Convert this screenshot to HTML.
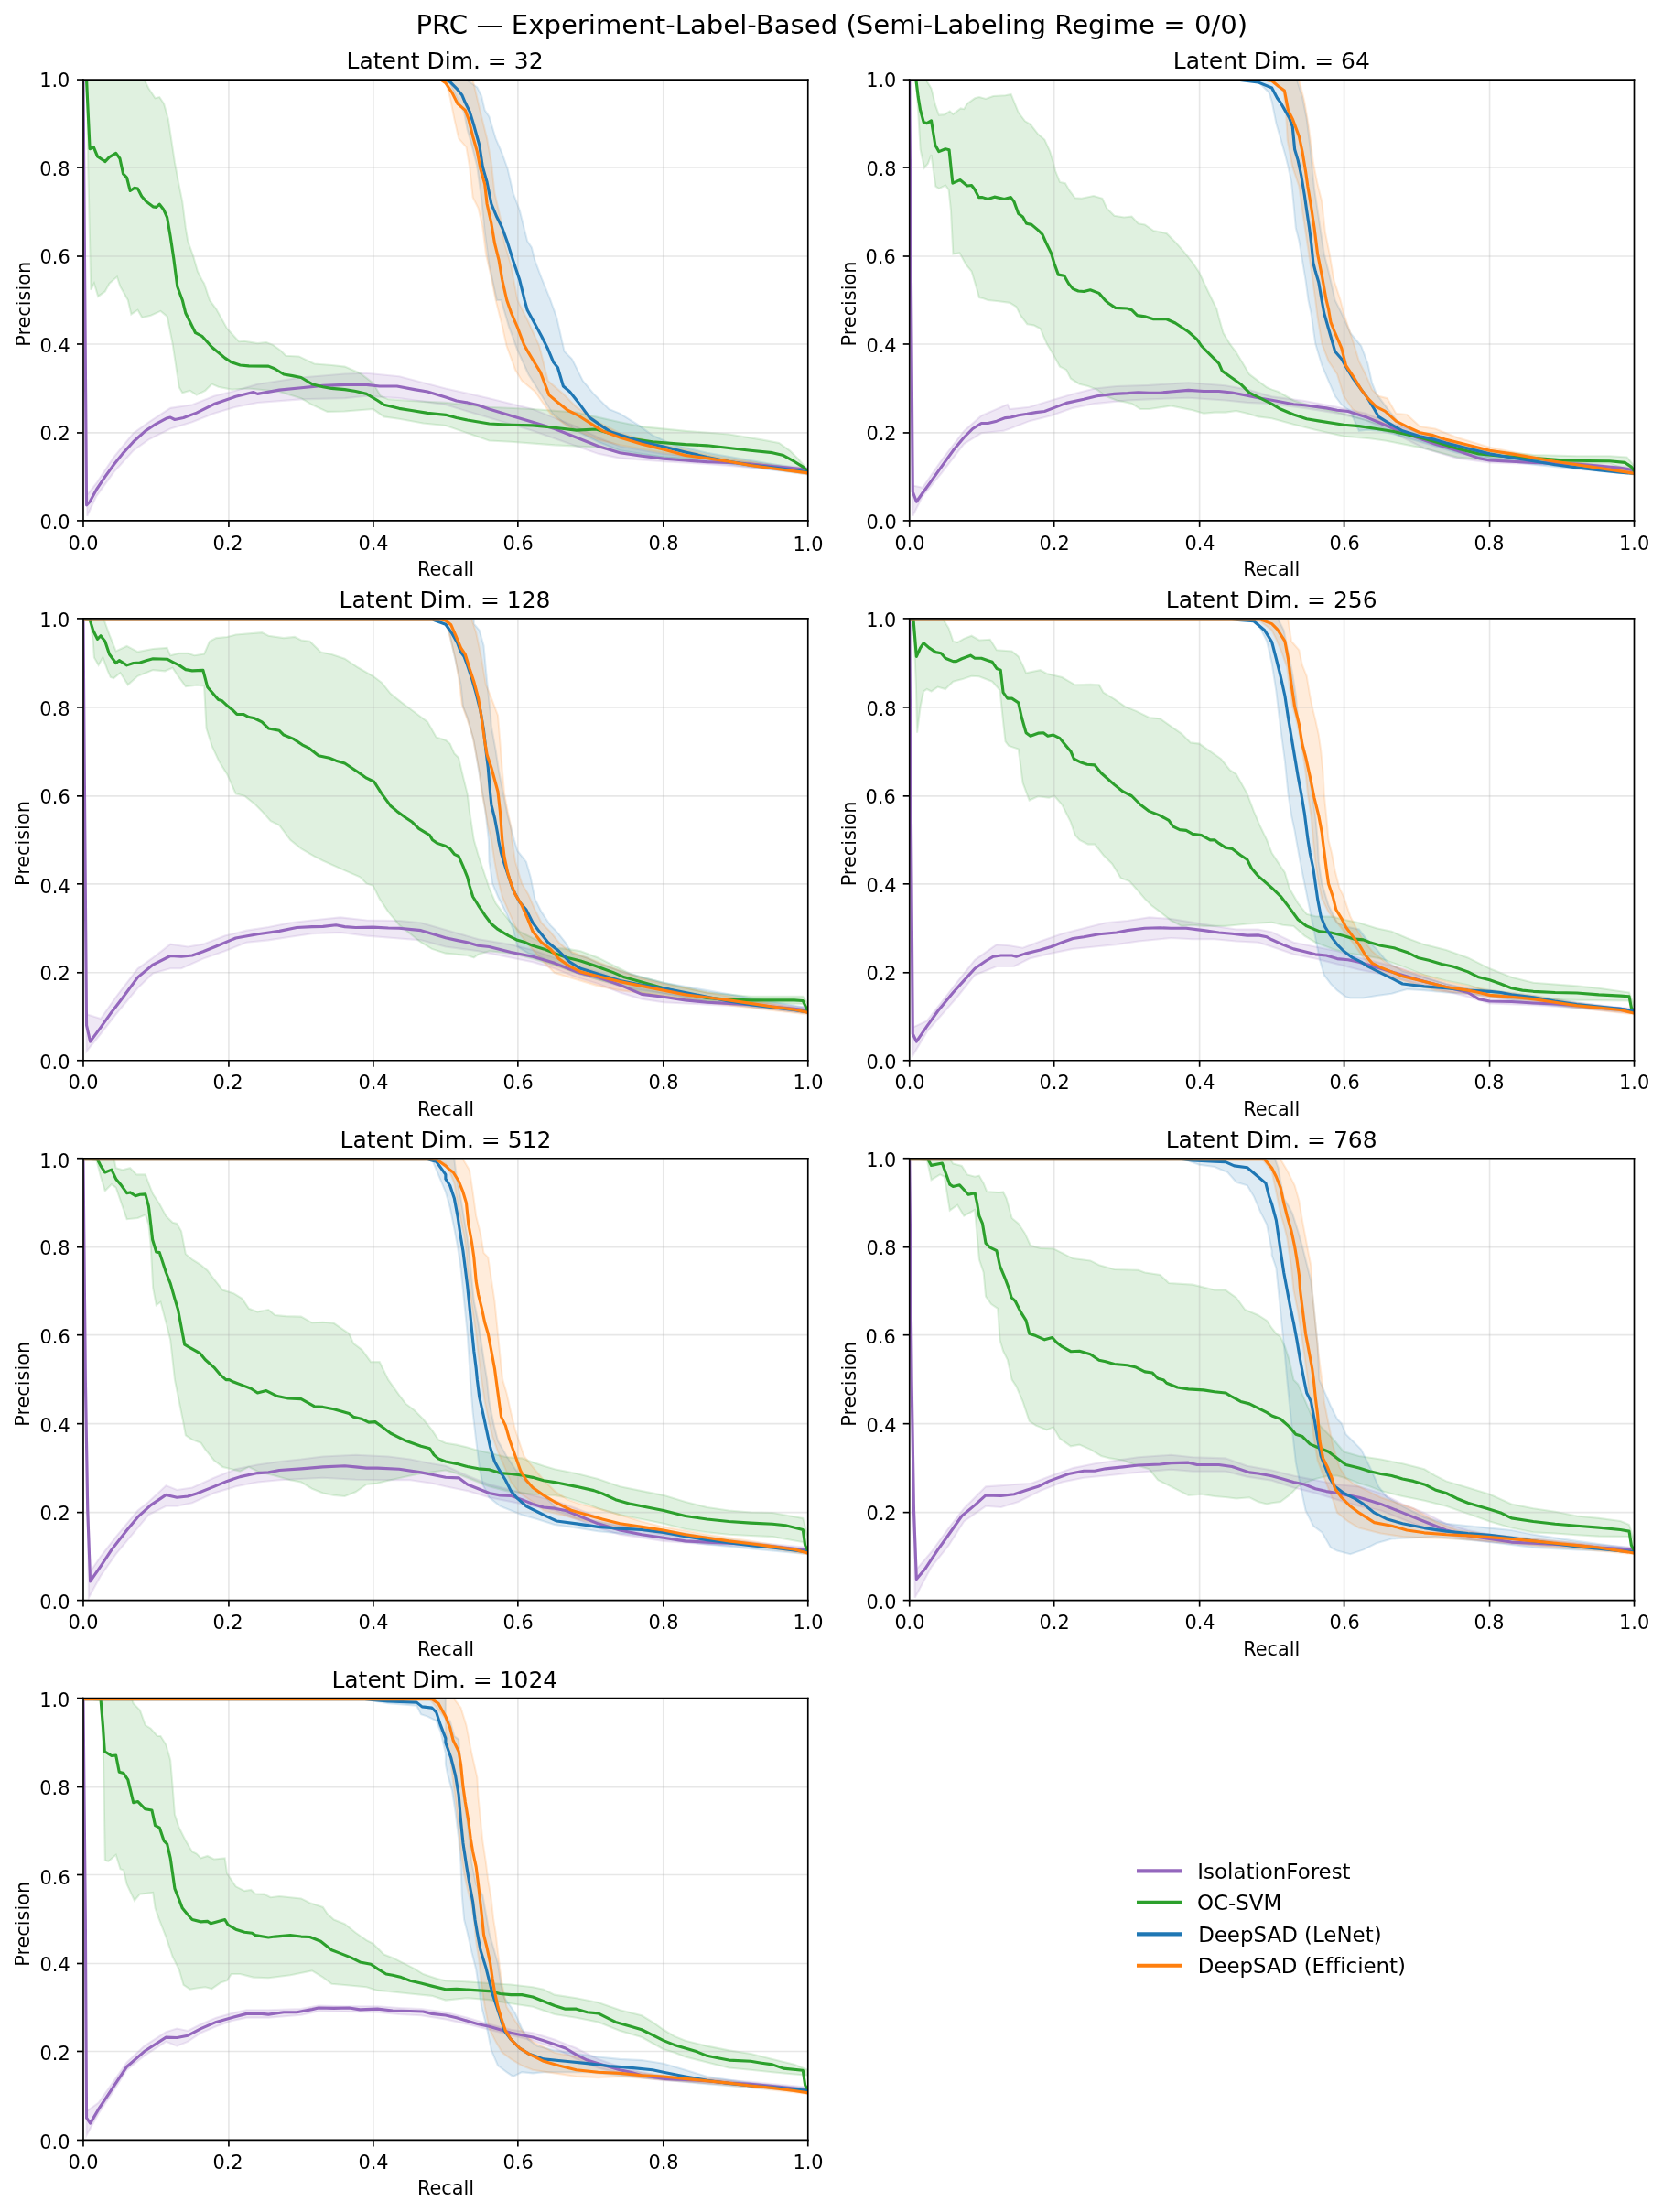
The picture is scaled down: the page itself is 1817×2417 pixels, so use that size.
<!DOCTYPE html>
<html><head><meta charset="utf-8"><title>PRC</title><style>html,body{margin:0;padding:0;background:#fff;}svg{display:block;will-change:transform;}text{font-variant-ligatures:none;font-feature-settings:"liga" 0,"clig" 0;}</style></head><body>
<svg width="1817" height="2417" viewBox="0 0 872.39952 1160.39952" version="1.1">
 
 <defs>
  <style type="text/css">*{stroke-linejoin: round; stroke-linecap: butt}</style>
 </defs>
 <g id="figure_1">
  <g id="patch_1">
   <path d="M 0 1160.39952 
L 872.39952 1160.39952 
L 872.39952 0 
L 0 0 
z
" style="fill: #ffffff"/>
  </g>
  <g id="axes_1">
   <g id="patch_2">
    <path d="M 43.76 273.57988 
L 423.92976 273.57988 
L 423.92976 41.76048 
L 43.76 41.76048 
z
" style="fill: #ffffff"/>
   </g>
   <g id="patch_3">
    <path d="M 43.6784 41.76048 
L 45.049994 260.336798 
L 50.53637 253.476997 
L 59.680331 239.757394 
L 69.967287 227.181092 
L 77.968252 221.464592 
L 89.398203 214.03314 
L 100.828153 212.31819 
L 112.258104 207.744989 
L 123.688055 204.886739 
L 135.118005 201.456838 
L 157.977907 198.026938 
L 180.837808 196.083328 
L 192.267759 195.740337 
L 209.412685 197.455288 
L 233.75848 203.743439 
L 256.618381 208.88829 
L 279.478283 214.60479 
L 302.338184 223.751192 
L 313.768135 229.467693 
L 325.198085 234.040894 
L 348.057987 238.042444 
L 370.917888 240.329045 
L 423.83856 245.473895 
L 423.83856 247.760496 
L 370.917888 243.415955 
L 348.057987 242.043995 
L 325.198085 240.329045 
L 313.768135 238.042444 
L 302.338184 234.040894 
L 279.478283 226.037792 
L 256.618381 219.177991 
L 233.75848 212.31819 
L 209.412685 208.88829 
L 192.267759 207.744989 
L 180.837808 208.88829 
L 157.977907 209.45994 
L 135.118005 211.17489 
L 123.688055 213.46149 
L 112.258104 216.891391 
L 100.828153 221.464592 
L 89.398203 224.894492 
L 77.968252 230.610993 
L 69.967287 236.327494 
L 59.680331 247.760496 
L 50.53637 260.336798 
L 45.735791 270.626499 
z
" clip-path="url(#pd69a87512f)" style="fill: #9467bd; fill-opacity: 0.15; stroke: #9467bd; stroke-opacity: 0.15; stroke-linejoin: miter"/>
   </g>
   <g id="patch_4">
    <path d="M 43.6784 40.617404 
L 75.682262 40.617404 
L 75.682262 41.76048 
L 77.968252 46.332784 
L 81.397237 51.476627 
L 83.683227 50.905089 
L 85.969218 54.334317 
L 88.255208 62.33585 
L 89.9697 73.766611 
L 91.684193 85.197372 
L 93.398685 94.341981 
L 95.684676 105.772742 
L 97.399168 119.489655 
L 98.542163 126.348111 
L 101.399651 134.349644 
L 103.685641 142.351177 
L 105.971631 146.923481 
L 107.114626 148.638095 
L 109.972114 157.439781 
L 113.401099 162.012982 
L 119.116075 172.302684 
L 125.402547 179.162485 
L 128.260035 178.933825 
L 135.118005 180.077125 
L 139.689986 179.505475 
L 143.118971 180.877435 
L 147.119454 183.735686 
L 149.976941 186.593936 
L 156.834912 186.936926 
L 164.835877 190.824147 
L 173.979838 191.510127 
L 180.837808 192.310437 
L 188.838774 195.740337 
L 195.696744 200.885188 
L 199.697227 207.744989 
L 203.69771 209.45994 
L 215.12766 210.26025 
L 233.75848 211.17489 
L 256.618381 213.46149 
L 279.478283 214.60479 
L 302.338184 216.319741 
L 325.198085 221.464592 
L 336.628036 223.751192 
L 359.487938 226.037792 
L 382.347839 227.752743 
L 399.492765 230.610993 
L 408.636726 232.325943 
L 414.351701 236.327494 
L 418.923681 240.900695 
L 423.83856 246.617196 
L 423.83856 248.332146 
L 393.77779 243.187295 
L 370.917888 240.900695 
L 348.057987 239.757394 
L 325.198085 237.470794 
L 313.768135 234.612544 
L 290.908233 233.469243 
L 268.048332 231.754293 
L 256.618381 231.182643 
L 245.188431 227.181092 
L 233.75848 223.179542 
L 221.985631 222.036242 
L 209.412685 219.749641 
L 201.41172 218.606341 
L 195.696744 214.60479 
L 180.837808 215.748091 
L 171.693848 215.976751 
L 163.692882 212.31819 
L 157.977907 208.88829 
L 146.547956 205.458389 
L 130.546025 203.743439 
L 121.402065 204.315089 
L 114.544094 202.943129 
L 111.115109 201.456838 
L 107.686124 204.886739 
L 103.114144 207.173339 
L 99.685158 204.886739 
L 95.684676 206.030039 
L 93.970183 203.171789 
L 90.541198 180.305785 
L 87.68371 166.014533 
L 84.254725 163.156282 
L 79.111247 165.442883 
L 74.539267 166.586183 
L 72.253277 162.584632 
L 68.824291 164.871233 
L 67.109799 157.439781 
L 63.109316 150.35271 
L 61.394824 145.208867 
L 57.394341 148.638095 
L 55.108351 152.867477 
L 51.450766 155.496552 
L 49.393375 148.638095 
L 47.678883 152.067324 
L 46.192989 87.483524 
L 45.735791 41.989095 
L 43.6784 41.76048 
z
" clip-path="url(#pd69a87512f)" style="fill: #2ca02c; fill-opacity: 0.15; stroke: #2ca02c; stroke-opacity: 0.15; stroke-linejoin: miter"/>
   </g>
   <g id="patch_5">
    <path d="M 43.6784 40.617404 
L 233.75848 40.617404 
L 244.616933 40.617404 
L 244.616933 41.76048 
L 250.331908 45.761246 
L 252.617899 50.333551 
L 254.332391 57.763545 
L 256.618381 61.192774 
L 260.047367 72.623535 
L 263.476352 80.625067 
L 266.333839 88.6266 
L 269.191327 101.200437 
L 272.620312 110.345046 
L 276.620795 126.348111 
L 278.906785 129.77734 
L 280.621278 136.635796 
L 284.050263 145.780405 
L 288.622243 157.039705 
L 292.051228 166.586183 
L 296.051711 184.307336 
L 300.052194 188.308886 
L 305.767169 199.741888 
L 311.482145 206.601689 
L 319.48311 214.60479 
L 325.198085 216.891391 
L 334.342046 222.607892 
L 342.343012 228.324393 
L 353.772962 233.469243 
L 370.917888 237.470794 
L 393.77779 241.472345 
L 423.83856 246.617196 
L 423.83856 248.903796 
L 370.917888 242.043995 
L 348.057987 239.757394 
L 325.198085 236.327494 
L 313.768135 231.754293 
L 304.624174 227.181092 
L 295.480214 221.464592 
L 289.765238 216.891391 
L 282.907268 205.458389 
L 277.192293 196.311988 
L 271.477317 183.735686 
L 266.905337 171.159384 
L 262.904854 157.439781 
L 260.618864 157.439781 
L 256.618381 138.921949 
L 254.332391 121.775807 
L 252.617899 104.629666 
L 250.331908 87.483524 
L 247.474421 76.052763 
L 245.188431 68.05123 
L 243.473938 58.906622 
L 240.61645 53.191241 
L 234.901475 41.76048 
L 232.272586 41.76048 
L 43.6784 41.76048 
z
" clip-path="url(#pd69a87512f)" style="fill: #1f77b4; fill-opacity: 0.15; stroke: #1f77b4; stroke-opacity: 0.15; stroke-linejoin: miter"/>
   </g>
   <g id="patch_6">
    <path d="M 43.6784 40.617404 
L 233.75848 40.617404 
L 248.045918 40.617404 
L 248.045918 41.76048 
L 252.046401 58.906622 
L 255.475386 72.623535 
L 257.761376 85.197372 
L 259.475869 101.200437 
L 262.904854 116.060427 
L 264.619347 127.491188 
L 268.048332 138.921949 
L 271.477317 157.439781 
L 277.192293 168.872783 
L 282.907268 181.449085 
L 287.479248 199.741888 
L 295.480214 206.601689 
L 302.338184 213.46149 
L 313.768135 221.464592 
L 325.198085 227.181092 
L 348.057987 233.469243 
L 370.917888 238.614094 
L 423.83856 247.188846 
L 423.83856 248.903796 
L 370.917888 240.900695 
L 348.057987 237.470794 
L 325.198085 233.469243 
L 313.768135 230.610993 
L 297.766204 223.751192 
L 288.622243 216.891391 
L 280.621278 205.458389 
L 273.763307 199.741888 
L 270.334322 194.025387 
L 265.762342 181.449085 
L 263.476352 171.159384 
L 260.047367 157.439781 
L 257.761376 145.780405 
L 254.903889 133.206568 
L 253.189396 119.489655 
L 250.903406 109.20197 
L 248.045918 103.486589 
L 246.331426 87.483524 
L 244.616933 77.195839 
L 240.61645 72.623535 
L 238.33046 62.33585 
L 236.04447 50.905089 
L 233.75848 42.903556 
L 229.986596 41.76048 
L 43.6784 41.76048 
z
" clip-path="url(#pd69a87512f)" style="fill: #ff7f0e; fill-opacity: 0.15; stroke: #ff7f0e; stroke-opacity: 0.15; stroke-linejoin: miter"/>
   </g>
   <g id="matplotlib.axis_1">
    <g id="xtick_1">
     <g id="line2d_1">
      <path d="M 43.6800 273.1200 L 43.6800 41.7600" clip-path="url(#pd69a87512f)" style="fill: none; stroke: #b0b0b0; stroke-opacity: 0.3; stroke-width: 0.8; stroke-linecap: square"/>
     </g>
     <g id="line2d_2">
      
      <g>
       <path d="M 43.6800 273.1200 L 43.6800 276.4800" style="stroke: #000000; stroke-width: 0.8"/>
      </g>
     </g>
     <g id="text_1">
      <text style="font-size: 10px; font-family: 'DejaVu Sans', 'Bitstream Vera Sans', 'Computer Modern Sans Serif', 'Lucida Grande', 'Verdana', 'Geneva', 'Lucid', 'Arial', 'Helvetica', 'Avant Garde', sans-serif; text-anchor: middle" x="43.7279" y="288.3653" transform="rotate(-0 43.7279 288.3653)">0.0</text>
     </g>
    </g>
    <g id="xtick_2">
     <g id="line2d_3">
      <path d="M 120.0000 273.1200 L 120.0000 41.7600" clip-path="url(#pd69a87512f)" style="fill: none; stroke: #b0b0b0; stroke-opacity: 0.3; stroke-width: 0.8; stroke-linecap: square"/>
     </g>
     <g id="line2d_4">
      <g>
       <path d="M 120.0000 273.1200 L 120.0000 276.4800" style="stroke: #000000; stroke-width: 0.8"/>
      </g>
     </g>
     <g id="text_2">
      <text style="font-size: 10px; font-family: 'DejaVu Sans', 'Bitstream Vera Sans', 'Computer Modern Sans Serif', 'Lucida Grande', 'Verdana', 'Geneva', 'Lucid', 'Arial', 'Helvetica', 'Avant Garde', sans-serif; text-anchor: middle" x="119.5900" y="288.3172" transform="rotate(-0 119.5900 288.3172)">0.2</text>
     </g>
    </g>
    <g id="xtick_3">
     <g id="line2d_5">
      <path d="M 195.8400 273.1200 L 195.8400 41.7600" clip-path="url(#pd69a87512f)" style="fill: none; stroke: #b0b0b0; stroke-opacity: 0.3; stroke-width: 0.8; stroke-linecap: square"/>
     </g>
     <g id="line2d_6">
      <g>
       <path d="M 195.8400 273.1200 L 195.8400 276.4800" style="stroke: #000000; stroke-width: 0.8"/>
      </g>
     </g>
     <g id="text_3">
      <text style="font-size: 10px; font-family: 'DejaVu Sans', 'Bitstream Vera Sans', 'Computer Modern Sans Serif', 'Lucida Grande', 'Verdana', 'Geneva', 'Lucid', 'Arial', 'Helvetica', 'Avant Garde', sans-serif; text-anchor: middle" x="195.9016" y="288.3013" transform="rotate(-0 195.9016 288.3013)">0.4</text>
     </g>
    </g>
    <g id="xtick_4">
     <g id="line2d_7">
      <path d="M 271.6800 273.1200 L 271.6800 41.7600" clip-path="url(#pd69a87512f)" style="fill: none; stroke: #b0b0b0; stroke-opacity: 0.3; stroke-width: 0.8; stroke-linecap: square"/>
     </g>
     <g id="line2d_8">
      <g>
       <path d="M 271.6800 273.1200 L 271.6800 276.4800" style="stroke: #000000; stroke-width: 0.8"/>
      </g>
     </g>
     <g id="text_4">
      <text style="font-size: 10px; font-family: 'DejaVu Sans', 'Bitstream Vera Sans', 'Computer Modern Sans Serif', 'Lucida Grande', 'Verdana', 'Geneva', 'Lucid', 'Arial', 'Helvetica', 'Avant Garde', sans-serif; text-anchor: middle" x="271.8153" y="288.3810" transform="rotate(-0 271.8153 288.3810)">0.6</text>
     </g>
    </g>
    <g id="xtick_5">
     <g id="line2d_9">
      <path d="M 348.0000 273.1200 L 348.0000 41.7600" clip-path="url(#pd69a87512f)" style="fill: none; stroke: #b0b0b0; stroke-opacity: 0.3; stroke-width: 0.8; stroke-linecap: square"/>
     </g>
     <g id="line2d_10">
      <g>
       <path d="M 348.0000 273.1200 L 348.0000 276.4800" style="stroke: #000000; stroke-width: 0.8"/>
      </g>
     </g>
     <g id="text_5">
      <text style="font-size: 10px; font-family: 'DejaVu Sans', 'Bitstream Vera Sans', 'Computer Modern Sans Serif', 'Lucida Grande', 'Verdana', 'Geneva', 'Lucid', 'Arial', 'Helvetica', 'Avant Garde', sans-serif; text-anchor: middle" x="348.0706" y="288.3790" transform="rotate(-0 348.0706 288.3790)">0.8</text>
     </g>
    </g>
    <g id="xtick_6">
     <g id="line2d_11">
      <path d="M 423.8400 273.1200 L 423.8400 41.7600" clip-path="url(#pd69a87512f)" style="fill: none; stroke: #b0b0b0; stroke-opacity: 0.3; stroke-width: 0.8; stroke-linecap: square"/>
     </g>
     <g id="line2d_12">
      <g>
       <path d="M 423.8400 273.1200 L 423.8400 276.4800" style="stroke: #000000; stroke-width: 0.8"/>
      </g>
     </g>
     <g id="text_6">
      <text style="font-size: 10px; font-family: 'DejaVu Sans', 'Bitstream Vera Sans', 'Computer Modern Sans Serif', 'Lucida Grande', 'Verdana', 'Geneva', 'Lucid', 'Arial', 'Helvetica', 'Avant Garde', sans-serif; text-anchor: middle" x="423.9606" y="288.8006" transform="rotate(-0 423.9606 288.8006)">1.0</text>
     </g>
    </g>
    <g id="text_7">
     <text style="font-size: 10px; font-family: 'DejaVu Sans', 'Bitstream Vera Sans', 'Computer Modern Sans Serif', 'Lucida Grande', 'Verdana', 'Geneva', 'Lucid', 'Arial', 'Helvetica', 'Avant Garde', sans-serif; text-anchor: middle" x="233.8013" y="301.8785" transform="rotate(-0 233.8013 301.8785)">Recall</text>
    </g>
   </g>
   <g id="matplotlib.axis_2">
    <g id="ytick_1">
     <g id="line2d_13">
      <path d="M 43.6800 273.1200 L 423.8400 273.1200" clip-path="url(#pd69a87512f)" style="fill: none; stroke: #b0b0b0; stroke-opacity: 0.3; stroke-width: 0.8; stroke-linecap: square"/>
     </g>
     <g id="line2d_14">
      
      <g>
       <path d="M 43.6800 273.1200 L 40.3200 273.1200" style="stroke: #000000; stroke-width: 0.8"/>
      </g>
     </g>
     <g id="text_8">
      <text style="font-size: 10px; font-family: 'DejaVu Sans', 'Bitstream Vera Sans', 'Computer Modern Sans Serif', 'Lucida Grande', 'Verdana', 'Geneva', 'Lucid', 'Arial', 'Helvetica', 'Avant Garde', sans-serif; text-anchor: end" x="36.7572" y="277.4351" transform="rotate(-0 36.7572 277.4351)">0.0</text>
     </g>
    </g>
    <g id="ytick_2">
     <g id="line2d_15">
      <path d="M 43.6800 227.0400 L 423.8400 227.0400" clip-path="url(#pd69a87512f)" style="fill: none; stroke: #b0b0b0; stroke-opacity: 0.3; stroke-width: 0.8; stroke-linecap: square"/>
     </g>
     <g id="line2d_16">
      <g>
       <path d="M 43.6800 227.0400 L 40.3200 227.0400" style="stroke: #000000; stroke-width: 0.8"/>
      </g>
     </g>
     <g id="text_9">
      <text style="font-size: 10px; font-family: 'DejaVu Sans', 'Bitstream Vera Sans', 'Computer Modern Sans Serif', 'Lucida Grande', 'Verdana', 'Geneva', 'Lucid', 'Arial', 'Helvetica', 'Avant Garde', sans-serif; text-anchor: end" x="36.8028" y="231.1146" transform="rotate(-0 36.8028 231.1146)">0.2</text>
     </g>
    </g>
    <g id="ytick_3">
     <g id="line2d_17">
      <path d="M 43.6800 180.4800 L 423.8400 180.4800" clip-path="url(#pd69a87512f)" style="fill: none; stroke: #b0b0b0; stroke-opacity: 0.3; stroke-width: 0.8; stroke-linecap: square"/>
     </g>
     <g id="line2d_18">
      <g>
       <path d="M 43.6800 180.4800 L 40.3200 180.4800" style="stroke: #000000; stroke-width: 0.8"/>
      </g>
     </g>
     <g id="text_10">
      <text style="font-size: 10px; font-family: 'DejaVu Sans', 'Bitstream Vera Sans', 'Computer Modern Sans Serif', 'Lucida Grande', 'Verdana', 'Geneva', 'Lucid', 'Arial', 'Helvetica', 'Avant Garde', sans-serif; text-anchor: end" x="36.8010" y="184.7256" transform="rotate(-0 36.8010 184.7256)">0.4</text>
     </g>
    </g>
    <g id="ytick_4">
     <g id="line2d_19">
      <path d="M 43.6800 134.4000 L 423.8400 134.4000" clip-path="url(#pd69a87512f)" style="fill: none; stroke: #b0b0b0; stroke-opacity: 0.3; stroke-width: 0.8; stroke-linecap: square"/>
     </g>
     <g id="line2d_20">
      <g>
       <path d="M 43.6800 134.4000 L 40.3200 134.4000" style="stroke: #000000; stroke-width: 0.8"/>
      </g>
     </g>
     <g id="text_11">
      <text style="font-size: 10px; font-family: 'DejaVu Sans', 'Bitstream Vera Sans', 'Computer Modern Sans Serif', 'Lucida Grande', 'Verdana', 'Geneva', 'Lucid', 'Arial', 'Helvetica', 'Avant Garde', sans-serif; text-anchor: end" x="36.8016" y="138.4441" transform="rotate(-0 36.8016 138.4441)">0.6</text>
     </g>
    </g>
    <g id="ytick_5">
     <g id="line2d_21">
      <path d="M 43.6800 87.8400 L 423.8400 87.8400" clip-path="url(#pd69a87512f)" style="fill: none; stroke: #b0b0b0; stroke-opacity: 0.3; stroke-width: 0.8; stroke-linecap: square"/>
     </g>
     <g id="line2d_22">
      <g>
       <path d="M 43.6800 87.8400 L 40.3200 87.8400" style="stroke: #000000; stroke-width: 0.8"/>
      </g>
     </g>
     <g id="text_12">
      <text style="font-size: 10px; font-family: 'DejaVu Sans', 'Bitstream Vera Sans', 'Computer Modern Sans Serif', 'Lucida Grande', 'Verdana', 'Geneva', 'Lucid', 'Arial', 'Helvetica', 'Avant Garde', sans-serif; text-anchor: end" x="36.7084" y="92.0687" transform="rotate(-0 36.7084 92.0687)">0.8</text>
     </g>
    </g>
    <g id="ytick_6">
     <g id="line2d_23">
      <path d="M 43.6800 41.7600 L 423.8400 41.7600" clip-path="url(#pd69a87512f)" style="fill: none; stroke: #b0b0b0; stroke-opacity: 0.3; stroke-width: 0.8; stroke-linecap: square"/>
     </g>
     <g id="line2d_24">
      <g>
       <path d="M 43.6800 41.7600 L 40.3200 41.7600" style="stroke: #000000; stroke-width: 0.8"/>
      </g>
     </g>
     <g id="text_13">
      <text style="font-size: 10px; font-family: 'DejaVu Sans', 'Bitstream Vera Sans', 'Computer Modern Sans Serif', 'Lucida Grande', 'Verdana', 'Geneva', 'Lucid', 'Arial', 'Helvetica', 'Avant Garde', sans-serif; text-anchor: end" x="36.6133" y="45.6274" transform="rotate(-0 36.6133 45.6274)">1.0</text>
     </g>
    </g>
    <g id="text_14">
     <text style="font-size: 10px; font-family: 'DejaVu Sans', 'Bitstream Vera Sans', 'Computer Modern Sans Serif', 'Lucida Grande', 'Verdana', 'Geneva', 'Lucid', 'Arial', 'Helvetica', 'Avant Garde', sans-serif; text-anchor: middle" x="15.6228" y="159.5011" transform="rotate(-90 15.6228 159.5011)">Precision</text>
    </g>
   </g>
   <g id="line2d_25">
    <path d="M 43.6784 41.76048 
L 45.392893 264.909999 
L 47.107385 263.195048 
L 50.53637 256.906897 
L 55.108351 250.047096 
L 59.680331 243.758945 
L 64.252311 238.042444 
L 69.967287 231.754293 
L 76.253759 226.037792 
L 81.968735 222.264902 
L 87.112213 219.520981 
L 89.398203 218.949331 
L 91.684193 220.092631 
L 96.256173 219.177991 
L 103.114144 216.548401 
L 112.258104 211.9752 
L 123.688055 207.973649 
L 132.832015 205.687049 
L 135.118005 206.601689 
L 146.547956 204.543749 
L 157.977907 203.400449 
L 169.407858 202.257149 
L 180.837808 201.799828 
L 192.267759 201.799828 
L 199.125729 202.600139 
L 208.26969 202.600139 
L 217.41365 204.315089 
L 224.271621 205.458389 
L 233.75848 208.316639 
L 239.473455 210.26025 
L 245.188431 211.17489 
L 250.903406 212.54685 
L 256.618381 214.60479 
L 268.048332 218.034691 
L 279.478283 221.464592 
L 290.908233 224.894492 
L 302.338184 229.467693 
L 313.768135 234.040894 
L 325.198085 237.470794 
L 336.628036 239.185744 
L 348.057987 240.557705 
L 359.487938 241.472345 
L 370.917888 242.272655 
L 382.347839 242.615645 
L 393.77779 243.415955 
L 405.20774 244.559255 
L 416.637691 245.702555 
L 423.83856 246.388536 
" clip-path="url(#pd69a87512f)" style="fill: none; stroke: #9467bd; stroke-width: 1.5; stroke-linecap: square"/>
   </g>
   <g id="line2d_26">
    <path d="M 43.6784 41.531865 
L 45.392893 41.76048 
L 47.107385 78.1103 
L 49.164776 77.195839 
L 51.107868 81.996759 
L 55.108351 84.740141 
L 57.394341 82.339682 
L 60.823326 80.282145 
L 62.880717 83.139835 
L 64.59521 91.141368 
L 66.538301 93.198905 
L 68.252794 100.057361 
L 70.538784 98.571362 
L 72.253277 98.914285 
L 74.310668 102.915051 
L 76.825257 105.772742 
L 80.254242 108.401817 
L 81.968735 108.630432 
L 83.683227 107.144433 
L 85.740619 109.773508 
L 87.68371 114.00289 
L 89.398203 124.061959 
L 91.112695 135.49272 
L 93.055787 150.35271 
L 95.684676 157.439781 
L 97.399168 164.299582 
L 99.685158 168.872783 
L 102.542646 174.589284 
L 105.971631 176.304234 
L 111.115109 182.020735 
L 117.973079 187.737236 
L 121.402065 190.023837 
L 125.974045 191.510127 
L 130.546025 191.967447 
L 140.832981 192.081777 
L 144.261966 193.453737 
L 148.833946 196.311988 
L 153.405927 197.112298 
L 157.977907 198.026938 
L 163.692882 201.456838 
L 169.407858 202.943129 
L 173.979838 203.743439 
L 180.837808 204.315089 
L 186.552784 205.229729 
L 192.267759 206.601689 
L 197.982734 210.03159 
L 201.41172 212.31819 
L 209.412685 214.2618 
L 215.12766 215.176441 
L 224.271621 216.662731 
L 233.75848 217.634536 
L 239.473455 219.177991 
L 245.188431 220.321291 
L 256.618381 222.264902 
L 268.048332 222.836552 
L 279.478283 223.179542 
L 290.908233 224.322842 
L 302.338184 225.694802 
L 312.62514 225.123152 
L 319.48311 227.181092 
L 330.913061 230.039343 
L 342.343012 231.754293 
L 359.487938 233.126253 
L 370.917888 233.697904 
L 382.347839 234.955534 
L 393.77779 236.327494 
L 405.20774 237.470794 
L 410.922716 238.842754 
L 416.637691 242.043995 
L 421.209671 244.902245 
L 423.83856 247.188846 
" clip-path="url(#pd69a87512f)" style="fill: none; stroke: #2ca02c; stroke-width: 1.5; stroke-linecap: square"/>
   </g>
   <g id="line2d_27">
    <path d="M 43.6784 41.76048 
L 233.415581 41.76048 
L 233.75848 41.76048 
L 236.04447 42.903556 
L 239.473455 46.332784 
L 242.330943 49.762013 
L 244.045436 53.762779 
L 246.331426 58.335083 
L 248.617416 65.765078 
L 251.474904 76.052763 
L 253.189396 87.483524 
L 255.475386 95.485057 
L 257.761376 106.915818 
L 260.618864 113.774274 
L 263.476352 119.489655 
L 266.333839 127.491188 
L 269.191327 136.635796 
L 272.620312 146.923481 
L 275.192051 157.439781 
L 276.620795 162.584632 
L 280.04978 168.872783 
L 284.050263 176.304234 
L 287.479248 183.164035 
L 290.336736 190.023837 
L 292.622726 192.882087 
L 295.480214 202.600139 
L 298.909199 205.458389 
L 303.481179 211.17489 
L 309.196155 218.949331 
L 316.054125 223.751192 
L 320.626105 226.609442 
L 336.628036 231.754293 
L 348.057987 234.269554 
L 359.487938 237.127804 
L 370.917888 239.757394 
L 382.347839 242.043995 
L 393.77779 243.987605 
L 405.20774 245.245235 
L 416.637691 246.617196 
L 423.83856 247.760496 
" clip-path="url(#pd69a87512f)" style="fill: none; stroke: #1f77b4; stroke-width: 1.5; stroke-linecap: square"/>
   </g>
   <g id="line2d_28">
    <path d="M 43.6784 41.76048 
L 231.129591 41.76048 
L 233.75848 43.475094 
L 237.187465 48.618937 
L 240.044953 54.334317 
L 244.045436 57.763545 
L 245.759928 62.33585 
L 248.045918 71.480459 
L 250.331908 79.481991 
L 252.046401 88.6266 
L 254.332391 96.628133 
L 255.475386 106.915818 
L 257.761376 117.203503 
L 259.475869 127.491188 
L 261.761859 136.635796 
L 263.476352 146.923481 
L 265.876641 157.439781 
L 268.048332 163.727932 
L 271.477317 171.731034 
L 274.906302 180.877435 
L 277.192293 184.878986 
L 280.621278 190.595487 
L 283.478765 195.168687 
L 288.050746 207.173339 
L 292.051228 210.60324 
L 297.766204 215.176441 
L 303.481179 218.034691 
L 311.482145 223.179542 
L 316.054125 226.037792 
L 325.198085 229.467693 
L 336.628036 232.897593 
L 348.057987 235.755844 
L 359.487938 238.842754 
L 370.917888 240.329045 
L 382.347839 242.043995 
L 393.77779 244.101935 
L 405.20774 245.702555 
L 416.637691 247.188846 
L 423.83856 248.103486 
" clip-path="url(#pd69a87512f)" style="fill: none; stroke: #ff7f0e; stroke-width: 1.5; stroke-linecap: square"/>
   </g>
   <g id="patch_7">
    <path d="M 43.6800 273.1200 L 43.6800 41.7600" style="fill: none; stroke: #000000; stroke-width: 0.8; stroke-linejoin: miter; stroke-linecap: square"/>
   </g>
   <g id="patch_8">
    <path d="M 423.8400 273.1200 L 423.8400 41.7600" style="fill: none; stroke: #000000; stroke-width: 0.8; stroke-linejoin: miter; stroke-linecap: square"/>
   </g>
   <g id="patch_9">
    <path d="M 43.6800 273.1200 L 423.8400 273.1200" style="fill: none; stroke: #000000; stroke-width: 0.8; stroke-linejoin: miter; stroke-linecap: square"/>
   </g>
   <g id="patch_10">
    <path d="M 43.6800 41.7600 L 423.8400 41.7600" style="fill: none; stroke: #000000; stroke-width: 0.8; stroke-linejoin: miter; stroke-linecap: square"/>
   </g>
   <g id="text_15">
    <text style="font-size: 12px; font-family: 'DejaVu Sans', 'Bitstream Vera Sans', 'Computer Modern Sans Serif', 'Lucida Grande', 'Verdana', 'Geneva', 'Lucid', 'Arial', 'Helvetica', 'Avant Garde', sans-serif; text-anchor: middle" x="233.3484" y="35.7335" transform="rotate(-0 233.3484 35.7335)">Latent Dim. = 32</text>
   </g>
  </g>
  <g id="axes_2">
   <g id="patch_11">
    <path d="M 477.07976 273.57988 
L 857.24952 273.57988 
L 857.24952 41.76048 
L 477.07976 41.76048 
z
" style="fill: #ffffff"/>
   </g>
   <g id="patch_12">
    <path d="M 477.11816 41.76048 
L 478.832653 254.620297 
L 483.97613 255.763597 
L 494.263086 240.900695 
L 505.693037 226.037792 
L 514.836997 218.034691 
L 528.552938 212.08953 
L 529.695933 214.60479 
L 539.982889 213.46149 
L 551.41284 210.03159 
L 562.84279 206.601689 
L 574.272741 203.743439 
L 585.702692 202.600139 
L 602.847618 202.028488 
L 623.421529 200.656528 
L 642.852445 202.257149 
L 654.282396 204.315089 
L 667.19824 208.030814 
L 684.343166 210.26025 
L 701.488092 213.46149 
L 716.347028 216.891391 
L 731.205964 222.607892 
L 747.207895 227.181092 
L 764.352821 233.469243 
L 781.497747 239.757394 
L 804.357648 241.472345 
L 827.21755 242.272655 
L 857.27832 245.473895 
L 857.27832 247.760496 
L 827.21755 244.559255 
L 804.357648 243.415955 
L 781.497747 242.615645 
L 764.352821 240.329045 
L 747.207895 235.184194 
L 731.205964 227.181092 
L 716.347028 220.321291 
L 701.488092 216.891391 
L 684.343166 214.03314 
L 667.19824 211.74654 
L 654.282396 211.17489 
L 642.852445 210.03159 
L 623.421529 208.65963 
L 602.847618 209.45994 
L 591.417667 210.03159 
L 574.272741 211.74654 
L 562.84279 214.03314 
L 551.41284 218.034691 
L 539.982889 220.892941 
L 529.695933 224.894492 
L 526.266948 226.037792 
L 514.836997 227.181092 
L 505.693037 232.897593 
L 494.263086 247.760496 
L 483.97613 260.336798 
L 478.832653 270.626499 
z
" clip-path="url(#p1ceb01bb63)" style="fill: #9467bd; fill-opacity: 0.15; stroke: #9467bd; stroke-opacity: 0.15; stroke-linejoin: miter"/>
   </g>
   <g id="patch_13">
    <path d="M 477.11816 40.617404 
L 485.119126 40.617404 
L 485.690623 41.76048 
L 488.548111 46.332784 
L 490.834101 55.477393 
L 492.548593 60.278313 
L 495.406081 60.049698 
L 498.263569 58.335083 
L 499.978061 59.821082 
L 503.978544 56.849085 
L 505.693037 57.192007 
L 507.407529 54.334317 
L 511.408012 51.476627 
L 513.694002 50.905089 
L 517.122987 51.81955 
L 521.12347 50.333551 
L 527.409943 49.990628 
L 530.38173 49.361936 
L 534.267913 58.906622 
L 537.696899 63.478926 
L 540.554386 65.19354 
L 544.554869 70.337383 
L 547.983854 73.195073 
L 550.841342 79.481991 
L 552.555835 85.197372 
L 553.69883 89.769676 
L 555.98482 95.485057 
L 558.842307 96.056595 
L 561.128298 100.057361 
L 563.985785 103.829512 
L 567.41477 104.058127 
L 573.701243 102.686436 
L 578.273224 104.058127 
L 580.559214 109.20197 
L 584.559697 113.202736 
L 589.703174 114.00289 
L 593.703657 113.545659 
L 597.132642 117.203503 
L 600.561627 117.775041 
L 605.133608 120.975654 
L 611.991578 122.347345 
L 616.563558 126.91965 
L 621.135539 132.063492 
L 625.707519 137.778872 
L 629.136504 142.922715 
L 632.565489 150.35271 
L 635.994475 157.439781 
L 638.280465 162.012982 
L 639.42346 166.586183 
L 641.70945 174.589284 
L 645.138435 180.305785 
L 648.56742 184.878986 
L 651.996406 190.595487 
L 655.425391 196.311988 
L 659.997371 199.741888 
L 664.569351 203.171789 
L 667.19824 204.315089 
L 670.627225 205.458389 
L 678.628191 210.03159 
L 690.058141 213.46149 
L 704.917077 216.891391 
L 718.633018 220.892941 
L 732.348959 224.894492 
L 747.207895 230.610993 
L 764.352821 234.040894 
L 781.497747 236.327494 
L 804.357648 238.614094 
L 827.21755 239.185744 
L 844.362476 239.185744 
L 853.506436 239.757394 
L 857.27832 244.330595 
L 857.27832 247.760496 
L 844.362476 243.187295 
L 827.21755 242.615645 
L 804.357648 242.043995 
L 781.497747 241.472345 
L 764.352821 239.757394 
L 747.207895 235.184194 
L 735.777944 232.897593 
L 726.633984 231.182643 
L 718.633018 230.039343 
L 704.917077 228.896043 
L 690.058141 225.466142 
L 678.628191 222.607892 
L 667.19824 219.463816 
L 659.997371 218.606341 
L 654.282396 216.891391 
L 648.56742 215.519431 
L 642.852445 216.319741 
L 637.13747 216.319741 
L 631.422494 216.891391 
L 625.707519 215.176441 
L 619.992544 214.03314 
L 614.277568 212.88984 
L 602.847618 214.60479 
L 598.275637 214.60479 
L 593.703657 211.74654 
L 585.702692 210.03159 
L 579.987716 207.744989 
L 575.415736 204.315089 
L 570.843756 202.600139 
L 566.271775 201.456838 
L 561.699795 198.598588 
L 559.413805 194.025387 
L 555.98482 192.310437 
L 552.555835 186.022286 
L 549.126849 180.305785 
L 545.697864 172.302684 
L 542.268879 170.587733 
L 538.839894 170.016083 
L 535.410909 165.442883 
L 533.124918 160.869682 
L 529.695933 158.811742 
L 523.980958 158.011431 
L 518.265983 157.439781 
L 515.979992 156.639628 
L 513.694002 156.06809 
L 511.408012 148.066557 
L 509.693519 142.351177 
L 506.836032 138.921949 
L 503.407047 132.63503 
L 499.978061 133.206568 
L 498.835066 110.345046 
L 497.692071 99.485823 
L 495.977579 97.199671 
L 492.548593 98.914285 
L 490.834101 97.771209 
L 489.691106 89.769676 
L 488.548111 81.196605 
L 486.833618 85.76891 
L 484.890526 88.055062 
L 482.833135 78.338915 
L 481.69014 58.906622 
L 480.547145 41.989095 
L 477.11816 41.76048 
z
" clip-path="url(#p1ceb01bb63)" style="fill: #2ca02c; fill-opacity: 0.15; stroke: #2ca02c; stroke-opacity: 0.15; stroke-linejoin: miter"/>
   </g>
   <g id="patch_14">
    <path d="M 477.11816 40.617404 
L 667.19824 40.617404 
L 680.342683 40.617404 
L 680.342683 41.76048 
L 683.200171 50.905089 
L 685.486161 62.33585 
L 687.200654 76.052763 
L 688.343649 87.483524 
L 689.486644 98.914285 
L 691.201136 110.345046 
L 692.915629 121.775807 
L 694.630122 133.206568 
L 697.487609 144.637329 
L 700.345097 157.439781 
L 703.774082 164.299582 
L 708.346063 174.589284 
L 714.061038 181.449085 
L 717.490023 190.595487 
L 719.776013 200.885188 
L 722.062003 206.601689 
L 725.490989 211.17489 
L 728.919974 215.748091 
L 733.491954 221.464592 
L 741.49292 226.037792 
L 752.92287 229.467693 
L 764.352821 232.897593 
L 781.497747 236.327494 
L 804.357648 240.672035 
L 827.21755 244.101935 
L 857.27832 247.531836 
L 857.27832 248.903796 
L 827.21755 246.045545 
L 804.357648 243.758945 
L 781.497747 240.329045 
L 764.352821 237.470794 
L 752.92287 234.040894 
L 741.49292 230.610993 
L 731.205964 227.752743 
L 724.347993 226.037792 
L 717.490023 225.466142 
L 712.918043 226.037792 
L 708.346063 215.748091 
L 703.774082 212.31819 
L 700.345097 207.744989 
L 696.916112 199.741888 
L 693.487127 191.738787 
L 690.058141 180.305785 
L 687.772151 164.299582 
L 686.343407 157.439781 
L 684.914664 146.923481 
L 683.200171 136.635796 
L 681.485678 126.348111 
L 679.771186 119.489655 
L 678.628191 106.915818 
L 677.485196 95.485057 
L 675.770703 87.483524 
L 674.05621 80.625067 
L 671.77022 72.623535 
L 669.48423 64.622002 
L 667.19824 53.191241 
L 665.712346 48.618937 
L 658.854376 41.76048 
L 477.11816 41.76048 
z
" clip-path="url(#p1ceb01bb63)" style="fill: #1f77b4; fill-opacity: 0.15; stroke: #1f77b4; stroke-opacity: 0.15; stroke-linejoin: miter"/>
   </g>
   <g id="patch_15">
    <path d="M 477.11816 40.617404 
L 667.19824 40.617404 
L 681.485678 40.617404 
L 681.485678 41.76048 
L 684.343166 53.191241 
L 686.629156 66.908154 
L 688.915146 85.197372 
L 691.201136 96.628133 
L 693.487127 105.772742 
L 695.201619 121.775807 
L 697.487609 133.206568 
L 699.773599 146.923481 
L 703.202585 157.439781 
L 704.917077 164.299582 
L 709.489058 178.019185 
L 712.918043 189.452186 
L 716.347028 196.311988 
L 719.776013 204.315089 
L 723.204998 207.744989 
L 727.776979 208.88829 
L 732.348959 216.891391 
L 738.063934 217.463041 
L 744.921905 223.751192 
L 752.92287 224.894492 
L 764.352821 229.467693 
L 781.497747 234.612544 
L 804.357648 239.185744 
L 827.21755 242.615645 
L 857.27832 247.188846 
L 857.27832 248.903796 
L 827.21755 244.902245 
L 804.357648 240.900695 
L 781.497747 236.899144 
L 758.637846 232.897593 
L 747.207895 230.610993 
L 735.777944 226.037792 
L 724.347993 221.464592 
L 716.347028 219.177991 
L 709.489058 214.60479 
L 704.917077 207.744989 
L 701.488092 196.311988 
L 696.916112 189.452186 
L 693.487127 180.305785 
L 691.201136 166.586183 
L 690.058141 157.439781 
L 688.343649 144.637329 
L 686.629156 133.206568 
L 684.914664 121.775807 
L 683.200171 110.345046 
L 681.485678 97.771209 
L 678.056693 87.483524 
L 675.427805 73.766611 
L 674.627708 58.906622 
L 673.484713 48.618937 
L 671.77022 46.332784 
L 667.19824 42.903556 
L 663.426356 41.76048 
L 477.11816 41.76048 
z
" clip-path="url(#p1ceb01bb63)" style="fill: #ff7f0e; fill-opacity: 0.15; stroke: #ff7f0e; stroke-opacity: 0.15; stroke-linejoin: miter"/>
   </g>
   <g id="matplotlib.axis_3">
    <g id="xtick_7">
     <g id="line2d_29">
      <path d="M 477.1200 273.1200 L 477.1200 41.7600" clip-path="url(#p1ceb01bb63)" style="fill: none; stroke: #b0b0b0; stroke-opacity: 0.3; stroke-width: 0.8; stroke-linecap: square"/>
     </g>
     <g id="line2d_30">
      <g>
       <path d="M 477.1200 273.1200 L 477.1200 276.4800" style="stroke: #000000; stroke-width: 0.8"/>
      </g>
     </g>
     <g id="text_16">
      <text style="font-size: 10px; font-family: 'DejaVu Sans', 'Bitstream Vera Sans', 'Computer Modern Sans Serif', 'Lucida Grande', 'Verdana', 'Geneva', 'Lucid', 'Arial', 'Helvetica', 'Avant Garde', sans-serif; text-anchor: middle" x="477.2541" y="288.3701" transform="rotate(-0 477.2541 288.3701)">0.0</text>
     </g>
    </g>
    <g id="xtick_8">
     <g id="line2d_31">
      <path d="M 552.9600 273.1200 L 552.9600 41.7600" clip-path="url(#p1ceb01bb63)" style="fill: none; stroke: #b0b0b0; stroke-opacity: 0.3; stroke-width: 0.8; stroke-linecap: square"/>
     </g>
     <g id="line2d_32">
      <g>
       <path d="M 552.9600 273.1200 L 552.9600 276.4800" style="stroke: #000000; stroke-width: 0.8"/>
      </g>
     </g>
     <g id="text_17">
      <text style="font-size: 10px; font-family: 'DejaVu Sans', 'Bitstream Vera Sans', 'Computer Modern Sans Serif', 'Lucida Grande', 'Verdana', 'Geneva', 'Lucid', 'Arial', 'Helvetica', 'Avant Garde', sans-serif; text-anchor: middle" x="553.1565" y="288.3185" transform="rotate(-0 553.1565 288.3185)">0.2</text>
     </g>
    </g>
    <g id="xtick_9">
     <g id="line2d_33">
      <path d="M 629.2800 273.1200 L 629.2800 41.7600" clip-path="url(#p1ceb01bb63)" style="fill: none; stroke: #b0b0b0; stroke-opacity: 0.3; stroke-width: 0.8; stroke-linecap: square"/>
     </g>
     <g id="line2d_34">
      <g>
       <path d="M 629.2800 273.1200 L 629.2800 276.4800" style="stroke: #000000; stroke-width: 0.8"/>
      </g>
     </g>
     <g id="text_18">
      <text style="font-size: 10px; font-family: 'DejaVu Sans', 'Bitstream Vera Sans', 'Computer Modern Sans Serif', 'Lucida Grande', 'Verdana', 'Geneva', 'Lucid', 'Arial', 'Helvetica', 'Avant Garde', sans-serif; text-anchor: middle" x="629.4753" y="288.3036" transform="rotate(-0 629.4753 288.3036)">0.4</text>
     </g>
    </g>
    <g id="xtick_10">
     <g id="line2d_35">
      <path d="M 705.1200 273.1200 L 705.1200 41.7600" clip-path="url(#p1ceb01bb63)" style="fill: none; stroke: #b0b0b0; stroke-opacity: 0.3; stroke-width: 0.8; stroke-linecap: square"/>
     </g>
     <g id="line2d_36">
      <g>
       <path d="M 705.1200 273.1200 L 705.1200 276.4800" style="stroke: #000000; stroke-width: 0.8"/>
      </g>
     </g>
     <g id="text_19">
      <text style="font-size: 10px; font-family: 'DejaVu Sans', 'Bitstream Vera Sans', 'Computer Modern Sans Serif', 'Lucida Grande', 'Verdana', 'Geneva', 'Lucid', 'Arial', 'Helvetica', 'Avant Garde', sans-serif; text-anchor: middle" x="705.3714" y="288.3961" transform="rotate(-0 705.3714 288.3961)">0.6</text>
     </g>
    </g>
    <g id="xtick_11">
     <g id="line2d_37">
      <path d="M 781.4400 273.1200 L 781.4400 41.7600" clip-path="url(#p1ceb01bb63)" style="fill: none; stroke: #b0b0b0; stroke-opacity: 0.3; stroke-width: 0.8; stroke-linecap: square"/>
     </g>
     <g id="line2d_38">
      <g>
       <path d="M 781.4400 273.1200 L 781.4400 276.4800" style="stroke: #000000; stroke-width: 0.8"/>
      </g>
     </g>
     <g id="text_20">
      <text style="font-size: 10px; font-family: 'DejaVu Sans', 'Bitstream Vera Sans', 'Computer Modern Sans Serif', 'Lucida Grande', 'Verdana', 'Geneva', 'Lucid', 'Arial', 'Helvetica', 'Avant Garde', sans-serif; text-anchor: middle" x="781.1639" y="288.3642" transform="rotate(-0 781.1639 288.3642)">0.8</text>
     </g>
    </g>
    <g id="xtick_12">
     <g id="line2d_39">
      <path d="M 857.2800 273.1200 L 857.2800 41.7600" clip-path="url(#p1ceb01bb63)" style="fill: none; stroke: #b0b0b0; stroke-opacity: 0.3; stroke-width: 0.8; stroke-linecap: square"/>
     </g>
     <g id="line2d_40">
      <g>
       <path d="M 857.2800 273.1200 L 857.2800 276.4800" style="stroke: #000000; stroke-width: 0.8"/>
      </g>
     </g>
     <g id="text_21">
      <text style="font-size: 10px; font-family: 'DejaVu Sans', 'Bitstream Vera Sans', 'Computer Modern Sans Serif', 'Lucida Grande', 'Verdana', 'Geneva', 'Lucid', 'Arial', 'Helvetica', 'Avant Garde', sans-serif; text-anchor: middle" x="857.3537" y="288.3111" transform="rotate(-0 857.3537 288.3111)">1.0</text>
     </g>
    </g>
    <g id="text_22">
     <text style="font-size: 10px; font-family: 'DejaVu Sans', 'Bitstream Vera Sans', 'Computer Modern Sans Serif', 'Lucida Grande', 'Verdana', 'Geneva', 'Lucid', 'Arial', 'Helvetica', 'Avant Garde', sans-serif; text-anchor: middle" x="667.0314" y="301.8857" transform="rotate(-0 667.0314 301.8857)">Recall</text>
    </g>
   </g>
   <g id="matplotlib.axis_4">
    <g id="ytick_7">
     <g id="line2d_41">
      <path d="M 477.1200 273.1200 L 857.2800 273.1200" clip-path="url(#p1ceb01bb63)" style="fill: none; stroke: #b0b0b0; stroke-opacity: 0.3; stroke-width: 0.8; stroke-linecap: square"/>
     </g>
     <g id="line2d_42">
      <g>
       <path d="M 477.1200 273.1200 L 473.7600 273.1200" style="stroke: #000000; stroke-width: 0.8"/>
      </g>
     </g>
     <g id="text_23">
      <text style="font-size: 10px; font-family: 'DejaVu Sans', 'Bitstream Vera Sans', 'Computer Modern Sans Serif', 'Lucida Grande', 'Verdana', 'Geneva', 'Lucid', 'Arial', 'Helvetica', 'Avant Garde', sans-serif; text-anchor: end" x="470.3687" y="277.3778" transform="rotate(-0 470.3687 277.3778)">0.0</text>
     </g>
    </g>
    <g id="ytick_8">
     <g id="line2d_43">
      <path d="M 477.1200 227.0400 L 857.2800 227.0400" clip-path="url(#p1ceb01bb63)" style="fill: none; stroke: #b0b0b0; stroke-opacity: 0.3; stroke-width: 0.8; stroke-linecap: square"/>
     </g>
     <g id="line2d_44">
      <g>
       <path d="M 477.1200 227.0400 L 473.7600 227.0400" style="stroke: #000000; stroke-width: 0.8"/>
      </g>
     </g>
     <g id="text_24">
      <text style="font-size: 10px; font-family: 'DejaVu Sans', 'Bitstream Vera Sans', 'Computer Modern Sans Serif', 'Lucida Grande', 'Verdana', 'Geneva', 'Lucid', 'Arial', 'Helvetica', 'Avant Garde', sans-serif; text-anchor: end" x="470.3558" y="231.1133" transform="rotate(-0 470.3558 231.1133)">0.2</text>
     </g>
    </g>
    <g id="ytick_9">
     <g id="line2d_45">
      <path d="M 477.1200 180.4800 L 857.2800 180.4800" clip-path="url(#p1ceb01bb63)" style="fill: none; stroke: #b0b0b0; stroke-opacity: 0.3; stroke-width: 0.8; stroke-linecap: square"/>
     </g>
     <g id="line2d_46">
      <g>
       <path d="M 477.1200 180.4800 L 473.7600 180.4800" style="stroke: #000000; stroke-width: 0.8"/>
      </g>
     </g>
     <g id="text_25">
      <text style="font-size: 10px; font-family: 'DejaVu Sans', 'Bitstream Vera Sans', 'Computer Modern Sans Serif', 'Lucida Grande', 'Verdana', 'Geneva', 'Lucid', 'Arial', 'Helvetica', 'Avant Garde', sans-serif; text-anchor: end" x="470.3394" y="184.7369" transform="rotate(-0 470.3394 184.7369)">0.4</text>
     </g>
    </g>
    <g id="ytick_10">
     <g id="line2d_47">
      <path d="M 477.1200 134.4000 L 857.2800 134.4000" clip-path="url(#p1ceb01bb63)" style="fill: none; stroke: #b0b0b0; stroke-opacity: 0.3; stroke-width: 0.8; stroke-linecap: square"/>
     </g>
     <g id="line2d_48">
      <g>
       <path d="M 477.1200 134.4000 L 473.7600 134.4000" style="stroke: #000000; stroke-width: 0.8"/>
      </g>
     </g>
     <g id="text_26">
      <text style="font-size: 10px; font-family: 'DejaVu Sans', 'Bitstream Vera Sans', 'Computer Modern Sans Serif', 'Lucida Grande', 'Verdana', 'Geneva', 'Lucid', 'Arial', 'Helvetica', 'Avant Garde', sans-serif; text-anchor: end" x="469.9187" y="138.4442" transform="rotate(-0 469.9187 138.4442)">0.6</text>
     </g>
    </g>
    <g id="ytick_11">
     <g id="line2d_49">
      <path d="M 477.1200 87.8400 L 857.2800 87.8400" clip-path="url(#p1ceb01bb63)" style="fill: none; stroke: #b0b0b0; stroke-opacity: 0.3; stroke-width: 0.8; stroke-linecap: square"/>
     </g>
     <g id="line2d_50">
      <g>
       <path d="M 477.1200 87.8400 L 473.7600 87.8400" style="stroke: #000000; stroke-width: 0.8"/>
      </g>
     </g>
     <g id="text_27">
      <text style="font-size: 10px; font-family: 'DejaVu Sans', 'Bitstream Vera Sans', 'Computer Modern Sans Serif', 'Lucida Grande', 'Verdana', 'Geneva', 'Lucid', 'Arial', 'Helvetica', 'Avant Garde', sans-serif; text-anchor: end" x="470.2836" y="92.0907" transform="rotate(-0 470.2836 92.0907)">0.8</text>
     </g>
    </g>
    <g id="ytick_12">
     <g id="line2d_51">
      <path d="M 477.1200 41.7600 L 857.2800 41.7600" clip-path="url(#p1ceb01bb63)" style="fill: none; stroke: #b0b0b0; stroke-opacity: 0.3; stroke-width: 0.8; stroke-linecap: square"/>
     </g>
     <g id="line2d_52">
      <g>
       <path d="M 477.1200 41.7600 L 473.7600 41.7600" style="stroke: #000000; stroke-width: 0.8"/>
      </g>
     </g>
     <g id="text_28">
      <text style="font-size: 10px; font-family: 'DejaVu Sans', 'Bitstream Vera Sans', 'Computer Modern Sans Serif', 'Lucida Grande', 'Verdana', 'Geneva', 'Lucid', 'Arial', 'Helvetica', 'Avant Garde', sans-serif; text-anchor: end" x="470.1840" y="45.6517" transform="rotate(-0 470.1840 45.6517)">1.0</text>
     </g>
    </g>
    <g id="text_29">
     <text style="font-size: 10px; font-family: 'DejaVu Sans', 'Bitstream Vera Sans', 'Computer Modern Sans Serif', 'Lucida Grande', 'Verdana', 'Geneva', 'Lucid', 'Arial', 'Helvetica', 'Avant Garde', sans-serif; text-anchor: middle" x="448.9475" y="159.3672" transform="rotate(-90 448.9475 159.3672)">Precision</text>
    </g>
   </g>
   <g id="line2d_53">
    <path d="M 477.11816 41.76048 
L 478.032556 157.439781 
L 478.832653 258.050197 
L 480.775744 263.195048 
L 483.97613 258.621847 
L 488.548111 252.333696 
L 494.263086 244.330595 
L 499.978061 236.327494 
L 505.693037 229.467693 
L 510.265017 224.894492 
L 514.836997 222.036242 
L 518.265983 222.036242 
L 522.837963 220.892941 
L 527.409943 219.177991 
L 530.267431 218.892166 
L 534.267913 217.806031 
L 538.839894 217.120051 
L 543.411874 216.319741 
L 547.983854 215.748091 
L 552.555835 214.03314 
L 559.413805 211.40355 
L 568.557766 209.45994 
L 575.415736 207.744989 
L 584.559697 206.601689 
L 591.417667 206.258699 
L 597.132642 205.801379 
L 602.847618 206.030039 
L 608.562593 206.030039 
L 614.277568 205.458389 
L 623.421529 204.658079 
L 631.422494 205.229729 
L 639.42346 205.229729 
L 646.28143 205.915709 
L 654.282396 207.516329 
L 659.997371 208.65963 
L 667.19824 209.91726 
L 678.628191 212.08953 
L 684.343166 212.54685 
L 695.773117 214.03314 
L 701.488092 215.176441 
L 707.203067 215.748091 
L 716.347028 218.606341 
L 724.347993 222.036242 
L 731.205964 224.894492 
L 741.49292 228.896043 
L 752.92287 232.897593 
L 764.352821 236.327494 
L 775.782772 240.329045 
L 781.497747 241.472345 
L 792.927698 242.043995 
L 804.357648 242.615645 
L 815.787599 242.958635 
L 827.21755 243.415955 
L 838.6475 244.330595 
L 850.077451 245.473895 
L 857.27832 246.617196 
" clip-path="url(#p1ceb01bb63)" style="fill: none; stroke: #9467bd; stroke-width: 1.5; stroke-linecap: square"/>
   </g>
   <g id="line2d_54">
    <path d="M 477.11816 41.531865 
L 480.547145 41.76048 
L 481.69014 50.905089 
L 482.833135 57.763545 
L 484.547628 64.050464 
L 486.262121 64.622002 
L 488.548111 63.250311 
L 489.691106 70.337383 
L 490.605502 76.052763 
L 492.548593 79.481991 
L 495.977579 78.1103 
L 497.92067 78.56753 
L 498.835066 87.483524 
L 499.749462 96.056595 
L 503.635646 94.341981 
L 507.407529 97.428286 
L 509.693519 97.199671 
L 511.408012 99.485823 
L 513.465403 103.486589 
L 515.408495 103.486589 
L 518.265983 104.40105 
L 521.694968 103.257974 
L 526.838446 104.40105 
L 530.267431 103.486589 
L 531.981923 105.772742 
L 534.267913 112.05966 
L 536.553904 113.774274 
L 538.496995 117.203503 
L 541.125884 117.775041 
L 544.554869 120.632731 
L 546.840859 122.918883 
L 549.126849 128.062726 
L 551.41284 132.63503 
L 553.127332 138.350411 
L 555.184723 144.065791 
L 558.27081 144.637329 
L 560.5568 148.638095 
L 562.84279 151.495786 
L 565.700278 152.638862 
L 568.557766 152.867477 
L 571.986751 152.067324 
L 576.558731 153.781938 
L 579.701967 157.439781 
L 581.702209 159.154732 
L 585.131194 161.441332 
L 591.417667 161.784322 
L 593.703657 162.584632 
L 596.561145 165.442883 
L 600.561627 166.014533 
L 605.133608 167.386493 
L 611.991578 167.386493 
L 616.563558 169.444433 
L 623.421529 174.017634 
L 627.993509 178.019185 
L 630.279499 181.449085 
L 634.85148 186.022286 
L 639.42346 190.595487 
L 641.137952 194.597037 
L 645.138435 197.455288 
L 650.853411 201.456838 
L 655.425391 206.030039 
L 659.997371 208.316639 
L 667.19824 211.918035 
L 671.77022 214.60479 
L 678.628191 217.463041 
L 685.486161 219.749641 
L 692.344132 220.892941 
L 704.917077 222.836552 
L 712.918043 223.522532 
L 722.062003 224.894492 
L 731.205964 226.380782 
L 735.777944 227.409753 
L 744.921905 229.467693 
L 752.92287 231.754293 
L 764.352821 235.184194 
L 775.782772 238.042444 
L 787.212722 239.185744 
L 798.642673 239.986055 
L 810.072624 240.672035 
L 821.502574 241.472345 
L 832.932525 241.701005 
L 844.362476 241.815335 
L 852.363441 242.615645 
L 855.792426 244.902245 
L 857.27832 247.188846 
" clip-path="url(#p1ceb01bb63)" style="fill: none; stroke: #2ca02c; stroke-width: 1.5; stroke-linecap: square"/>
   </g>
   <g id="line2d_55">
    <path d="M 477.11816 41.76048 
L 648.56742 41.76048 
L 659.997371 43.132171 
L 667.19824 46.047015 
L 670.055728 51.476627 
L 671.77022 53.762779 
L 674.05621 57.763545 
L 676.342201 61.764312 
L 678.056693 66.336616 
L 679.199688 78.338915 
L 680.914181 84.054296 
L 682.628673 92.055828 
L 684.343166 102.343513 
L 685.486161 110.345046 
L 686.857755 119.489655 
L 688.00075 128.634264 
L 688.915146 137.778872 
L 690.058141 142.351177 
L 691.772634 148.066557 
L 693.372827 157.439781 
L 694.630122 164.299582 
L 696.916112 172.302684 
L 700.345097 184.307336 
L 703.774082 188.308886 
L 706.060072 192.310437 
L 709.489058 198.026938 
L 714.061038 204.315089 
L 717.490023 208.88829 
L 720.919008 214.60479 
L 723.204998 218.606341 
L 727.776979 221.464592 
L 735.777944 226.037792 
L 744.921905 228.896043 
L 752.92287 230.610993 
L 758.637846 232.325943 
L 770.067796 235.184194 
L 781.497747 238.042444 
L 792.927698 239.986055 
L 804.357648 241.815335 
L 815.787599 243.758945 
L 827.21755 245.245235 
L 838.6475 246.617196 
L 850.077451 247.760496 
L 857.27832 248.332146 
" clip-path="url(#p1ceb01bb63)" style="fill: none; stroke: #1f77b4; stroke-width: 1.5; stroke-linecap: square"/>
   </g>
   <g id="line2d_56">
    <path d="M 477.11816 41.76048 
L 662.283361 41.76048 
L 667.19824 42.332018 
L 670.627225 45.189708 
L 673.827611 47.475861 
L 675.770703 57.763545 
L 678.056693 62.33585 
L 681.485678 71.480459 
L 683.200171 79.481991 
L 684.914664 89.769676 
L 686.057659 97.771209 
L 687.772151 108.058894 
L 689.486644 119.489655 
L 691.201136 133.206568 
L 693.487127 144.637329 
L 695.773117 157.439781 
L 696.916112 162.012982 
L 698.059107 168.872783 
L 700.345097 174.589284 
L 703.774082 182.592385 
L 706.060072 191.738787 
L 710.632053 198.598588 
L 714.061038 204.315089 
L 717.490023 208.88829 
L 722.062003 213.46149 
L 726.633984 215.748091 
L 732.348959 220.892941 
L 738.063934 223.751192 
L 744.921905 226.952432 
L 751.779875 228.324393 
L 758.637846 230.610993 
L 770.067796 233.469243 
L 781.497747 236.327494 
L 792.927698 238.042444 
L 804.357648 239.986055 
L 815.787599 242.043995 
L 827.21755 243.758945 
L 838.6475 245.473895 
L 850.077451 247.188846 
L 857.27832 248.332146 
" clip-path="url(#p1ceb01bb63)" style="fill: none; stroke: #ff7f0e; stroke-width: 1.5; stroke-linecap: square"/>
   </g>
   <g id="patch_16">
    <path d="M 477.1200 273.1200 L 477.1200 41.7600" style="fill: none; stroke: #000000; stroke-width: 0.8; stroke-linejoin: miter; stroke-linecap: square"/>
   </g>
   <g id="patch_17">
    <path d="M 857.2800 273.1200 L 857.2800 41.7600" style="fill: none; stroke: #000000; stroke-width: 0.8; stroke-linejoin: miter; stroke-linecap: square"/>
   </g>
   <g id="patch_18">
    <path d="M 477.1200 273.1200 L 857.2800 273.1200" style="fill: none; stroke: #000000; stroke-width: 0.8; stroke-linejoin: miter; stroke-linecap: square"/>
   </g>
   <g id="patch_19">
    <path d="M 477.1200 41.7600 L 857.2800 41.7600" style="fill: none; stroke: #000000; stroke-width: 0.8; stroke-linejoin: miter; stroke-linecap: square"/>
   </g>
   <g id="text_30">
    <text style="font-size: 12px; font-family: 'DejaVu Sans', 'Bitstream Vera Sans', 'Computer Modern Sans Serif', 'Lucida Grande', 'Verdana', 'Geneva', 'Lucid', 'Arial', 'Helvetica', 'Avant Garde', sans-serif; text-anchor: middle" x="667.0579" y="35.7384" transform="rotate(-0 667.0579 35.7384)">Latent Dim. = 64</text>
   </g>
  </g>
  <g id="axes_3">
   <g id="patch_20">
    <path d="M 43.76 556.71976 
L 423.92976 556.71976 
L 423.92976 324.90036 
L 43.76 324.90036 
z
" style="fill: #ffffff"/>
   </g>
   <g id="patch_21">
    <path d="M 43.6784 324.95796 
L 45.392893 532.101276 
L 52.822361 534.387876 
L 60.823326 522.954874 
L 72.253277 508.091972 
L 80.254242 502.375471 
L 89.398203 495.28701 
L 98.542163 496.65897 
L 106.543129 495.28701 
L 117.973079 490.942469 
L 129.40303 488.084219 
L 140.832981 486.369268 
L 152.262932 484.082668 
L 163.692882 482.710708 
L 178.551818 481.224418 
L 192.267759 482.710708 
L 209.412685 482.939368 
L 220.842636 484.082668 
L 233.75848 487.798394 
L 250.903406 492.657419 
L 268.048332 495.51567 
L 279.478283 498.37392 
L 290.908233 502.375471 
L 302.338184 506.948672 
L 313.768135 509.806922 
L 325.198085 513.808473 
L 336.628036 518.381673 
L 348.057987 520.668274 
L 370.917888 524.098174 
L 393.77779 525.470135 
L 423.83856 528.671375 
L 423.83856 531.529626 
L 393.77779 528.099725 
L 370.917888 526.956425 
L 348.057987 525.813125 
L 336.628036 524.098174 
L 325.198085 520.668274 
L 313.768135 516.095073 
L 302.338184 512.665173 
L 290.908233 508.091972 
L 279.478283 504.662071 
L 268.048332 502.375471 
L 250.903406 498.94557 
L 233.75848 496.65897 
L 220.842636 493.229069 
L 209.412685 492.314429 
L 192.267759 490.942469 
L 178.551818 489.227519 
L 163.692882 489.799169 
L 152.262932 491.514119 
L 140.832981 493.229069 
L 129.40303 494.37237 
L 117.973079 498.94557 
L 106.543129 502.947121 
L 95.113178 508.091972 
L 89.398203 508.091972 
L 80.254242 510.607232 
L 72.253277 518.381673 
L 60.823326 532.101276 
L 52.822361 542.390977 
L 45.392893 551.537379 
z
" clip-path="url(#p664bd50857)" style="fill: #9467bd; fill-opacity: 0.15; stroke: #9467bd; stroke-opacity: 0.15; stroke-linejoin: miter"/>
   </g>
   <g id="patch_22">
    <path d="M 43.6784 323.814884 
L 53.965356 323.814884 
L 54.536853 324.95796 
L 57.394341 332.959492 
L 60.823326 341.532563 
L 66.538301 338.903488 
L 72.253277 341.875486 
L 80.254242 340.389487 
L 87.68371 339.817949 
L 89.398203 343.818715 
L 93.970183 342.675639 
L 98.542163 342.675639 
L 101.971148 343.818715 
L 107.114626 343.018562 
L 109.972114 336.388721 
L 113.401099 334.674107 
L 119.116075 334.102568 
L 123.688055 332.959492 
L 137.403996 331.816416 
L 140.832981 333.53103 
L 148.833946 334.674107 
L 154.548922 334.102568 
L 157.977907 335.817183 
L 162.549887 336.388721 
L 168.264863 342.104101 
L 173.979838 343.247177 
L 180.837808 345.533329 
L 187.695779 350.105634 
L 195.696744 354.677938 
L 200.268724 358.107167 
L 204.840705 363.822547 
L 210.55568 368.394851 
L 215.12766 371.82408 
L 224.271621 378.682536 
L 228.843601 386.684069 
L 233.75848 388.227222 
L 236.04447 390.113297 
L 238.33046 395.25714 
L 240.61645 397.543292 
L 242.902441 407.259439 
L 245.188431 416.404048 
L 246.331426 425.548657 
L 248.617416 440.637261 
L 250.903406 448.640362 
L 253.189396 455.500163 
L 256.618381 465.789865 
L 260.047367 473.792966 
L 263.476352 478.366167 
L 268.048332 484.082668 
L 272.620312 488.655869 
L 279.478283 492.085769 
L 290.908233 497.23062 
L 297.766204 497.80227 
L 304.624174 498.94557 
L 313.768135 502.375471 
L 322.912095 506.948672 
L 330.913061 510.950222 
L 348.057987 515.523423 
L 370.917888 520.668274 
L 393.77779 522.726214 
L 421.209671 522.726214 
L 423.83856 526.384775 
L 423.83856 530.957975 
L 421.209671 526.613435 
L 393.77779 525.813125 
L 370.917888 525.241475 
L 348.057987 522.954874 
L 336.628036 520.668274 
L 325.198085 516.666723 
L 313.768135 513.808473 
L 302.338184 510.378572 
L 290.908233 506.377022 
L 279.478283 502.947121 
L 268.048332 500.088871 
L 256.618381 498.94557 
L 250.903406 500.660521 
L 248.617416 502.375471 
L 245.188431 501.232171 
L 239.473455 500.660521 
L 233.75848 500.088871 
L 226.557611 497.80227 
L 220.842636 494.37237 
L 215.12766 489.799169 
L 209.412685 485.225968 
L 203.69771 478.366167 
L 199.125729 471.506366 
L 195.696744 464.646565 
L 192.267759 463.503265 
L 188.838774 460.073364 
L 180.837808 456.643464 
L 169.407858 451.498613 
L 164.835877 449.212012 
L 157.977907 445.210462 
L 152.262932 440.637261 
L 146.547956 432.978651 
L 141.975976 430.692499 
L 137.403996 425.548657 
L 133.97501 422.119428 
L 128.260035 417.547124 
L 123.688055 416.404048 
L 119.116075 406.116363 
L 115.115592 399.829444 
L 111.115109 391.256373 
L 108.257621 382.111765 
L 107.114626 359.821781 
L 103.114144 359.478858 
L 97.399168 360.164704 
L 93.398685 354.677938 
L 90.541198 350.334249 
L 86.540715 352.048863 
L 80.254242 351.477325 
L 72.253277 354.677938 
L 67.109799 359.250243 
L 63.109316 352.963324 
L 59.680331 355.821014 
L 57.965838 355.249476 
L 56.251346 351.24871 
L 53.965356 344.961791 
L 51.679365 348.962558 
L 49.393375 344.961791 
L 48.821878 336.388721 
L 47.107385 325.186575 
L 43.6784 324.95796 
z
" clip-path="url(#p664bd50857)" style="fill: #2ca02c; fill-opacity: 0.15; stroke: #2ca02c; stroke-opacity: 0.15; stroke-linejoin: miter"/>
   </g>
   <g id="patch_23">
    <path d="M 43.6784 323.814884 
L 233.75848 323.814884 
L 248.617416 323.814884 
L 248.617416 327.244112 
L 251.474904 330.67334 
L 253.760894 338.674873 
L 254.903889 351.24871 
L 256.046884 362.679471 
L 257.189879 372.967156 
L 257.761376 380.968689 
L 260.047367 393.542526 
L 261.761859 404.973287 
L 264.047849 416.404048 
L 266.333839 427.834809 
L 269.762825 440.637261 
L 271.477317 446.353762 
L 276.049298 452.070263 
L 278.335288 460.073364 
L 280.621278 471.506366 
L 284.050263 478.366167 
L 288.622243 485.225968 
L 292.051228 488.655869 
L 296.623209 494.37237 
L 300.052194 500.088871 
L 308.053159 502.375471 
L 313.768135 505.233721 
L 325.198085 509.235272 
L 336.628036 512.665173 
L 348.057987 515.523423 
L 370.917888 519.524974 
L 393.77779 523.526524 
L 423.83856 528.671375 
L 423.83856 531.529626 
L 393.77779 528.099725 
L 370.917888 525.241475 
L 348.057987 521.239924 
L 336.628036 519.524974 
L 325.198085 517.238373 
L 313.768135 513.808473 
L 302.338184 510.378572 
L 290.908233 505.805371 
L 281.764273 501.232171 
L 277.192293 500.088871 
L 271.477317 496.65897 
L 269.191327 487.512569 
L 265.762342 479.509467 
L 261.190362 470.363066 
L 258.332874 463.503265 
L 256.618381 452.070263 
L 256.332633 440.637261 
L 254.903889 427.834809 
L 253.189396 416.404048 
L 250.903406 402.687135 
L 248.617416 388.970221 
L 245.188431 376.396384 
L 242.902441 370.681004 
L 241.759445 359.250243 
L 239.473455 348.962558 
L 237.187465 338.674873 
L 234.901475 328.387188 
L 228.843601 324.95796 
L 43.6784 324.95796 
z
" clip-path="url(#p664bd50857)" style="fill: #1f77b4; fill-opacity: 0.15; stroke: #1f77b4; stroke-opacity: 0.15; stroke-linejoin: miter"/>
   </g>
   <g id="patch_24">
    <path d="M 43.6784 323.814884 
L 233.75848 323.814884 
L 247.474421 323.814884 
L 247.474421 324.95796 
L 249.760411 331.816416 
L 252.617899 345.533329 
L 254.903889 359.250243 
L 257.761376 366.108699 
L 261.190362 375.253308 
L 262.333357 388.970221 
L 263.476352 403.830211 
L 264.619347 416.404048 
L 266.333839 425.548657 
L 268.048332 433.550189 
L 268.61983 440.637261 
L 270.334322 452.070263 
L 273.763307 463.503265 
L 277.192293 469.219766 
L 280.621278 477.222867 
L 284.050263 484.082668 
L 288.622243 488.655869 
L 293.194224 494.37237 
L 297.766204 498.37392 
L 304.624174 501.232171 
L 313.768135 504.662071 
L 325.198085 509.235272 
L 336.628036 513.236823 
L 348.057987 516.095073 
L 370.917888 520.668274 
L 393.77779 524.669824 
L 423.83856 529.814675 
L 423.83856 532.101276 
L 393.77779 528.671375 
L 370.917888 525.813125 
L 348.057987 522.383224 
L 325.198085 519.524974 
L 313.768135 517.238373 
L 302.338184 513.808473 
L 290.908233 510.378572 
L 284.050263 503.518771 
L 277.192293 495.51567 
L 271.477317 488.655869 
L 266.905337 478.366167 
L 263.476352 470.363066 
L 261.190362 461.216664 
L 259.475869 452.070263 
L 257.761376 440.637261 
L 256.046884 433.550189 
L 254.332391 423.262504 
L 252.617899 415.260972 
L 251.474904 404.973287 
L 249.760411 395.828678 
L 248.045918 386.684069 
L 245.188431 377.53946 
L 242.330943 369.537928 
L 240.61645 355.821014 
L 238.901958 345.533329 
L 236.04447 334.102568 
L 233.75848 326.101036 
L 229.986596 324.95796 
L 43.6784 324.95796 
z
" clip-path="url(#p664bd50857)" style="fill: #ff7f0e; fill-opacity: 0.15; stroke: #ff7f0e; stroke-opacity: 0.15; stroke-linejoin: miter"/>
   </g>
   <g id="matplotlib.axis_5">
    <g id="xtick_13">
     <g id="line2d_57">
      <path d="M 43.6800 556.3200 L 43.6800 324.4800" clip-path="url(#p664bd50857)" style="fill: none; stroke: #b0b0b0; stroke-opacity: 0.3; stroke-width: 0.8; stroke-linecap: square"/>
     </g>
     <g id="line2d_58">
      <g>
       <path d="M 43.6800 556.3200 L 43.6800 559.6800" style="stroke: #000000; stroke-width: 0.8"/>
      </g>
     </g>
     <g id="text_31">
      <text style="font-size: 10px; font-family: 'DejaVu Sans', 'Bitstream Vera Sans', 'Computer Modern Sans Serif', 'Lucida Grande', 'Verdana', 'Geneva', 'Lucid', 'Arial', 'Helvetica', 'Avant Garde', sans-serif; text-anchor: middle" x="43.7279" y="571.5052" transform="rotate(-0 43.7279 571.5052)">0.0</text>
     </g>
    </g>
    <g id="xtick_14">
     <g id="line2d_59">
      <path d="M 120.0000 556.3200 L 120.0000 324.4800" clip-path="url(#p664bd50857)" style="fill: none; stroke: #b0b0b0; stroke-opacity: 0.3; stroke-width: 0.8; stroke-linecap: square"/>
     </g>
     <g id="line2d_60">
      <g>
       <path d="M 120.0000 556.3200 L 120.0000 559.6800" style="stroke: #000000; stroke-width: 0.8"/>
      </g>
     </g>
     <g id="text_32">
      <text style="font-size: 10px; font-family: 'DejaVu Sans', 'Bitstream Vera Sans', 'Computer Modern Sans Serif', 'Lucida Grande', 'Verdana', 'Geneva', 'Lucid', 'Arial', 'Helvetica', 'Avant Garde', sans-serif; text-anchor: middle" x="119.5900" y="571.4571" transform="rotate(-0 119.5900 571.4571)">0.2</text>
     </g>
    </g>
    <g id="xtick_15">
     <g id="line2d_61">
      <path d="M 195.8400 556.3200 L 195.8400 324.4800" clip-path="url(#p664bd50857)" style="fill: none; stroke: #b0b0b0; stroke-opacity: 0.3; stroke-width: 0.8; stroke-linecap: square"/>
     </g>
     <g id="line2d_62">
      <g>
       <path d="M 195.8400 556.3200 L 195.8400 559.6800" style="stroke: #000000; stroke-width: 0.8"/>
      </g>
     </g>
     <g id="text_33">
      <text style="font-size: 10px; font-family: 'DejaVu Sans', 'Bitstream Vera Sans', 'Computer Modern Sans Serif', 'Lucida Grande', 'Verdana', 'Geneva', 'Lucid', 'Arial', 'Helvetica', 'Avant Garde', sans-serif; text-anchor: middle" x="195.9016" y="571.4412" transform="rotate(-0 195.9016 571.4412)">0.4</text>
     </g>
    </g>
    <g id="xtick_16">
     <g id="line2d_63">
      <path d="M 271.6800 556.3200 L 271.6800 324.4800" clip-path="url(#p664bd50857)" style="fill: none; stroke: #b0b0b0; stroke-opacity: 0.3; stroke-width: 0.8; stroke-linecap: square"/>
     </g>
     <g id="line2d_64">
      <g>
       <path d="M 271.6800 556.3200 L 271.6800 559.6800" style="stroke: #000000; stroke-width: 0.8"/>
      </g>
     </g>
     <g id="text_34">
      <text style="font-size: 10px; font-family: 'DejaVu Sans', 'Bitstream Vera Sans', 'Computer Modern Sans Serif', 'Lucida Grande', 'Verdana', 'Geneva', 'Lucid', 'Arial', 'Helvetica', 'Avant Garde', sans-serif; text-anchor: middle" x="271.8153" y="571.5208" transform="rotate(-0 271.8153 571.5208)">0.6</text>
     </g>
    </g>
    <g id="xtick_17">
     <g id="line2d_65">
      <path d="M 348.0000 556.3200 L 348.0000 324.4800" clip-path="url(#p664bd50857)" style="fill: none; stroke: #b0b0b0; stroke-opacity: 0.3; stroke-width: 0.8; stroke-linecap: square"/>
     </g>
     <g id="line2d_66">
      <g>
       <path d="M 348.0000 556.3200 L 348.0000 559.6800" style="stroke: #000000; stroke-width: 0.8"/>
      </g>
     </g>
     <g id="text_35">
      <text style="font-size: 10px; font-family: 'DejaVu Sans', 'Bitstream Vera Sans', 'Computer Modern Sans Serif', 'Lucida Grande', 'Verdana', 'Geneva', 'Lucid', 'Arial', 'Helvetica', 'Avant Garde', sans-serif; text-anchor: middle" x="348.0706" y="571.5188" transform="rotate(-0 348.0706 571.5188)">0.8</text>
     </g>
    </g>
    <g id="xtick_18">
     <g id="line2d_67">
      <path d="M 423.8400 556.3200 L 423.8400 324.4800" clip-path="url(#p664bd50857)" style="fill: none; stroke: #b0b0b0; stroke-opacity: 0.3; stroke-width: 0.8; stroke-linecap: square"/>
     </g>
     <g id="line2d_68">
      <g>
       <path d="M 423.8400 556.3200 L 423.8400 559.6800" style="stroke: #000000; stroke-width: 0.8"/>
      </g>
     </g>
     <g id="text_36">
      <text style="font-size: 10px; font-family: 'DejaVu Sans', 'Bitstream Vera Sans', 'Computer Modern Sans Serif', 'Lucida Grande', 'Verdana', 'Geneva', 'Lucid', 'Arial', 'Helvetica', 'Avant Garde', sans-serif; text-anchor: middle" x="423.9606" y="571.4605" transform="rotate(-0 423.9606 571.4605)">1.0</text>
     </g>
    </g>
    <g id="text_37">
     <text style="font-size: 10px; font-family: 'DejaVu Sans', 'Bitstream Vera Sans', 'Computer Modern Sans Serif', 'Lucida Grande', 'Verdana', 'Geneva', 'Lucid', 'Arial', 'Helvetica', 'Avant Garde', sans-serif; text-anchor: middle" x="233.8013" y="585.0184" transform="rotate(-0 233.8013 585.0184)">Recall</text>
    </g>
   </g>
   <g id="matplotlib.axis_6">
    <g id="ytick_13">
     <g id="line2d_69">
      <path d="M 43.6800 556.3200 L 423.8400 556.3200" clip-path="url(#p664bd50857)" style="fill: none; stroke: #b0b0b0; stroke-opacity: 0.3; stroke-width: 0.8; stroke-linecap: square"/>
     </g>
     <g id="line2d_70">
      <g>
       <path d="M 43.6800 556.3200 L 40.3200 556.3200" style="stroke: #000000; stroke-width: 0.8"/>
      </g>
     </g>
     <g id="text_38">
      <text style="font-size: 10px; font-family: 'DejaVu Sans', 'Bitstream Vera Sans', 'Computer Modern Sans Serif', 'Lucida Grande', 'Verdana', 'Geneva', 'Lucid', 'Arial', 'Helvetica', 'Avant Garde', sans-serif; text-anchor: end" x="36.6924" y="560.6220" transform="rotate(-0 36.6924 560.6220)">0.0</text>
     </g>
    </g>
    <g id="ytick_14">
     <g id="line2d_71">
      <path d="M 43.6800 510.2400 L 423.8400 510.2400" clip-path="url(#p664bd50857)" style="fill: none; stroke: #b0b0b0; stroke-opacity: 0.3; stroke-width: 0.8; stroke-linecap: square"/>
     </g>
     <g id="line2d_72">
      <g>
       <path d="M 43.6800 510.2400 L 40.3200 510.2400" style="stroke: #000000; stroke-width: 0.8"/>
      </g>
     </g>
     <g id="text_39">
      <text style="font-size: 10px; font-family: 'DejaVu Sans', 'Bitstream Vera Sans', 'Computer Modern Sans Serif', 'Lucida Grande', 'Verdana', 'Geneva', 'Lucid', 'Arial', 'Helvetica', 'Avant Garde', sans-serif; text-anchor: end" x="36.8028" y="514.2545" transform="rotate(-0 36.8028 514.2545)">0.2</text>
     </g>
    </g>
    <g id="ytick_15">
     <g id="line2d_73">
      <path d="M 43.6800 463.6800 L 423.8400 463.6800" clip-path="url(#p664bd50857)" style="fill: none; stroke: #b0b0b0; stroke-opacity: 0.3; stroke-width: 0.8; stroke-linecap: square"/>
     </g>
     <g id="line2d_74">
      <g>
       <path d="M 43.6800 463.6800 L 40.3200 463.6800" style="stroke: #000000; stroke-width: 0.8"/>
      </g>
     </g>
     <g id="text_40">
      <text style="font-size: 10px; font-family: 'DejaVu Sans', 'Bitstream Vera Sans', 'Computer Modern Sans Serif', 'Lucida Grande', 'Verdana', 'Geneva', 'Lucid', 'Arial', 'Helvetica', 'Avant Garde', sans-serif; text-anchor: end" x="36.8010" y="468.3454" transform="rotate(-0 36.8010 468.3454)">0.4</text>
     </g>
    </g>
    <g id="ytick_16">
     <g id="line2d_75">
      <path d="M 43.6800 417.6000 L 423.8400 417.6000" clip-path="url(#p664bd50857)" style="fill: none; stroke: #b0b0b0; stroke-opacity: 0.3; stroke-width: 0.8; stroke-linecap: square"/>
     </g>
     <g id="line2d_76">
      <g>
       <path d="M 43.6800 417.6000 L 40.3200 417.6000" style="stroke: #000000; stroke-width: 0.8"/>
      </g>
     </g>
     <g id="text_41">
      <text style="font-size: 10px; font-family: 'DejaVu Sans', 'Bitstream Vera Sans', 'Computer Modern Sans Serif', 'Lucida Grande', 'Verdana', 'Geneva', 'Lucid', 'Arial', 'Helvetica', 'Avant Garde', sans-serif; text-anchor: end" x="36.8016" y="421.5840" transform="rotate(-0 36.8016 421.5840)">0.6</text>
     </g>
    </g>
    <g id="ytick_17">
     <g id="line2d_77">
      <path d="M 43.6800 371.0400 L 423.8400 371.0400" clip-path="url(#p664bd50857)" style="fill: none; stroke: #b0b0b0; stroke-opacity: 0.3; stroke-width: 0.8; stroke-linecap: square"/>
     </g>
     <g id="line2d_78">
      <g>
       <path d="M 43.6800 371.0400 L 40.3200 371.0400" style="stroke: #000000; stroke-width: 0.8"/>
      </g>
     </g>
     <g id="text_42">
      <text style="font-size: 10px; font-family: 'DejaVu Sans', 'Bitstream Vera Sans', 'Computer Modern Sans Serif', 'Lucida Grande', 'Verdana', 'Geneva', 'Lucid', 'Arial', 'Helvetica', 'Avant Garde', sans-serif; text-anchor: end" x="36.7084" y="375.2086" transform="rotate(-0 36.7084 375.2086)">0.8</text>
     </g>
    </g>
    <g id="ytick_18">
     <g id="line2d_79">
      <path d="M 43.6800 324.4800 L 423.8400 324.4800" clip-path="url(#p664bd50857)" style="fill: none; stroke: #b0b0b0; stroke-opacity: 0.3; stroke-width: 0.8; stroke-linecap: square"/>
     </g>
     <g id="line2d_80">
      <g>
       <path d="M 43.6800 324.4800 L 40.3200 324.4800" style="stroke: #000000; stroke-width: 0.8"/>
      </g>
     </g>
     <g id="text_43">
      <text style="font-size: 10px; font-family: 'DejaVu Sans', 'Bitstream Vera Sans', 'Computer Modern Sans Serif', 'Lucida Grande', 'Verdana', 'Geneva', 'Lucid', 'Arial', 'Helvetica', 'Avant Garde', sans-serif; text-anchor: end" x="36.6133" y="328.7673" transform="rotate(-0 36.6133 328.7673)">1.0</text>
     </g>
    </g>
    <g id="text_44">
     <text style="font-size: 10px; font-family: 'DejaVu Sans', 'Bitstream Vera Sans', 'Computer Modern Sans Serif', 'Lucida Grande', 'Verdana', 'Geneva', 'Lucid', 'Arial', 'Helvetica', 'Avant Garde', sans-serif; text-anchor: middle" x="15.1496" y="442.4570" transform="rotate(-90 15.1496 442.4570)">Precision</text>
    </g>
   </g>
   <g id="line2d_81">
    <path d="M 43.6784 324.95796 
L 44.592796 440.637261 
L 45.392893 537.817777 
L 47.335984 546.392528 
L 52.822361 538.961077 
L 58.537336 530.957975 
L 64.252311 523.526524 
L 72.253277 512.665173 
L 80.254242 506.034031 
L 89.398203 501.460831 
L 95.113178 501.803821 
L 100.828153 501.232171 
L 106.543129 499.17423 
L 113.401099 496.43031 
L 123.688055 492.085769 
L 135.118005 490.027829 
L 146.547956 488.427209 
L 155.691917 486.597928 
L 163.692882 486.140608 
L 169.407858 486.026278 
L 176.265828 485.225968 
L 180.837808 486.140608 
L 186.552784 486.597928 
L 195.696744 486.369268 
L 203.69771 486.826588 
L 209.412685 486.940918 
L 220.842636 488.084219 
L 226.557611 489.799169 
L 233.75848 491.971439 
L 239.473455 493.229069 
L 245.188431 494.37237 
L 250.903406 496.08732 
L 256.618381 496.65897 
L 268.048332 499.51722 
L 279.478283 501.803821 
L 290.908233 505.233721 
L 302.338184 509.806922 
L 313.768135 512.665173 
L 325.198085 516.666723 
L 336.628036 521.582914 
L 348.057987 522.954874 
L 359.487938 524.669824 
L 370.917888 525.813125 
L 382.347839 526.384775 
L 393.77779 526.956425 
L 405.20774 528.099725 
L 416.637691 529.243025 
L 423.83856 530.043335 
" clip-path="url(#p664bd50857)" style="fill: none; stroke: #9467bd; stroke-width: 1.5; stroke-linecap: square"/>
   </g>
   <g id="line2d_82">
    <path d="M 43.6784 324.729344 
L 47.107385 324.95796 
L 48.821878 330.67334 
L 51.107868 335.245645 
L 52.822361 333.53103 
L 55.108351 336.388721 
L 57.394341 343.247177 
L 60.823326 347.819482 
L 62.537819 346.44779 
L 66.538301 348.962558 
L 69.967287 347.819482 
L 73.396272 347.590866 
L 76.825257 346.44779 
L 80.254242 345.533329 
L 87.68371 345.761945 
L 90.541198 347.247944 
L 93.970183 348.962558 
L 97.399168 351.24871 
L 100.828153 351.820248 
L 106.543129 351.591633 
L 108.829119 360.393319 
L 112.258104 364.394085 
L 114.544094 367.02316 
L 116.258587 367.480391 
L 119.116075 370.109466 
L 121.973562 372.395618 
L 124.259552 374.68177 
L 127.688538 374.68177 
L 130.546025 376.167769 
L 133.403513 376.739307 
L 137.403996 378.682536 
L 140.832981 382.111765 
L 146.547956 383.254841 
L 148.833946 385.540993 
L 153.977424 387.59853 
L 158.549404 390.684835 
L 161.97839 392.39945 
L 167.121867 396.400216 
L 172.836843 397.6576 
L 176.265828 399.029291 
L 180.837808 400.400982 
L 187.695779 404.973287 
L 192.267759 408.1739 
L 196.268242 410.117129 
L 200.268724 416.404048 
L 204.840705 422.690966 
L 208.26969 425.548657 
L 212.84167 428.977885 
L 216.270655 431.264037 
L 219.699641 434.693265 
L 225.414616 438.122494 
L 226.84336 440.637261 
L 229.415099 442.352211 
L 233.75848 443.838502 
L 236.04447 445.210462 
L 238.33046 448.068712 
L 240.61645 449.212012 
L 242.902441 454.356863 
L 245.188431 460.073364 
L 246.331426 464.646565 
L 248.045918 470.363066 
L 250.903406 474.936267 
L 254.332391 480.081117 
L 257.761376 484.654318 
L 261.190362 487.512569 
L 266.905337 490.942469 
L 271.477317 493.229069 
L 274.906302 494.14371 
L 279.478283 496.08732 
L 285.193258 497.80227 
L 290.908233 500.088871 
L 297.766204 502.375471 
L 304.624174 504.090421 
L 311.482145 506.377022 
L 316.054125 508.091972 
L 321.7691 510.149912 
L 327.484076 512.665173 
L 336.628036 515.180433 
L 348.057987 518.381673 
L 359.487938 521.239924 
L 370.917888 523.526524 
L 382.347839 524.326834 
L 393.77779 524.669824 
L 405.20774 524.669824 
L 416.637691 524.669824 
L 421.209671 525.012814 
L 422.924164 528.671375 
L 423.83856 530.386325 
" clip-path="url(#p664bd50857)" style="fill: none; stroke: #2ca02c; stroke-width: 1.5; stroke-linecap: square"/>
   </g>
   <g id="line2d_83">
    <path d="M 43.6784 324.95796 
L 226.557611 324.95796 
L 233.75848 327.529881 
L 237.187465 332.387954 
L 240.044953 337.531797 
L 241.759445 342.104101 
L 243.473938 344.390253 
L 245.188431 348.962558 
L 247.474421 355.821014 
L 249.760411 363.822547 
L 252.046401 372.967156 
L 253.760894 383.254841 
L 254.903889 393.542526 
L 256.046884 402.687135 
L 257.189879 416.404048 
L 257.761376 422.119428 
L 259.475869 428.977885 
L 261.190362 438.122494 
L 261.47611 440.637261 
L 262.904854 447.497062 
L 264.619347 453.213563 
L 266.905337 460.073364 
L 269.191327 466.933165 
L 272.620312 473.221316 
L 276.049298 477.222867 
L 279.478283 484.082668 
L 282.907268 488.655869 
L 287.479248 494.37237 
L 293.194224 498.94557 
L 298.909199 504.662071 
L 304.624174 508.091972 
L 313.768135 510.950222 
L 325.198085 514.380123 
L 336.628036 516.666723 
L 348.057987 518.381673 
L 359.487938 520.668274 
L 370.917888 522.954874 
L 382.347839 525.241475 
L 393.77779 526.956425 
L 405.20774 528.442715 
L 416.637691 529.814675 
L 423.83856 530.957975 
" clip-path="url(#p664bd50857)" style="fill: none; stroke: #1f77b4; stroke-width: 1.5; stroke-linecap: square"/>
   </g>
   <g id="line2d_84">
    <path d="M 43.6784 324.95796 
L 231.129591 324.95796 
L 233.75848 325.529498 
L 236.615968 327.81565 
L 238.901958 332.959492 
L 241.759445 339.817949 
L 244.045436 343.247177 
L 246.331426 350.677172 
L 248.617416 357.535629 
L 250.903406 366.108699 
L 252.617899 376.396384 
L 254.332391 388.970221 
L 255.475386 395.828678 
L 257.761376 402.687135 
L 261.190362 415.260972 
L 262.333357 425.548657 
L 263.476352 440.637261 
L 264.619347 449.783662 
L 266.333839 457.786764 
L 268.048332 463.503265 
L 270.334322 469.219766 
L 273.763307 474.936267 
L 277.192293 482.939368 
L 279.478283 488.655869 
L 284.050263 494.37237 
L 288.622243 497.80227 
L 293.194224 502.947121 
L 298.909199 506.948672 
L 304.624174 509.806922 
L 313.768135 512.093522 
L 325.198085 514.951773 
L 336.628036 517.238373 
L 348.057987 519.524974 
L 359.487938 521.811574 
L 370.917888 523.183534 
L 382.347839 524.669824 
L 393.77779 526.384775 
L 405.20774 528.099725 
L 416.637691 529.586015 
L 423.83856 531.186635 
" clip-path="url(#p664bd50857)" style="fill: none; stroke: #ff7f0e; stroke-width: 1.5; stroke-linecap: square"/>
   </g>
   <g id="patch_25">
    <path d="M 43.6800 556.3200 L 43.6800 324.4800" style="fill: none; stroke: #000000; stroke-width: 0.8; stroke-linejoin: miter; stroke-linecap: square"/>
   </g>
   <g id="patch_26">
    <path d="M 423.8400 556.3200 L 423.8400 324.4800" style="fill: none; stroke: #000000; stroke-width: 0.8; stroke-linejoin: miter; stroke-linecap: square"/>
   </g>
   <g id="patch_27">
    <path d="M 43.6800 556.3200 L 423.8400 556.3200" style="fill: none; stroke: #000000; stroke-width: 0.8; stroke-linejoin: miter; stroke-linecap: square"/>
   </g>
   <g id="patch_28">
    <path d="M 43.6800 324.4800 L 423.8400 324.4800" style="fill: none; stroke: #000000; stroke-width: 0.8; stroke-linejoin: miter; stroke-linecap: square"/>
   </g>
   <g id="text_45">
    <text style="font-size: 12px; font-family: 'DejaVu Sans', 'Bitstream Vera Sans', 'Computer Modern Sans Serif', 'Lucida Grande', 'Verdana', 'Geneva', 'Lucid', 'Arial', 'Helvetica', 'Avant Garde', sans-serif; text-anchor: middle" x="233.3594" y="318.8830" transform="rotate(-0 233.3594 318.8830)">Latent Dim. = 128</text>
   </g>
  </g>
  <g id="axes_4">
   <g id="patch_29">
    <path d="M 477.07976 556.71976 
L 857.24952 556.71976 
L 857.24952 324.90036 
L 477.07976 324.90036 
z
" style="fill: #ffffff"/>
   </g>
   <g id="patch_30">
    <path d="M 477.11816 324.95796 
L 478.832653 538.961077 
L 486.262121 535.531176 
L 494.263086 525.241475 
L 502.264052 514.951773 
L 511.408012 503.518771 
L 522.837963 495.51567 
L 529.695933 496.08732 
L 536.553904 497.23062 
L 545.697864 493.80072 
L 557.127815 489.799169 
L 568.557766 486.940918 
L 579.987716 484.082668 
L 591.417667 482.939368 
L 602.847618 481.224418 
L 614.277568 482.024728 
L 625.707519 483.854008 
L 637.13747 485.797618 
L 648.56742 487.512569 
L 659.997371 487.512569 
L 667.19824 488.941694 
L 678.628191 494.37237 
L 690.058141 496.65897 
L 701.488092 498.94557 
L 712.918043 502.375471 
L 724.347993 505.233721 
L 735.777944 508.091972 
L 747.207895 512.665173 
L 758.637846 516.095073 
L 770.067796 518.953324 
L 781.497747 522.383224 
L 804.357648 524.669824 
L 827.21755 526.156115 
L 857.27832 529.243025 
L 857.27832 531.529626 
L 827.21755 528.671375 
L 804.357648 527.299415 
L 781.497747 526.384775 
L 770.067796 522.954874 
L 758.637846 520.096624 
L 747.207895 517.238373 
L 735.777944 513.808473 
L 724.347993 510.950222 
L 712.918043 508.663622 
L 701.488092 505.805371 
L 690.058141 502.947121 
L 678.628191 500.660521 
L 667.19824 496.65897 
L 659.997371 494.37237 
L 648.56742 493.80072 
L 637.13747 492.657419 
L 625.707519 492.657419 
L 614.277568 492.085769 
L 597.132642 493.80072 
L 585.702692 495.51567 
L 574.272741 496.65897 
L 562.84279 497.80227 
L 551.41284 500.088871 
L 539.982889 502.947121 
L 531.981923 506.948672 
L 522.837963 506.948672 
L 511.408012 511.521872 
L 502.264052 522.954874 
L 494.263086 532.101276 
L 486.262121 541.247677 
L 478.832653 553.823979 
z
" clip-path="url(#p2d7b4cce1e)" style="fill: #9467bd; fill-opacity: 0.15; stroke: #9467bd; stroke-opacity: 0.15; stroke-linejoin: miter"/>
   </g>
   <g id="patch_31">
    <path d="M 477.11816 323.814884 
L 494.263086 323.814884 
L 494.834584 324.95796 
L 497.692071 329.530264 
L 499.978061 336.388721 
L 502.264052 336.960259 
L 505.693037 335.017029 
L 509.693519 333.53103 
L 513.694002 335.817183 
L 519.408978 335.47426 
L 522.837963 340.961025 
L 530.838928 341.532563 
L 534.267913 344.390253 
L 536.553904 348.962558 
L 538.268396 352.963324 
L 545.697864 351.477325 
L 549.126849 353.306247 
L 557.127815 355.249476 
L 563.985785 359.250243 
L 571.986751 359.021627 
L 576.558731 359.250243 
L 578.844721 363.251009 
L 584.559697 366.680237 
L 590.274672 370.681004 
L 595.989647 372.967156 
L 602.847618 376.396384 
L 608.562593 376.967922 
L 614.277568 380.968689 
L 619.992544 384.969455 
L 624.564524 389.541759 
L 629.136504 390.113297 
L 634.85148 394.114064 
L 640.566455 398.11483 
L 645.138435 403.830211 
L 648.56742 406.116363 
L 654.282396 416.404048 
L 657.711381 425.548657 
L 661.140366 433.550189 
L 664.569351 440.637261 
L 667.19824 447.497062 
L 671.77022 454.356863 
L 674.05621 457.786764 
L 676.342201 465.789865 
L 680.914181 473.792966 
L 685.486161 479.509467 
L 690.058141 480.652767 
L 699.202102 480.881427 
L 704.917077 482.367718 
L 712.918043 484.082668 
L 722.062003 486.940918 
L 730.062969 488.655869 
L 738.063934 492.085769 
L 747.207895 495.51567 
L 758.637846 498.37392 
L 770.067796 502.375471 
L 781.497747 508.091972 
L 792.927698 512.665173 
L 804.357648 515.523423 
L 827.21755 517.238373 
L 838.6475 518.381673 
L 854.649431 520.668274 
L 857.27832 527.528075 
L 857.27832 530.957975 
L 854.649431 525.012814 
L 827.21755 524.669824 
L 804.357648 524.098174 
L 792.927698 523.526524 
L 781.497747 520.668274 
L 770.067796 516.666723 
L 758.637846 514.380123 
L 747.207895 511.521872 
L 735.777944 506.948672 
L 724.347993 502.947121 
L 715.204033 501.232171 
L 707.203067 500.088871 
L 699.202102 497.80227 
L 690.058141 494.37237 
L 684.343166 490.942469 
L 678.628191 485.797618 
L 672.913215 485.225968 
L 667.19824 483.854008 
L 659.997371 484.311328 
L 654.282396 484.654318 
L 648.56742 485.225968 
L 642.852445 485.797618 
L 637.13747 485.797618 
L 631.422494 485.797618 
L 625.707519 485.225968 
L 619.992544 485.797618 
L 614.277568 482.939368 
L 608.562593 478.366167 
L 603.990613 474.936267 
L 600.561627 471.506366 
L 597.132642 467.504815 
L 592.560662 462.359965 
L 587.988682 460.645014 
L 583.416701 453.213563 
L 578.844721 448.640362 
L 574.272741 442.923861 
L 570.843756 442.923861 
L 566.271775 440.637261 
L 563.985785 438.122494 
L 561.699795 431.264037 
L 557.127815 422.119428 
L 553.127332 417.547124 
L 550.269844 418.461585 
L 544.554869 417.775739 
L 539.982889 419.833276 
L 536.553904 410.688667 
L 534.267913 392.970988 
L 529.124436 391.256373 
L 527.409943 388.970221 
L 526.266948 378.682536 
L 524.552455 362.107933 
L 520.551973 357.535629 
L 513.694002 354.906553 
L 509.693519 354.677938 
L 504.550042 356.392552 
L 499.978061 357.535629 
L 495.977579 361.536395 
L 491.977096 360.393319 
L 488.548111 362.679471 
L 486.262121 361.536395 
L 484.547628 362.679471 
L 482.833135 370.681004 
L 481.118643 384.397917 
L 480.547145 359.250243 
L 479.175551 325.186575 
L 477.11816 324.95796 
z
" clip-path="url(#p2d7b4cce1e)" style="fill: #2ca02c; fill-opacity: 0.15; stroke: #2ca02c; stroke-opacity: 0.15; stroke-linejoin: miter"/>
   </g>
   <g id="patch_32">
    <path d="M 477.11816 323.814884 
L 667.19824 323.814884 
L 670.627225 323.814884 
L 670.627225 324.95796 
L 673.484713 330.67334 
L 675.770703 342.104101 
L 678.056693 353.534862 
L 679.771186 364.965623 
L 680.914181 376.396384 
L 682.057176 384.397917 
L 684.343166 393.542526 
L 686.629156 404.973287 
L 688.343649 416.404048 
L 690.058141 427.834809 
L 691.201136 440.637261 
L 691.772634 452.070263 
L 693.487127 463.503265 
L 696.916112 474.936267 
L 701.488092 484.082668 
L 707.203067 486.369268 
L 712.918043 487.512569 
L 716.347028 492.085769 
L 722.062003 497.80227 
L 727.776979 504.662071 
L 735.777944 509.235272 
L 747.207895 512.665173 
L 758.637846 516.095073 
L 770.067796 518.381673 
L 781.497747 519.524974 
L 804.357648 522.383224 
L 827.21755 525.813125 
L 857.27832 529.814675 
L 857.27832 530.957975 
L 827.21755 528.671375 
L 804.357648 526.384775 
L 781.497747 522.726214 
L 770.067796 521.239924 
L 758.637846 520.668274 
L 747.207895 519.524974 
L 738.063934 518.953324 
L 730.062969 521.239924 
L 722.062003 522.383224 
L 715.204033 523.526524 
L 708.346063 523.526524 
L 706.060072 522.954874 
L 701.488092 519.524974 
L 698.059107 516.095073 
L 694.630122 511.521872 
L 692.344132 503.518771 
L 690.058141 492.085769 
L 686.629156 474.936267 
L 684.343166 463.503265 
L 682.057176 452.070263 
L 679.999785 440.637261 
L 679.199688 435.836341 
L 677.485196 427.834809 
L 675.770703 416.404048 
L 674.05621 399.257906 
L 671.77022 382.111765 
L 669.48423 362.679471 
L 667.19824 347.819482 
L 664.569351 336.388721 
L 658.854376 324.95796 
L 477.11816 324.95796 
z
" clip-path="url(#p2d7b4cce1e)" style="fill: #1f77b4; fill-opacity: 0.15; stroke: #1f77b4; stroke-opacity: 0.15; stroke-linejoin: miter"/>
   </g>
   <g id="patch_33">
    <path d="M 477.11816 323.814884 
L 667.19824 323.814884 
L 675.770703 323.814884 
L 675.770703 324.95796 
L 677.485196 336.388721 
L 681.485678 340.961025 
L 683.200171 348.962558 
L 685.486161 354.677938 
L 687.200654 364.965623 
L 688.343649 370.681004 
L 690.058141 377.53946 
L 691.772634 385.540993 
L 692.915629 393.542526 
L 694.058624 404.973287 
L 694.630122 416.404048 
L 695.773117 427.834809 
L 696.916112 440.637261 
L 698.630604 447.497062 
L 700.345097 456.643464 
L 702.631087 465.789865 
L 704.917077 470.363066 
L 708.346063 480.652767 
L 711.775048 487.512569 
L 715.204033 493.229069 
L 719.776013 498.94557 
L 726.633984 504.662071 
L 731.205964 506.948672 
L 738.063934 509.235272 
L 747.207895 511.521872 
L 758.637846 514.951773 
L 770.067796 517.238373 
L 781.497747 519.524974 
L 804.357648 522.383224 
L 827.21755 526.156115 
L 857.27832 530.386325 
L 857.27832 532.101276 
L 827.21755 528.671375 
L 804.357648 525.241475 
L 781.497747 522.954874 
L 764.352821 520.668274 
L 752.92287 519.524974 
L 741.49292 516.095073 
L 730.062969 512.665173 
L 720.919008 509.235272 
L 715.204033 502.375471 
L 709.489058 494.37237 
L 706.060072 489.799169 
L 701.488092 484.082668 
L 696.916112 478.366167 
L 693.487127 471.506366 
L 691.772634 463.503265 
L 690.058141 452.070263 
L 688.915146 440.637261 
L 687.772151 427.834809 
L 686.057659 416.404048 
L 684.914664 404.973287 
L 683.200171 393.542526 
L 681.485678 384.397917 
L 679.771186 376.396384 
L 678.056693 370.681004 
L 676.342201 359.250243 
L 675.199205 350.105634 
L 672.341718 342.104101 
L 669.48423 335.245645 
L 667.19824 330.67334 
L 659.997371 324.95796 
L 477.11816 324.95796 
z
" clip-path="url(#p2d7b4cce1e)" style="fill: #ff7f0e; fill-opacity: 0.15; stroke: #ff7f0e; stroke-opacity: 0.15; stroke-linejoin: miter"/>
   </g>
   <g id="matplotlib.axis_7">
    <g id="xtick_19">
     <g id="line2d_85">
      <path d="M 477.1200 556.3200 L 477.1200 324.4800" clip-path="url(#p2d7b4cce1e)" style="fill: none; stroke: #b0b0b0; stroke-opacity: 0.3; stroke-width: 0.8; stroke-linecap: square"/>
     </g>
     <g id="line2d_86">
      <g>
       <path d="M 477.1200 556.3200 L 477.1200 559.6800" style="stroke: #000000; stroke-width: 0.8"/>
      </g>
     </g>
     <g id="text_46">
      <text style="font-size: 10px; font-family: 'DejaVu Sans', 'Bitstream Vera Sans', 'Computer Modern Sans Serif', 'Lucida Grande', 'Verdana', 'Geneva', 'Lucid', 'Arial', 'Helvetica', 'Avant Garde', sans-serif; text-anchor: middle" x="477.2541" y="571.5099" transform="rotate(-0 477.2541 571.5099)">0.0</text>
     </g>
    </g>
    <g id="xtick_20">
     <g id="line2d_87">
      <path d="M 552.9600 556.3200 L 552.9600 324.4800" clip-path="url(#p2d7b4cce1e)" style="fill: none; stroke: #b0b0b0; stroke-opacity: 0.3; stroke-width: 0.8; stroke-linecap: square"/>
     </g>
     <g id="line2d_88">
      <g>
       <path d="M 552.9600 556.3200 L 552.9600 559.6800" style="stroke: #000000; stroke-width: 0.8"/>
      </g>
     </g>
     <g id="text_47">
      <text style="font-size: 10px; font-family: 'DejaVu Sans', 'Bitstream Vera Sans', 'Computer Modern Sans Serif', 'Lucida Grande', 'Verdana', 'Geneva', 'Lucid', 'Arial', 'Helvetica', 'Avant Garde', sans-serif; text-anchor: middle" x="553.1565" y="571.4584" transform="rotate(-0 553.1565 571.4584)">0.2</text>
     </g>
    </g>
    <g id="xtick_21">
     <g id="line2d_89">
      <path d="M 629.2800 556.3200 L 629.2800 324.4800" clip-path="url(#p2d7b4cce1e)" style="fill: none; stroke: #b0b0b0; stroke-opacity: 0.3; stroke-width: 0.8; stroke-linecap: square"/>
     </g>
     <g id="line2d_90">
      <g>
       <path d="M 629.2800 556.3200 L 629.2800 559.6800" style="stroke: #000000; stroke-width: 0.8"/>
      </g>
     </g>
     <g id="text_48">
      <text style="font-size: 10px; font-family: 'DejaVu Sans', 'Bitstream Vera Sans', 'Computer Modern Sans Serif', 'Lucida Grande', 'Verdana', 'Geneva', 'Lucid', 'Arial', 'Helvetica', 'Avant Garde', sans-serif; text-anchor: middle" x="629.4753" y="571.4435" transform="rotate(-0 629.4753 571.4435)">0.4</text>
     </g>
    </g>
    <g id="xtick_22">
     <g id="line2d_91">
      <path d="M 705.1200 556.3200 L 705.1200 324.4800" clip-path="url(#p2d7b4cce1e)" style="fill: none; stroke: #b0b0b0; stroke-opacity: 0.3; stroke-width: 0.8; stroke-linecap: square"/>
     </g>
     <g id="line2d_92">
      <g>
       <path d="M 705.1200 556.3200 L 705.1200 559.6800" style="stroke: #000000; stroke-width: 0.8"/>
      </g>
     </g>
     <g id="text_49">
      <text style="font-size: 10px; font-family: 'DejaVu Sans', 'Bitstream Vera Sans', 'Computer Modern Sans Serif', 'Lucida Grande', 'Verdana', 'Geneva', 'Lucid', 'Arial', 'Helvetica', 'Avant Garde', sans-serif; text-anchor: middle" x="705.3714" y="571.5360" transform="rotate(-0 705.3714 571.5360)">0.6</text>
     </g>
    </g>
    <g id="xtick_23">
     <g id="line2d_93">
      <path d="M 781.4400 556.3200 L 781.4400 324.4800" clip-path="url(#p2d7b4cce1e)" style="fill: none; stroke: #b0b0b0; stroke-opacity: 0.3; stroke-width: 0.8; stroke-linecap: square"/>
     </g>
     <g id="line2d_94">
      <g>
       <path d="M 781.4400 556.3200 L 781.4400 559.6800" style="stroke: #000000; stroke-width: 0.8"/>
      </g>
     </g>
     <g id="text_50">
      <text style="font-size: 10px; font-family: 'DejaVu Sans', 'Bitstream Vera Sans', 'Computer Modern Sans Serif', 'Lucida Grande', 'Verdana', 'Geneva', 'Lucid', 'Arial', 'Helvetica', 'Avant Garde', sans-serif; text-anchor: middle" x="781.1639" y="571.5041" transform="rotate(-0 781.1639 571.5041)">0.8</text>
     </g>
    </g>
    <g id="xtick_24">
     <g id="line2d_95">
      <path d="M 857.2800 556.3200 L 857.2800 324.4800" clip-path="url(#p2d7b4cce1e)" style="fill: none; stroke: #b0b0b0; stroke-opacity: 0.3; stroke-width: 0.8; stroke-linecap: square"/>
     </g>
     <g id="line2d_96">
      <g>
       <path d="M 857.2800 556.3200 L 857.2800 559.6800" style="stroke: #000000; stroke-width: 0.8"/>
      </g>
     </g>
     <g id="text_51">
      <text style="font-size: 10px; font-family: 'DejaVu Sans', 'Bitstream Vera Sans', 'Computer Modern Sans Serif', 'Lucida Grande', 'Verdana', 'Geneva', 'Lucid', 'Arial', 'Helvetica', 'Avant Garde', sans-serif; text-anchor: middle" x="857.3537" y="571.4510" transform="rotate(-0 857.3537 571.4510)">1.0</text>
     </g>
    </g>
    <g id="text_52">
     <text style="font-size: 10px; font-family: 'DejaVu Sans', 'Bitstream Vera Sans', 'Computer Modern Sans Serif', 'Lucida Grande', 'Verdana', 'Geneva', 'Lucid', 'Arial', 'Helvetica', 'Avant Garde', sans-serif; text-anchor: middle" x="667.0314" y="585.0256" transform="rotate(-0 667.0314 585.0256)">Recall</text>
    </g>
   </g>
   <g id="matplotlib.axis_8">
    <g id="ytick_19">
     <g id="line2d_97">
      <path d="M 477.1200 556.3200 L 857.2800 556.3200" clip-path="url(#p2d7b4cce1e)" style="fill: none; stroke: #b0b0b0; stroke-opacity: 0.3; stroke-width: 0.8; stroke-linecap: square"/>
     </g>
     <g id="line2d_98">
      <g>
       <path d="M 477.1200 556.3200 L 473.7600 556.3200" style="stroke: #000000; stroke-width: 0.8"/>
      </g>
     </g>
     <g id="text_53">
      <text style="font-size: 10px; font-family: 'DejaVu Sans', 'Bitstream Vera Sans', 'Computer Modern Sans Serif', 'Lucida Grande', 'Verdana', 'Geneva', 'Lucid', 'Arial', 'Helvetica', 'Avant Garde', sans-serif; text-anchor: end" x="470.2985" y="560.5653" transform="rotate(-0 470.2985 560.5653)">0.0</text>
     </g>
    </g>
    <g id="ytick_20">
     <g id="line2d_99">
      <path d="M 477.1200 510.2400 L 857.2800 510.2400" clip-path="url(#p2d7b4cce1e)" style="fill: none; stroke: #b0b0b0; stroke-opacity: 0.3; stroke-width: 0.8; stroke-linecap: square"/>
     </g>
     <g id="line2d_100">
      <g>
       <path d="M 477.1200 510.2400 L 473.7600 510.2400" style="stroke: #000000; stroke-width: 0.8"/>
      </g>
     </g>
     <g id="text_54">
      <text style="font-size: 10px; font-family: 'DejaVu Sans', 'Bitstream Vera Sans', 'Computer Modern Sans Serif', 'Lucida Grande', 'Verdana', 'Geneva', 'Lucid', 'Arial', 'Helvetica', 'Avant Garde', sans-serif; text-anchor: end" x="470.3558" y="514.2532" transform="rotate(-0 470.3558 514.2532)">0.2</text>
     </g>
    </g>
    <g id="ytick_21">
     <g id="line2d_101">
      <path d="M 477.1200 463.6800 L 857.2800 463.6800" clip-path="url(#p2d7b4cce1e)" style="fill: none; stroke: #b0b0b0; stroke-opacity: 0.3; stroke-width: 0.8; stroke-linecap: square"/>
     </g>
     <g id="line2d_102">
      <g>
       <path d="M 477.1200 463.6800 L 473.7600 463.6800" style="stroke: #000000; stroke-width: 0.8"/>
      </g>
     </g>
     <g id="text_55">
      <text style="font-size: 10px; font-family: 'DejaVu Sans', 'Bitstream Vera Sans', 'Computer Modern Sans Serif', 'Lucida Grande', 'Verdana', 'Geneva', 'Lucid', 'Arial', 'Helvetica', 'Avant Garde', sans-serif; text-anchor: end" x="470.3394" y="467.8767" transform="rotate(-0 470.3394 467.8767)">0.4</text>
     </g>
    </g>
    <g id="ytick_22">
     <g id="line2d_103">
      <path d="M 477.1200 417.6000 L 857.2800 417.6000" clip-path="url(#p2d7b4cce1e)" style="fill: none; stroke: #b0b0b0; stroke-opacity: 0.3; stroke-width: 0.8; stroke-linecap: square"/>
     </g>
     <g id="line2d_104">
      <g>
       <path d="M 477.1200 417.6000 L 473.7600 417.6000" style="stroke: #000000; stroke-width: 0.8"/>
      </g>
     </g>
     <g id="text_56">
      <text style="font-size: 10px; font-family: 'DejaVu Sans', 'Bitstream Vera Sans', 'Computer Modern Sans Serif', 'Lucida Grande', 'Verdana', 'Geneva', 'Lucid', 'Arial', 'Helvetica', 'Avant Garde', sans-serif; text-anchor: end" x="469.9187" y="421.5840" transform="rotate(-0 469.9187 421.5840)">0.6</text>
     </g>
    </g>
    <g id="ytick_23">
     <g id="line2d_105">
      <path d="M 477.1200 371.0400 L 857.2800 371.0400" clip-path="url(#p2d7b4cce1e)" style="fill: none; stroke: #b0b0b0; stroke-opacity: 0.3; stroke-width: 0.8; stroke-linecap: square"/>
     </g>
     <g id="line2d_106">
      <g>
       <path d="M 477.1200 371.0400 L 473.7600 371.0400" style="stroke: #000000; stroke-width: 0.8"/>
      </g>
     </g>
     <g id="text_57">
      <text style="font-size: 10px; font-family: 'DejaVu Sans', 'Bitstream Vera Sans', 'Computer Modern Sans Serif', 'Lucida Grande', 'Verdana', 'Geneva', 'Lucid', 'Arial', 'Helvetica', 'Avant Garde', sans-serif; text-anchor: end" x="470.2836" y="375.2306" transform="rotate(-0 470.2836 375.2306)">0.8</text>
     </g>
    </g>
    <g id="ytick_24">
     <g id="line2d_107">
      <path d="M 477.1200 324.4800 L 857.2800 324.4800" clip-path="url(#p2d7b4cce1e)" style="fill: none; stroke: #b0b0b0; stroke-opacity: 0.3; stroke-width: 0.8; stroke-linecap: square"/>
     </g>
     <g id="line2d_108">
      <g>
       <path d="M 477.1200 324.4800 L 473.7600 324.4800" style="stroke: #000000; stroke-width: 0.8"/>
      </g>
     </g>
     <g id="text_58">
      <text style="font-size: 10px; font-family: 'DejaVu Sans', 'Bitstream Vera Sans', 'Computer Modern Sans Serif', 'Lucida Grande', 'Verdana', 'Geneva', 'Lucid', 'Arial', 'Helvetica', 'Avant Garde', sans-serif; text-anchor: end" x="470.1840" y="328.7916" transform="rotate(-0 470.1840 328.7916)">1.0</text>
     </g>
    </g>
    <g id="text_59">
     <text style="font-size: 10px; font-family: 'DejaVu Sans', 'Bitstream Vera Sans', 'Computer Modern Sans Serif', 'Lucida Grande', 'Verdana', 'Geneva', 'Lucid', 'Arial', 'Helvetica', 'Avant Garde', sans-serif; text-anchor: middle" x="448.9399" y="442.5802" transform="rotate(-90 448.9399 442.5802)">Precision</text>
    </g>
   </g>
   <g id="line2d_109">
    <path d="M 477.11816 324.95796 
L 478.032556 440.637261 
L 478.832653 542.390977 
L 480.775744 546.392528 
L 486.262121 538.389427 
L 491.977096 530.386325 
L 499.978061 520.668274 
L 505.693037 514.380123 
L 511.408012 508.091972 
L 517.122987 504.090421 
L 521.12347 501.803821 
L 525.123953 501.232171 
L 530.838928 501.232171 
L 533.124918 501.803821 
L 537.696899 500.317531 
L 545.697864 498.37392 
L 551.41284 496.65897 
L 557.127815 494.37237 
L 562.84279 492.314429 
L 568.557766 491.514119 
L 576.558731 490.027829 
L 585.702692 489.227519 
L 591.417667 488.084219 
L 600.561627 486.940918 
L 608.562593 486.712258 
L 614.277568 486.940918 
L 622.278534 486.940918 
L 631.422494 488.084219 
L 639.42346 489.227519 
L 646.28143 489.799169 
L 654.282396 490.713809 
L 659.997371 490.599479 
L 664.569351 491.514119 
L 667.19824 492.943244 
L 672.913215 495.51567 
L 678.628191 497.80227 
L 684.343166 499.17423 
L 690.058141 500.660521 
L 695.773117 501.232171 
L 701.488092 502.947121 
L 707.203067 503.518771 
L 712.918043 504.662071 
L 718.633018 506.377022 
L 724.347993 508.091972 
L 730.062969 509.806922 
L 735.777944 511.521872 
L 747.207895 514.951773 
L 758.637846 517.810023 
L 770.067796 520.668274 
L 775.782772 524.098174 
L 781.497747 525.241475 
L 792.927698 525.470135 
L 804.357648 526.156115 
L 815.787599 526.613435 
L 827.21755 527.528075 
L 838.6475 528.671375 
L 850.077451 529.243025 
L 857.27832 530.386325 
" clip-path="url(#p2d7b4cce1e)" style="fill: none; stroke: #9467bd; stroke-width: 1.5; stroke-linecap: square"/>
   </g>
   <g id="line2d_110">
    <path d="M 477.11816 324.729344 
L 479.175551 324.95796 
L 480.775744 344.390253 
L 482.833135 339.817949 
L 484.547628 337.303182 
L 487.405116 339.817949 
L 490.834101 342.104101 
L 493.691589 342.675639 
L 495.977579 345.304714 
L 499.978061 346.905021 
L 501.692554 346.905021 
L 504.550042 345.533329 
L 509.122022 343.818715 
L 511.408012 345.304714 
L 514.836997 345.304714 
L 518.265983 346.44779 
L 520.551973 347.247944 
L 522.837963 350.677172 
L 524.895354 351.477325 
L 526.266948 363.251009 
L 528.552938 366.337314 
L 530.838928 366.337314 
L 534.267913 368.623467 
L 535.982406 376.396384 
L 538.268396 384.397917 
L 540.554386 386.112531 
L 544.554869 384.626532 
L 547.412357 384.397917 
L 549.698347 386.112531 
L 552.555835 385.540993 
L 555.98482 387.255607 
L 558.27081 390.113297 
L 561.699795 394.114064 
L 563.414288 398.11483 
L 567.41477 400.058059 
L 570.272258 400.97252 
L 574.272741 401.315443 
L 577.701726 405.544825 
L 584.559697 411.603128 
L 589.131677 415.260972 
L 593.703657 417.547124 
L 598.275637 422.119428 
L 602.847618 425.548657 
L 608.562593 427.834809 
L 613.134573 430.349576 
L 615.420563 433.550189 
L 618.849549 435.264803 
L 622.278534 435.607726 
L 625.707519 437.550956 
L 630.279499 438.122494 
L 634.85148 440.637261 
L 637.13747 440.637261 
L 639.42346 442.352211 
L 642.852445 444.638812 
L 646.28143 445.210462 
L 650.853411 448.640362 
L 654.282396 450.926963 
L 656.568386 455.500163 
L 659.997371 459.501714 
L 664.569351 463.503265 
L 667.19824 465.789865 
L 671.77022 470.134406 
L 676.342201 476.079567 
L 680.914181 482.367718 
L 685.486161 485.797618 
L 692.344132 488.655869 
L 698.059107 489.227519 
L 704.917077 490.942469 
L 710.632053 492.657419 
L 715.204033 493.000409 
L 718.633018 494.37237 
L 724.347993 496.08732 
L 731.205964 497.23062 
L 738.063934 499.51722 
L 743.77891 502.375471 
L 749.493885 503.747431 
L 756.351855 505.805371 
L 762.066831 506.948672 
L 770.067796 509.806922 
L 775.782772 512.665173 
L 781.497747 514.037133 
L 787.212722 516.095073 
L 792.927698 518.381673 
L 798.642673 519.524974 
L 804.357648 520.096624 
L 815.787599 520.668274 
L 827.21755 520.896934 
L 838.6475 521.811574 
L 850.077451 522.383224 
L 854.649431 522.726214 
L 855.792426 528.671375 
L 857.27832 530.957975 
" clip-path="url(#p2d7b4cce1e)" style="fill: none; stroke: #2ca02c; stroke-width: 1.5; stroke-linecap: square"/>
   </g>
   <g id="line2d_111">
    <path d="M 477.11816 324.95796 
L 646.28143 324.95796 
L 657.711381 325.872421 
L 663.426356 330.67334 
L 667.19824 336.67449 
L 669.48423 345.533329 
L 671.77022 354.677938 
L 674.05621 364.965623 
L 675.770703 376.396384 
L 677.485196 386.684069 
L 679.199688 396.971754 
L 680.914181 407.259439 
L 682.628673 416.404048 
L 684.343166 426.691733 
L 686.086234 440.294338 
L 687.200654 447.497062 
L 688.915146 455.500163 
L 690.058141 463.503265 
L 691.201136 471.506366 
L 692.915629 480.652767 
L 695.201619 486.369268 
L 698.059107 490.942469 
L 701.488092 495.51567 
L 704.917077 498.94557 
L 709.489058 502.375471 
L 714.061038 504.662071 
L 717.490023 506.948672 
L 722.062003 509.235272 
L 727.776979 512.093522 
L 731.205964 513.808473 
L 735.777944 516.095073 
L 747.207895 517.467033 
L 758.637846 518.381673 
L 770.067796 519.524974 
L 781.497747 520.096624 
L 787.212722 520.668274 
L 792.927698 521.811574 
L 804.357648 523.183534 
L 815.787599 525.241475 
L 827.21755 526.956425 
L 838.6475 528.099725 
L 850.077451 529.243025 
L 857.27832 530.386325 
" clip-path="url(#p2d7b4cce1e)" style="fill: none; stroke: #1f77b4; stroke-width: 1.5; stroke-linecap: square"/>
   </g>
   <g id="line2d_112">
    <path d="M 477.11816 324.95796 
L 661.140366 324.95796 
L 667.19824 327.244112 
L 670.055728 330.101802 
L 674.05621 336.388721 
L 675.770703 345.533329 
L 677.485196 359.250243 
L 679.199688 370.681004 
L 681.485678 379.825612 
L 683.200171 390.684835 
L 684.914664 396.971754 
L 687.200654 407.259439 
L 689.486644 418.6902 
L 691.772634 427.834809 
L 693.487127 436.979418 
L 693.887175 440.637261 
L 694.630122 446.353762 
L 695.773117 455.500163 
L 696.916112 463.503265 
L 699.202102 470.363066 
L 700.916595 477.222867 
L 703.774082 481.796068 
L 706.060072 486.369268 
L 709.489058 490.942469 
L 712.918043 495.51567 
L 716.347028 501.232171 
L 719.776013 505.233721 
L 724.347993 507.520322 
L 730.062969 509.806922 
L 735.777944 512.093522 
L 747.207895 514.951773 
L 758.637846 517.810023 
L 770.067796 519.524974 
L 775.782772 520.668274 
L 781.497747 522.040234 
L 792.927698 522.954874 
L 804.357648 524.098174 
L 815.787599 525.813125 
L 827.21755 527.528075 
L 838.6475 528.671375 
L 850.077451 529.814675 
L 857.27832 531.529626 
" clip-path="url(#p2d7b4cce1e)" style="fill: none; stroke: #ff7f0e; stroke-width: 1.5; stroke-linecap: square"/>
   </g>
   <g id="patch_34">
    <path d="M 477.1200 556.3200 L 477.1200 324.4800" style="fill: none; stroke: #000000; stroke-width: 0.8; stroke-linejoin: miter; stroke-linecap: square"/>
   </g>
   <g id="patch_35">
    <path d="M 857.2800 556.3200 L 857.2800 324.4800" style="fill: none; stroke: #000000; stroke-width: 0.8; stroke-linejoin: miter; stroke-linecap: square"/>
   </g>
   <g id="patch_36">
    <path d="M 477.1200 556.3200 L 857.2800 556.3200" style="fill: none; stroke: #000000; stroke-width: 0.8; stroke-linejoin: miter; stroke-linecap: square"/>
   </g>
   <g id="patch_37">
    <path d="M 477.1200 324.4800 L 857.2800 324.4800" style="fill: none; stroke: #000000; stroke-width: 0.8; stroke-linejoin: miter; stroke-linecap: square"/>
   </g>
   <g id="text_60">
    <text style="font-size: 12px; font-family: 'DejaVu Sans', 'Bitstream Vera Sans', 'Computer Modern Sans Serif', 'Lucida Grande', 'Verdana', 'Geneva', 'Lucid', 'Arial', 'Helvetica', 'Avant Garde', sans-serif; text-anchor: middle" x="666.9936" y="318.8777" transform="rotate(-0 666.9936 318.8777)">Latent Dim. = 256</text>
   </g>
  </g>
  <g id="axes_5">
   <g id="patch_38">
    <path d="M 43.76 839.85964 
L 423.92976 839.85964 
L 423.92976 608.04024 
L 43.76 608.04024 
z
" style="fill: #ffffff"/>
   </g>
   <g id="patch_39">
    <path d="M 43.6784 608.160239 
L 45.96439 781.00455 
L 47.335984 824.449957 
L 52.822361 816.446855 
L 60.823326 806.157154 
L 72.253277 792.437552 
L 77.968252 787.864351 
L 87.112213 779.289599 
L 92.827188 781.5762 
L 100.828153 780.4329 
L 112.258104 775.288049 
L 123.688055 770.714848 
L 135.118005 768.428248 
L 146.547956 766.713297 
L 157.977907 765.569997 
L 169.407858 764.083707 
L 186.552784 763.283397 
L 203.69771 764.083707 
L 215.12766 765.569997 
L 226.557611 767.856598 
L 233.75848 768.999898 
L 245.188431 774.144749 
L 256.618381 778.717949 
L 268.048332 781.5762 
L 279.478283 784.43445 
L 290.908233 787.292701 
L 302.338184 791.294251 
L 313.768135 795.867452 
L 325.198085 799.869003 
L 336.628036 802.727253 
L 348.057987 805.013854 
L 370.917888 807.300454 
L 393.77779 809.015404 
L 423.83856 811.873655 
L 423.83856 814.160255 
L 393.77779 811.302005 
L 370.917888 810.158704 
L 348.057987 808.443754 
L 336.628036 806.728804 
L 325.198085 805.013854 
L 313.768135 801.583953 
L 302.338184 797.010752 
L 290.908233 792.437552 
L 279.478283 790.150951 
L 268.048332 787.864351 
L 256.618381 785.57775 
L 245.188431 782.14785 
L 233.75848 779.86125 
L 226.557611 778.146299 
L 215.12766 776.431349 
L 203.69771 776.431349 
L 186.552784 776.202689 
L 169.407858 775.288049 
L 157.977907 775.859699 
L 146.547956 776.431349 
L 135.118005 777.574649 
L 123.688055 779.86125 
L 112.258104 783.29115 
L 100.828153 788.436001 
L 92.827188 790.150951 
L 87.112213 790.150951 
L 77.968252 794.724152 
L 72.253277 801.583953 
L 60.823326 815.303555 
L 52.822361 826.736557 
L 46.535888 838.169559 
z
" clip-path="url(#p7af9a70f86)" style="fill: #9467bd; fill-opacity: 0.15; stroke: #9467bd; stroke-opacity: 0.15; stroke-linejoin: miter"/>
   </g>
   <g id="patch_40">
    <path d="M 43.6784 607.017163 
L 59.680331 607.017163 
L 60.823326 612.732544 
L 64.252311 613.647005 
L 68.252794 612.732544 
L 71.681779 616.161772 
L 76.253759 616.161772 
L 77.968252 620.734076 
L 80.254242 626.449457 
L 83.683227 631.593299 
L 87.112213 637.880218 
L 90.541198 641.309446 
L 92.827188 641.880984 
L 95.113178 645.881751 
L 97.399168 657.88405 
L 100.828153 660.74174 
L 105.400134 663.59943 
L 108.829119 666.45712 
L 112.258104 671.029425 
L 116.830084 676.744805 
L 122.54506 678.459419 
L 127.11704 681.31711 
L 130.546025 686.460952 
L 135.118005 688.175566 
L 140.832981 687.03249 
L 144.261966 689.89018 
L 149.976941 690.461719 
L 157.977907 690.690334 
L 163.692882 693.890947 
L 169.407858 693.662332 
L 175.122833 694.119562 
L 183.123798 699.606327 
L 185.409789 704.75017 
L 189.981769 708.179398 
L 194.553749 714.466317 
L 199.125729 714.466317 
L 203.69771 723.839541 
L 209.412685 731.842642 
L 212.84167 736.415843 
L 217.41365 739.845743 
L 221.985631 744.418944 
L 226.557611 750.135445 
L 229.986596 755.280296 
L 233.75848 756.995246 
L 239.473455 757.909886 
L 245.188431 759.281846 
L 250.903406 760.996797 
L 256.618381 762.140097 
L 265.762342 764.426697 
L 273.763307 764.998347 
L 279.478283 767.056288 
L 285.193258 768.999898 
L 290.908233 770.714848 
L 302.338184 773.001448 
L 313.768135 775.859699 
L 325.198085 779.86125 
L 336.628036 782.14785 
L 348.057987 784.43445 
L 359.487938 787.864351 
L 370.917888 790.722601 
L 382.347839 792.437552 
L 393.77779 793.352192 
L 405.20774 793.580852 
L 421.209671 796.439102 
L 423.83856 806.157154 
L 423.83856 814.160255 
L 421.209671 809.015404 
L 405.20774 806.157154 
L 393.77779 805.585504 
L 382.347839 805.013854 
L 370.917888 803.870553 
L 359.487938 802.155603 
L 348.057987 799.297353 
L 336.628036 797.010752 
L 325.198085 794.724152 
L 313.768135 791.294251 
L 308.053159 789.007651 
L 296.623209 785.57775 
L 290.908233 784.43445 
L 279.478283 783.8628 
L 273.763307 783.29115 
L 265.762342 782.14785 
L 256.618381 779.86125 
L 250.903406 777.574649 
L 245.188431 775.288049 
L 239.473455 773.001448 
L 233.75848 771.286498 
L 220.842636 773.001448 
L 215.12766 774.144749 
L 203.69771 776.660009 
L 197.982734 778.146299 
L 192.267759 778.717949 
L 186.552784 782.7195 
L 180.837808 785.0061 
L 175.122833 784.43445 
L 169.407858 783.29115 
L 163.692882 781.00455 
L 157.977907 777.574649 
L 152.262932 776.431349 
L 144.261966 774.144749 
L 135.118005 771.858148 
L 130.546025 769.571548 
L 125.974045 771.858148 
L 121.402065 770.714848 
L 116.830084 769.571548 
L 112.258104 766.141647 
L 107.686124 760.425146 
L 105.400134 756.995246 
L 100.828153 755.280296 
L 97.399168 752.993695 
L 96.256173 746.705544 
L 93.970183 735.272542 
L 91.684193 723.839541 
L 89.398203 703.035556 
L 87.112213 693.890947 
L 84.254725 683.031724 
L 81.968735 684.746338 
L 80.254242 675.601729 
L 79.111247 653.883283 
L 77.968252 642.452522 
L 76.253759 637.30868 
L 72.253277 639.023294 
L 66.538301 639.594832 
L 60.823326 623.020229 
L 58.537336 621.305614 
L 55.108351 624.734843 
L 52.822361 617.304848 
L 50.53637 608.388854 
L 43.6784 608.160239 
z
" clip-path="url(#p7af9a70f86)" style="fill: #2ca02c; fill-opacity: 0.15; stroke: #2ca02c; stroke-opacity: 0.15; stroke-linejoin: miter"/>
   </g>
   <g id="patch_41">
    <path d="M 43.6784 607.017163 
L 233.75848 607.017163 
L 238.33046 607.017163 
L 238.33046 608.160239 
L 239.473455 617.304848 
L 241.759445 628.735609 
L 243.473938 639.023294 
L 245.188431 649.310979 
L 246.331426 659.598664 
L 247.474421 671.029425 
L 248.617416 682.460186 
L 250.903406 693.890947 
L 252.617899 705.321708 
L 254.332391 716.752469 
L 255.475386 723.839541 
L 256.618381 735.272542 
L 258.904371 746.705544 
L 261.190362 755.851946 
L 265.762342 763.855047 
L 270.334322 770.714848 
L 273.763307 775.288049 
L 279.478283 779.86125 
L 285.193258 784.43445 
L 290.908233 790.150951 
L 296.623209 793.580852 
L 302.338184 795.867452 
L 313.768135 798.154052 
L 325.198085 800.440653 
L 336.628036 801.583953 
L 348.057987 802.727253 
L 370.917888 806.157154 
L 393.77779 809.358394 
L 423.83856 813.016955 
L 423.83856 815.303555 
L 393.77779 812.445305 
L 370.917888 810.158704 
L 348.057987 807.300454 
L 336.628036 805.585504 
L 325.198085 804.442203 
L 313.768135 803.298903 
L 302.338184 801.583953 
L 290.908233 799.869003 
L 281.764273 797.010752 
L 273.763307 794.724152 
L 268.048332 792.437552 
L 262.333357 790.150951 
L 256.618381 785.57775 
L 253.189396 778.717949 
L 251.474904 769.571548 
L 249.760411 755.851946 
L 248.045918 740.989043 
L 246.674324 723.839541 
L 246.331426 716.752469 
L 245.188431 699.606327 
L 244.045436 688.175566 
L 242.902441 676.744805 
L 241.759445 665.314044 
L 240.044953 653.883283 
L 238.33046 644.738674 
L 236.04447 633.307913 
L 233.75848 625.306381 
L 226.557611 608.160239 
L 43.6784 608.160239 
z
" clip-path="url(#p7af9a70f86)" style="fill: #1f77b4; fill-opacity: 0.15; stroke: #1f77b4; stroke-opacity: 0.15; stroke-linejoin: miter"/>
   </g>
   <g id="patch_42">
    <path d="M 43.6784 607.017163 
L 233.75848 607.017163 
L 242.902441 607.017163 
L 242.902441 608.160239 
L 246.331426 613.87562 
L 248.045918 625.306381 
L 249.760411 637.880218 
L 252.046401 647.024827 
L 253.760894 657.312512 
L 256.046884 659.598664 
L 257.761376 671.029425 
L 259.475869 682.460186 
L 260.618864 693.890947 
L 261.761859 705.321708 
L 262.904854 716.752469 
L 263.704951 723.839541 
L 265.762342 730.699342 
L 268.048332 740.989043 
L 270.334322 750.135445 
L 272.620312 756.995246 
L 274.906302 763.855047 
L 279.478283 769.571548 
L 285.193258 776.431349 
L 290.908233 782.14785 
L 297.766204 786.721051 
L 304.624174 789.007651 
L 313.768135 791.294251 
L 325.198085 794.724152 
L 336.628036 798.154052 
L 348.057987 801.012303 
L 370.917888 805.013854 
L 393.77779 808.443754 
L 423.83856 813.588605 
L 423.83856 815.303555 
L 393.77779 810.730354 
L 370.917888 807.872104 
L 348.057987 804.442203 
L 336.628036 802.727253 
L 319.48311 800.440653 
L 308.053159 798.154052 
L 296.623209 795.295802 
L 285.193258 792.437552 
L 279.478283 787.864351 
L 272.620312 783.29115 
L 268.048332 777.574649 
L 264.619347 769.571548 
L 261.190362 761.568447 
L 258.332874 753.565345 
L 256.618381 746.705544 
L 254.332391 735.272542 
L 252.617899 723.839541 
L 250.903406 711.037088 
L 249.760411 699.606327 
L 248.045918 688.175566 
L 246.331426 676.744805 
L 245.188431 665.314044 
L 244.616933 656.169436 
L 243.473938 648.167903 
L 241.759445 640.16637 
L 240.044953 631.021761 
L 238.33046 620.734076 
L 236.04447 615.018696 
L 233.75848 610.446391 
L 227.700606 608.160239 
L 43.6784 608.160239 
z
" clip-path="url(#p7af9a70f86)" style="fill: #ff7f0e; fill-opacity: 0.15; stroke: #ff7f0e; stroke-opacity: 0.15; stroke-linejoin: miter"/>
   </g>
   <g id="matplotlib.axis_9">
    <g id="xtick_25">
     <g id="line2d_113">
      <path d="M 43.6800 839.5200 L 43.6800 607.6800" clip-path="url(#p7af9a70f86)" style="fill: none; stroke: #b0b0b0; stroke-opacity: 0.3; stroke-width: 0.8; stroke-linecap: square"/>
     </g>
     <g id="line2d_114">
      <g>
       <path d="M 43.6800 839.5200 L 43.6800 842.8800" style="stroke: #000000; stroke-width: 0.8"/>
      </g>
     </g>
     <g id="text_61">
      <text style="font-size: 10px; font-family: 'DejaVu Sans', 'Bitstream Vera Sans', 'Computer Modern Sans Serif', 'Lucida Grande', 'Verdana', 'Geneva', 'Lucid', 'Arial', 'Helvetica', 'Avant Garde', sans-serif; text-anchor: middle" x="43.7015" y="854.6249" transform="rotate(-0 43.7015 854.6249)">0.0</text>
     </g>
    </g>
    <g id="xtick_26">
     <g id="line2d_115">
      <path d="M 120.0000 839.5200 L 120.0000 607.6800" clip-path="url(#p7af9a70f86)" style="fill: none; stroke: #b0b0b0; stroke-opacity: 0.3; stroke-width: 0.8; stroke-linecap: square"/>
     </g>
     <g id="line2d_116">
      <g>
       <path d="M 120.0000 839.5200 L 120.0000 842.8800" style="stroke: #000000; stroke-width: 0.8"/>
      </g>
     </g>
     <g id="text_62">
      <text style="font-size: 10px; font-family: 'DejaVu Sans', 'Bitstream Vera Sans', 'Computer Modern Sans Serif', 'Lucida Grande', 'Verdana', 'Geneva', 'Lucid', 'Arial', 'Helvetica', 'Avant Garde', sans-serif; text-anchor: middle" x="119.5900" y="854.5970" transform="rotate(-0 119.5900 854.5970)">0.2</text>
     </g>
    </g>
    <g id="xtick_27">
     <g id="line2d_117">
      <path d="M 195.8400 839.5200 L 195.8400 607.6800" clip-path="url(#p7af9a70f86)" style="fill: none; stroke: #b0b0b0; stroke-opacity: 0.3; stroke-width: 0.8; stroke-linecap: square"/>
     </g>
     <g id="line2d_118">
      <g>
       <path d="M 195.8400 839.5200 L 195.8400 842.8800" style="stroke: #000000; stroke-width: 0.8"/>
      </g>
     </g>
     <g id="text_63">
      <text style="font-size: 10px; font-family: 'DejaVu Sans', 'Bitstream Vera Sans', 'Computer Modern Sans Serif', 'Lucida Grande', 'Verdana', 'Geneva', 'Lucid', 'Arial', 'Helvetica', 'Avant Garde', sans-serif; text-anchor: middle" x="195.9016" y="854.5811" transform="rotate(-0 195.9016 854.5811)">0.4</text>
     </g>
    </g>
    <g id="xtick_28">
     <g id="line2d_119">
      <path d="M 271.6800 839.5200 L 271.6800 607.6800" clip-path="url(#p7af9a70f86)" style="fill: none; stroke: #b0b0b0; stroke-opacity: 0.3; stroke-width: 0.8; stroke-linecap: square"/>
     </g>
     <g id="line2d_120">
      <g>
       <path d="M 271.6800 839.5200 L 271.6800 842.8800" style="stroke: #000000; stroke-width: 0.8"/>
      </g>
     </g>
     <g id="text_64">
      <text style="font-size: 10px; font-family: 'DejaVu Sans', 'Bitstream Vera Sans', 'Computer Modern Sans Serif', 'Lucida Grande', 'Verdana', 'Geneva', 'Lucid', 'Arial', 'Helvetica', 'Avant Garde', sans-serif; text-anchor: middle" x="271.8153" y="854.6607" transform="rotate(-0 271.8153 854.6607)">0.6</text>
     </g>
    </g>
    <g id="xtick_29">
     <g id="line2d_121">
      <path d="M 348.0000 839.5200 L 348.0000 607.6800" clip-path="url(#p7af9a70f86)" style="fill: none; stroke: #b0b0b0; stroke-opacity: 0.3; stroke-width: 0.8; stroke-linecap: square"/>
     </g>
     <g id="line2d_122">
      <g>
       <path d="M 348.0000 839.5200 L 348.0000 842.8800" style="stroke: #000000; stroke-width: 0.8"/>
      </g>
     </g>
     <g id="text_65">
      <text style="font-size: 10px; font-family: 'DejaVu Sans', 'Bitstream Vera Sans', 'Computer Modern Sans Serif', 'Lucida Grande', 'Verdana', 'Geneva', 'Lucid', 'Arial', 'Helvetica', 'Avant Garde', sans-serif; text-anchor: middle" x="348.0706" y="854.6587" transform="rotate(-0 348.0706 854.6587)">0.8</text>
     </g>
    </g>
    <g id="xtick_30">
     <g id="line2d_123">
      <path d="M 423.8400 839.5200 L 423.8400 607.6800" clip-path="url(#p7af9a70f86)" style="fill: none; stroke: #b0b0b0; stroke-opacity: 0.3; stroke-width: 0.8; stroke-linecap: square"/>
     </g>
     <g id="line2d_124">
      <g>
       <path d="M 423.8400 839.5200 L 423.8400 842.8800" style="stroke: #000000; stroke-width: 0.8"/>
      </g>
     </g>
     <g id="text_66">
      <text style="font-size: 10px; font-family: 'DejaVu Sans', 'Bitstream Vera Sans', 'Computer Modern Sans Serif', 'Lucida Grande', 'Verdana', 'Geneva', 'Lucid', 'Arial', 'Helvetica', 'Avant Garde', sans-serif; text-anchor: middle" x="423.9606" y="854.6004" transform="rotate(-0 423.9606 854.6004)">1.0</text>
     </g>
    </g>
    <g id="text_67">
     <text style="font-size: 10px; font-family: 'DejaVu Sans', 'Bitstream Vera Sans', 'Computer Modern Sans Serif', 'Lucida Grande', 'Verdana', 'Geneva', 'Lucid', 'Arial', 'Helvetica', 'Avant Garde', sans-serif; text-anchor: middle" x="233.8013" y="868.6382" transform="rotate(-0 233.8013 868.6382)">Recall</text>
    </g>
   </g>
   <g id="matplotlib.axis_10">
    <g id="ytick_25">
     <g id="line2d_125">
      <path d="M 43.6800 839.5200 L 423.8400 839.5200" clip-path="url(#p7af9a70f86)" style="fill: none; stroke: #b0b0b0; stroke-opacity: 0.3; stroke-width: 0.8; stroke-linecap: square"/>
     </g>
     <g id="line2d_126">
      <g>
       <path d="M 43.6800 839.5200 L 40.3200 839.5200" style="stroke: #000000; stroke-width: 0.8"/>
      </g>
     </g>
     <g id="text_68">
      <text style="font-size: 10px; font-family: 'DejaVu Sans', 'Bitstream Vera Sans', 'Computer Modern Sans Serif', 'Lucida Grande', 'Verdana', 'Geneva', 'Lucid', 'Arial', 'Helvetica', 'Avant Garde', sans-serif; text-anchor: end" x="36.6852" y="844.2225" transform="rotate(-0 36.6852 844.2225)">0.0</text>
     </g>
    </g>
    <g id="ytick_26">
     <g id="line2d_127">
      <path d="M 43.6800 793.4400 L 423.8400 793.4400" clip-path="url(#p7af9a70f86)" style="fill: none; stroke: #b0b0b0; stroke-opacity: 0.3; stroke-width: 0.8; stroke-linecap: square"/>
     </g>
     <g id="line2d_128">
      <g>
       <path d="M 43.6800 793.4400 L 40.3200 793.4400" style="stroke: #000000; stroke-width: 0.8"/>
      </g>
     </g>
     <g id="text_69">
      <text style="font-size: 10px; font-family: 'DejaVu Sans', 'Bitstream Vera Sans', 'Computer Modern Sans Serif', 'Lucida Grande', 'Verdana', 'Geneva', 'Lucid', 'Arial', 'Helvetica', 'Avant Garde', sans-serif; text-anchor: end" x="36.8028" y="797.3944" transform="rotate(-0 36.8028 797.3944)">0.2</text>
     </g>
    </g>
    <g id="ytick_27">
     <g id="line2d_129">
      <path d="M 43.6800 746.8800 L 423.8400 746.8800" clip-path="url(#p7af9a70f86)" style="fill: none; stroke: #b0b0b0; stroke-opacity: 0.3; stroke-width: 0.8; stroke-linecap: square"/>
     </g>
     <g id="line2d_130">
      <g>
       <path d="M 43.6800 746.8800 L 40.3200 746.8800" style="stroke: #000000; stroke-width: 0.8"/>
      </g>
     </g>
     <g id="text_70">
      <text style="font-size: 10px; font-family: 'DejaVu Sans', 'Bitstream Vera Sans', 'Computer Modern Sans Serif', 'Lucida Grande', 'Verdana', 'Geneva', 'Lucid', 'Arial', 'Helvetica', 'Avant Garde', sans-serif; text-anchor: end" x="36.8010" y="751.4853" transform="rotate(-0 36.8010 751.4853)">0.4</text>
     </g>
    </g>
    <g id="ytick_28">
     <g id="line2d_131">
      <path d="M 43.6800 700.3200 L 423.8400 700.3200" clip-path="url(#p7af9a70f86)" style="fill: none; stroke: #b0b0b0; stroke-opacity: 0.3; stroke-width: 0.8; stroke-linecap: square"/>
     </g>
     <g id="line2d_132">
      <g>
       <path d="M 43.6800 700.3200 L 40.3200 700.3200" style="stroke: #000000; stroke-width: 0.8"/>
      </g>
     </g>
     <g id="text_71">
      <text style="font-size: 10px; font-family: 'DejaVu Sans', 'Bitstream Vera Sans', 'Computer Modern Sans Serif', 'Lucida Grande', 'Verdana', 'Geneva', 'Lucid', 'Arial', 'Helvetica', 'Avant Garde', sans-serif; text-anchor: end" x="36.8016" y="704.7239" transform="rotate(-0 36.8016 704.7239)">0.6</text>
     </g>
    </g>
    <g id="ytick_29">
     <g id="line2d_133">
      <path d="M 43.6800 654.2400 L 423.8400 654.2400" clip-path="url(#p7af9a70f86)" style="fill: none; stroke: #b0b0b0; stroke-opacity: 0.3; stroke-width: 0.8; stroke-linecap: square"/>
     </g>
     <g id="line2d_134">
      <g>
       <path d="M 43.6800 654.2400 L 40.3200 654.2400" style="stroke: #000000; stroke-width: 0.8"/>
      </g>
     </g>
     <g id="text_72">
      <text style="font-size: 10px; font-family: 'DejaVu Sans', 'Bitstream Vera Sans', 'Computer Modern Sans Serif', 'Lucida Grande', 'Verdana', 'Geneva', 'Lucid', 'Arial', 'Helvetica', 'Avant Garde', sans-serif; text-anchor: end" x="36.7084" y="658.3485" transform="rotate(-0 36.7084 658.3485)">0.8</text>
     </g>
    </g>
    <g id="ytick_30">
     <g id="line2d_135">
      <path d="M 43.6800 607.6800 L 423.8400 607.6800" clip-path="url(#p7af9a70f86)" style="fill: none; stroke: #b0b0b0; stroke-opacity: 0.3; stroke-width: 0.8; stroke-linecap: square"/>
     </g>
     <g id="line2d_136">
      <g>
       <path d="M 43.6800 607.6800 L 40.3200 607.6800" style="stroke: #000000; stroke-width: 0.8"/>
      </g>
     </g>
     <g id="text_73">
      <text style="font-size: 10px; font-family: 'DejaVu Sans', 'Bitstream Vera Sans', 'Computer Modern Sans Serif', 'Lucida Grande', 'Verdana', 'Geneva', 'Lucid', 'Arial', 'Helvetica', 'Avant Garde', sans-serif; text-anchor: end" x="36.6133" y="612.3871" transform="rotate(-0 36.6133 612.3871)">1.0</text>
     </g>
    </g>
    <g id="text_74">
     <text style="font-size: 10px; font-family: 'DejaVu Sans', 'Bitstream Vera Sans', 'Computer Modern Sans Serif', 'Lucida Grande', 'Verdana', 'Geneva', 'Lucid', 'Arial', 'Helvetica', 'Avant Garde', sans-serif; text-anchor: middle" x="15.1578" y="726.0625" transform="rotate(-90 15.1578 726.0625)">Precision</text>
    </g>
   </g>
   <g id="line2d_137">
    <path d="M 43.6784 608.160239 
L 44.821395 723.839541 
L 45.96439 792.437552 
L 47.335984 829.594808 
L 52.822361 821.591706 
L 58.537336 813.016955 
L 66.538301 802.727253 
L 72.253277 795.867452 
L 79.111247 789.579301 
L 87.112213 784.20579 
L 92.827188 785.57775 
L 98.542163 785.0061 
L 103.114144 783.51981 
L 112.258104 779.86125 
L 119.116075 777.002999 
L 125.974045 774.716399 
L 135.118005 772.772788 
L 140.832981 772.429798 
L 146.547956 771.286498 
L 157.977907 770.486188 
L 169.407858 769.571548 
L 180.837808 768.999898 
L 186.552784 769.571548 
L 192.267759 770.143198 
L 197.982734 770.143198 
L 209.412685 770.714848 
L 220.842636 772.429798 
L 226.557611 773.573099 
L 233.75848 775.002224 
L 240.61645 775.288049 
L 245.188431 778.717949 
L 250.903406 781.00455 
L 256.618381 783.29115 
L 262.333357 784.43445 
L 268.048332 784.66311 
L 273.763307 786.721051 
L 279.478283 789.007651 
L 285.193258 790.722601 
L 290.908233 791.294251 
L 296.623209 792.437552 
L 302.338184 794.724152 
L 313.768135 799.297353 
L 325.198085 802.727253 
L 336.628036 805.013854 
L 348.057987 806.728804 
L 359.487938 808.443754 
L 370.917888 809.015404 
L 382.347839 809.587054 
L 393.77779 810.158704 
L 405.20774 811.302005 
L 416.637691 812.445305 
L 423.83856 813.016955 
" clip-path="url(#p7af9a70f86)" style="fill: none; stroke: #9467bd; stroke-width: 1.5; stroke-linecap: square"/>
   </g>
   <g id="line2d_138">
    <path d="M 43.6784 607.931624 
L 51.107868 608.160239 
L 52.822361 611.589468 
L 55.108351 615.018696 
L 58.537336 613.647005 
L 60.823326 618.447924 
L 63.680814 621.877152 
L 66.538301 625.877919 
L 68.252794 625.534996 
L 71.110282 627.363918 
L 73.396272 626.678072 
L 76.253759 626.449457 
L 77.968252 632.736375 
L 79.111247 642.452522 
L 80.025643 650.454055 
L 81.968735 656.740974 
L 83.683227 657.083896 
L 87.112213 667.600197 
L 89.398203 673.315577 
L 91.684193 681.31711 
L 93.398685 687.03249 
L 95.113178 696.177099 
L 96.827671 705.321708 
L 99.685158 707.036322 
L 104.828636 709.894012 
L 107.686124 713.323241 
L 112.258104 717.324007 
L 115.687089 721.324773 
L 118.544577 723.839541 
L 120.25907 723.839541 
L 122.54506 724.982841 
L 127.11704 726.697791 
L 131.68902 728.412741 
L 135.118005 730.699342 
L 139.689986 729.556042 
L 145.404961 732.414292 
L 151.119936 733.557592 
L 157.977907 733.900582 
L 164.835877 737.787803 
L 169.407858 738.130793 
L 175.122833 739.274093 
L 183.123798 741.560693 
L 185.409789 743.275644 
L 189.981769 744.418944 
L 193.410754 746.133894 
L 196.839739 745.905234 
L 200.268724 748.420495 
L 204.840705 751.850395 
L 208.26969 753.565345 
L 212.84167 755.851946 
L 220.842636 758.710196 
L 225.414616 759.853496 
L 227.700606 763.283397 
L 229.986596 765.227007 
L 233.75848 766.713297 
L 239.473455 767.856598 
L 245.188431 769.342888 
L 250.903406 770.486188 
L 256.618381 770.943508 
L 262.333357 772.772788 
L 268.048332 773.230109 
L 273.763307 773.916089 
L 279.478283 775.059389 
L 285.193258 776.660009 
L 290.908233 777.574649 
L 302.338184 779.86125 
L 311.482145 781.91919 
L 316.054125 783.51981 
L 322.912095 786.721051 
L 330.913061 789.007651 
L 336.628036 790.150951 
L 348.057987 792.437552 
L 359.487938 795.295802 
L 370.917888 797.010752 
L 382.347839 798.154052 
L 393.77779 798.954363 
L 405.20774 799.526013 
L 412.065711 800.211993 
L 421.209671 802.498593 
L 422.352666 810.730354 
L 423.83856 813.588605 
" clip-path="url(#p7af9a70f86)" style="fill: none; stroke: #2ca02c; stroke-width: 1.5; stroke-linecap: square"/>
   </g>
   <g id="line2d_139">
    <path d="M 43.6784 608.160239 
L 224.271621 608.160239 
L 228.843601 609.303315 
L 233.75848 616.161772 
L 233.75848 618.447924 
L 236.04447 621.877152 
L 238.33046 628.735609 
L 240.044953 637.880218 
L 241.759445 649.310979 
L 242.902441 656.169436 
L 244.045436 665.314044 
L 245.188431 674.458653 
L 246.331426 685.889414 
L 247.474421 697.320175 
L 248.617416 708.750936 
L 249.760411 717.895545 
L 250.331908 723.839541 
L 251.474904 732.985942 
L 253.760894 743.275644 
L 255.475386 751.278745 
L 257.189879 759.281846 
L 259.475869 766.713297 
L 262.333357 771.858148 
L 265.190844 776.431349 
L 268.048332 782.14785 
L 271.477317 786.149401 
L 276.049298 790.150951 
L 281.764273 793.009202 
L 287.479248 795.867452 
L 292.051228 797.925392 
L 302.338184 799.297353 
L 313.768135 801.012303 
L 325.198085 801.812613 
L 336.628036 802.498593 
L 348.057987 803.870553 
L 359.487938 805.928494 
L 370.917888 807.872104 
L 382.347839 809.358394 
L 393.77779 810.730354 
L 405.20774 811.873655 
L 416.637691 813.245615 
L 423.83856 814.160255 
" clip-path="url(#p7af9a70f86)" style="fill: none; stroke: #1f77b4; stroke-width: 1.5; stroke-linecap: square"/>
   </g>
   <g id="line2d_140">
    <path d="M 43.6784 608.160239 
L 228.843601 608.160239 
L 233.75848 611.589468 
L 235.472973 613.304082 
L 237.758963 615.018696 
L 240.61645 619.591 
L 242.902441 625.306381 
L 244.616933 631.021761 
L 245.759928 642.452522 
L 247.474421 651.597131 
L 248.617416 659.598664 
L 249.760411 672.172501 
L 250.903406 679.030958 
L 252.617899 685.889414 
L 254.332391 693.890947 
L 256.046884 699.606327 
L 257.761376 708.750936 
L 259.475869 717.895545 
L 260.275966 723.839541 
L 261.190362 730.699342 
L 262.904854 743.275644 
L 265.190844 747.848844 
L 267.476835 755.851946 
L 270.334322 763.855047 
L 273.19181 771.858148 
L 276.049298 776.431349 
L 279.478283 780.4329 
L 285.193258 784.43445 
L 290.908233 787.864351 
L 300.052194 792.437552 
L 308.053159 794.724152 
L 316.054125 797.010752 
L 325.198085 799.297353 
L 336.628036 801.012303 
L 348.057987 802.727253 
L 359.487938 805.013854 
L 370.917888 806.728804 
L 382.347839 808.443754 
L 393.77779 809.815714 
L 405.20774 811.302005 
L 416.637691 812.788295 
L 423.83856 814.731905 
" clip-path="url(#p7af9a70f86)" style="fill: none; stroke: #ff7f0e; stroke-width: 1.5; stroke-linecap: square"/>
   </g>
   <g id="patch_43">
    <path d="M 43.6800 839.5200 L 43.6800 607.6800" style="fill: none; stroke: #000000; stroke-width: 0.8; stroke-linejoin: miter; stroke-linecap: square"/>
   </g>
   <g id="patch_44">
    <path d="M 423.8400 839.5200 L 423.8400 607.6800" style="fill: none; stroke: #000000; stroke-width: 0.8; stroke-linejoin: miter; stroke-linecap: square"/>
   </g>
   <g id="patch_45">
    <path d="M 43.6800 839.5200 L 423.8400 839.5200" style="fill: none; stroke: #000000; stroke-width: 0.8; stroke-linejoin: miter; stroke-linecap: square"/>
   </g>
   <g id="patch_46">
    <path d="M 43.6800 607.6800 L 423.8400 607.6800" style="fill: none; stroke: #000000; stroke-width: 0.8; stroke-linejoin: miter; stroke-linecap: square"/>
   </g>
   <g id="text_75">
    <text style="font-size: 12px; font-family: 'DejaVu Sans', 'Bitstream Vera Sans', 'Computer Modern Sans Serif', 'Lucida Grande', 'Verdana', 'Geneva', 'Lucid', 'Arial', 'Helvetica', 'Avant Garde', sans-serif; text-anchor: middle" x="233.8075" y="602.0115" transform="rotate(-0 233.8075 602.0115)">Latent Dim. = 512</text>
   </g>
  </g>
  <g id="axes_6">
   <g id="patch_47">
    <path d="M 477.07976 839.85964 
L 857.24952 839.85964 
L 857.24952 608.04024 
L 477.07976 608.04024 
z
" style="fill: #ffffff"/>
   </g>
   <g id="patch_48">
    <path d="M 477.11816 608.160239 
L 479.40415 781.00455 
L 480.775744 823.306657 
L 488.548111 814.160255 
L 497.692071 801.583953 
L 505.693037 791.294251 
L 517.122987 779.86125 
L 525.123953 779.289599 
L 531.981923 778.717949 
L 541.125884 778.146299 
L 551.41284 774.144749 
L 562.84279 770.143198 
L 574.272741 767.856598 
L 585.702692 766.141647 
L 597.132642 764.426697 
L 614.277568 763.283397 
L 625.707519 764.426697 
L 642.852445 764.998347 
L 654.282396 768.999898 
L 667.19824 771.286498 
L 678.628191 774.144749 
L 690.058141 776.431349 
L 701.488092 778.717949 
L 712.918043 779.86125 
L 724.347993 783.29115 
L 735.777944 789.007651 
L 747.207895 793.580852 
L 758.637846 799.297353 
L 770.067796 802.727253 
L 781.497747 805.013854 
L 804.357648 807.300454 
L 827.21755 809.587054 
L 857.27832 811.873655 
L 857.27832 814.160255 
L 827.21755 811.644995 
L 804.357648 810.501694 
L 781.497747 809.015404 
L 770.067796 807.300454 
L 758.637846 805.013854 
L 747.207895 801.583953 
L 735.777944 797.010752 
L 724.347993 792.437552 
L 712.918043 790.150951 
L 701.488092 786.721051 
L 690.058141 783.29115 
L 678.628191 780.4329 
L 667.19824 776.717174 
L 654.282396 774.716399 
L 642.852445 771.858148 
L 625.707519 771.858148 
L 614.277568 770.943508 
L 602.847618 771.858148 
L 591.417667 773.001448 
L 579.987716 774.144749 
L 568.557766 775.288049 
L 557.127815 777.574649 
L 545.697864 782.14785 
L 534.267913 787.864351 
L 525.123953 790.722601 
L 517.122987 790.150951 
L 505.693037 798.154052 
L 497.692071 810.730354 
L 488.548111 822.163356 
L 479.975648 838.169559 
z
" clip-path="url(#pe53091ce00)" style="fill: #9467bd; fill-opacity: 0.15; stroke: #9467bd; stroke-opacity: 0.15; stroke-linejoin: miter"/>
   </g>
   <g id="patch_49">
    <path d="M 477.11816 607.017163 
L 497.692071 607.017163 
L 499.978061 610.446391 
L 504.550042 611.589468 
L 507.407529 616.161772 
L 511.408012 617.304848 
L 513.694002 616.73331 
L 515.979992 620.734076 
L 517.694485 625.077766 
L 523.980958 625.534996 
L 526.266948 625.306381 
L 527.981441 628.735609 
L 530.838928 639.023294 
L 534.267913 641.880984 
L 537.696899 647.024827 
L 540.554386 653.311745 
L 545.697864 654.797744 
L 552.555835 655.026359 
L 557.127815 657.312512 
L 562.84279 660.170202 
L 571.986751 661.313278 
L 576.558731 663.59943 
L 584.559697 665.885582 
L 597.132642 666.228505 
L 600.561627 667.600197 
L 608.562593 668.743273 
L 613.134573 673.086962 
L 625.707519 673.887115 
L 637.13747 676.744805 
L 642.852445 676.744805 
L 648.56742 680.745572 
L 653.139401 687.03249 
L 659.997371 689.89018 
L 664.569351 692.747871 
L 667.19824 696.748637 
L 669.48423 699.606327 
L 671.77022 701.320941 
L 674.05621 706.464784 
L 676.342201 713.323241 
L 678.628191 723.839541 
L 680.914181 726.126141 
L 687.772151 742.132344 
L 693.487127 748.992145 
L 699.202102 754.708646 
L 704.917077 761.568447 
L 712.918043 763.855047 
L 724.347993 765.569997 
L 735.777944 767.856598 
L 747.207895 770.714848 
L 752.92287 774.144749 
L 758.637846 777.002999 
L 770.067796 780.4329 
L 781.497747 783.8628 
L 792.927698 789.007651 
L 804.357648 791.294251 
L 815.787599 793.009202 
L 827.21755 795.295802 
L 838.6475 796.439102 
L 850.077451 797.925392 
L 854.649431 799.869003 
L 857.27832 808.443754 
L 857.27832 814.160255 
L 854.649431 806.157154 
L 838.6475 805.928494 
L 827.21755 805.242514 
L 815.787599 804.442203 
L 804.357648 803.870553 
L 792.927698 801.583953 
L 781.497747 798.154052 
L 770.067796 794.152502 
L 758.637846 790.150951 
L 747.207895 787.292701 
L 735.777944 785.0061 
L 724.347993 782.14785 
L 718.633018 779.86125 
L 712.918043 778.146299 
L 707.203067 775.859699 
L 701.488092 774.144749 
L 696.916112 774.144749 
L 690.058141 775.859699 
L 685.486161 777.574649 
L 680.914181 779.86125 
L 676.342201 784.43445 
L 671.77022 787.864351 
L 667.19824 788.436001 
L 664.569351 789.007651 
L 659.997371 787.864351 
L 655.425391 785.57775 
L 648.56742 786.149401 
L 643.99544 785.57775 
L 637.13747 785.0061 
L 630.279499 783.8628 
L 623.421529 784.43445 
L 614.277568 779.86125 
L 607.419598 776.431349 
L 602.847618 770.714848 
L 597.132642 768.999898 
L 589.131677 766.141647 
L 582.273706 764.998347 
L 577.701726 763.855047 
L 571.986751 760.425146 
L 566.271775 757.909886 
L 561.699795 758.710196 
L 555.98482 754.708646 
L 552.555835 748.763485 
L 549.126849 750.135445 
L 543.411874 747.848844 
L 539.982889 745.562244 
L 536.553904 735.272542 
L 533.124918 727.269441 
L 530.838928 723.839541 
L 528.552938 713.323241 
L 526.266948 708.750936 
L 524.552455 703.035556 
L 523.40946 686.460952 
L 519.980475 684.1748 
L 517.122987 680.174034 
L 515.979992 667.600197 
L 513.694002 660.74174 
L 512.551007 648.167903 
L 511.408012 634.679605 
L 505.693037 637.880218 
L 502.264052 632.164837 
L 498.263569 635.022528 
L 495.406081 617.304848 
L 493.120091 616.161772 
L 488.548111 619.019462 
L 486.262121 608.388854 
L 477.11816 608.160239 
z
" clip-path="url(#pe53091ce00)" style="fill: #2ca02c; fill-opacity: 0.15; stroke: #2ca02c; stroke-opacity: 0.15; stroke-linejoin: miter"/>
   </g>
   <g id="patch_50">
    <path d="M 477.11816 607.017163 
L 667.19824 607.017163 
L 668.912733 607.017163 
L 668.912733 608.160239 
L 670.627225 612.732544 
L 671.77022 619.591 
L 673.484713 628.735609 
L 676.342201 633.307913 
L 678.056693 636.737142 
L 680.914181 645.881751 
L 683.200171 653.883283 
L 685.486161 663.027892 
L 687.772151 672.172501 
L 688.915146 682.460186 
L 690.058141 693.890947 
L 691.201136 705.321708 
L 691.772634 716.752469 
L 692.115533 723.839541 
L 694.630122 729.556042 
L 698.059107 737.559143 
L 701.488092 744.418944 
L 703.774082 746.705544 
L 706.060072 752.422045 
L 709.489058 755.851946 
L 714.061038 760.425146 
L 718.633018 769.571548 
L 723.204998 779.86125 
L 727.776979 785.57775 
L 735.777944 790.150951 
L 747.207895 795.867452 
L 758.637846 799.297353 
L 770.067796 800.440653 
L 781.497747 801.583953 
L 792.927698 802.727253 
L 804.357648 805.013854 
L 827.21755 808.443754 
L 857.27832 812.445305 
L 857.27832 814.160255 
L 827.21755 813.016955 
L 804.357648 811.873655 
L 781.497747 809.015404 
L 764.352821 807.300454 
L 752.92287 806.157154 
L 741.49292 806.728804 
L 730.062969 807.300454 
L 722.062003 809.587054 
L 715.204033 813.016955 
L 708.346063 815.303555 
L 701.488092 813.588605 
L 698.059107 811.873655 
L 693.487127 803.870553 
L 688.915146 800.440653 
L 684.914664 792.437552 
L 682.057176 778.717949 
L 679.771186 767.284948 
L 677.485196 746.705544 
L 675.199205 723.839541 
L 674.05621 711.037088 
L 672.913215 699.606327 
L 671.77022 688.175566 
L 670.627225 676.744805 
L 669.48423 665.314044 
L 667.19824 658.455588 
L 667.19824 656.169436 
L 664.569351 642.452522 
L 661.140366 635.594066 
L 657.711381 627.592533 
L 654.282396 621.877152 
L 648.56742 620.162538 
L 643.99544 615.018696 
L 637.13747 612.161006 
L 629.136504 611.01793 
L 621.135539 608.160239 
L 477.11816 608.160239 
z
" clip-path="url(#pe53091ce00)" style="fill: #1f77b4; fill-opacity: 0.15; stroke: #1f77b4; stroke-opacity: 0.15; stroke-linejoin: miter"/>
   </g>
   <g id="patch_51">
    <path d="M 477.11816 607.017163 
L 667.19824 607.017163 
L 671.77022 607.017163 
L 671.77022 608.160239 
L 675.199205 613.87562 
L 679.199688 621.877152 
L 681.485678 629.878685 
L 683.200171 640.16637 
L 684.914664 649.310979 
L 686.629156 658.455588 
L 687.772151 664.170968 
L 688.343649 676.744805 
L 689.486644 688.175566 
L 690.629639 699.606327 
L 691.772634 711.037088 
L 693.487127 723.839541 
L 694.630122 735.272542 
L 696.916112 746.705544 
L 699.202102 758.138546 
L 702.631087 769.571548 
L 706.060072 775.288049 
L 710.632053 778.717949 
L 716.347028 781.5762 
L 724.347993 785.57775 
L 731.205964 787.864351 
L 741.49292 791.294251 
L 752.92287 798.154052 
L 764.352821 802.727253 
L 781.497747 805.013854 
L 804.357648 807.300454 
L 827.21755 809.587054 
L 857.27832 813.588605 
L 857.27832 815.303555 
L 827.21755 812.445305 
L 804.357648 810.730354 
L 781.497747 808.443754 
L 764.352821 807.300454 
L 747.207895 806.728804 
L 735.777944 806.157154 
L 724.347993 804.442203 
L 712.918043 801.583953 
L 707.203067 798.154052 
L 701.488092 793.580852 
L 699.202102 786.721051 
L 694.630122 775.288049 
L 691.201136 766.141647 
L 688.915146 752.422045 
L 687.200654 735.272542 
L 686.057659 723.839541 
L 684.343166 711.037088 
L 682.628673 699.606327 
L 680.914181 688.175566 
L 678.628191 676.744805 
L 677.485196 665.314044 
L 676.342201 657.312512 
L 675.199205 649.310979 
L 673.484713 642.452522 
L 671.77022 636.737142 
L 669.48423 625.306381 
L 667.19824 614.447158 
L 662.283361 608.160239 
L 477.11816 608.160239 
z
" clip-path="url(#pe53091ce00)" style="fill: #ff7f0e; fill-opacity: 0.15; stroke: #ff7f0e; stroke-opacity: 0.15; stroke-linejoin: miter"/>
   </g>
   <g id="matplotlib.axis_11">
    <g id="xtick_31">
     <g id="line2d_141">
      <path d="M 477.1200 839.5200 L 477.1200 607.6800" clip-path="url(#pe53091ce00)" style="fill: none; stroke: #b0b0b0; stroke-opacity: 0.3; stroke-width: 0.8; stroke-linecap: square"/>
     </g>
     <g id="line2d_142">
      <g>
       <path d="M 477.1200 839.5200 L 477.1200 842.8800" style="stroke: #000000; stroke-width: 0.8"/>
      </g>
     </g>
     <g id="text_76">
      <text style="font-size: 10px; font-family: 'DejaVu Sans', 'Bitstream Vera Sans', 'Computer Modern Sans Serif', 'Lucida Grande', 'Verdana', 'Geneva', 'Lucid', 'Arial', 'Helvetica', 'Avant Garde', sans-serif; text-anchor: middle" x="477.2217" y="854.6251" transform="rotate(-0 477.2217 854.6251)">0.0</text>
     </g>
    </g>
    <g id="xtick_32">
     <g id="line2d_143">
      <path d="M 552.9600 839.5200 L 552.9600 607.6800" clip-path="url(#pe53091ce00)" style="fill: none; stroke: #b0b0b0; stroke-opacity: 0.3; stroke-width: 0.8; stroke-linecap: square"/>
     </g>
     <g id="line2d_144">
      <g>
       <path d="M 552.9600 839.5200 L 552.9600 842.8800" style="stroke: #000000; stroke-width: 0.8"/>
      </g>
     </g>
     <g id="text_77">
      <text style="font-size: 10px; font-family: 'DejaVu Sans', 'Bitstream Vera Sans', 'Computer Modern Sans Serif', 'Lucida Grande', 'Verdana', 'Geneva', 'Lucid', 'Arial', 'Helvetica', 'Avant Garde', sans-serif; text-anchor: middle" x="553.1565" y="854.5983" transform="rotate(-0 553.1565 854.5983)">0.2</text>
     </g>
    </g>
    <g id="xtick_33">
     <g id="line2d_145">
      <path d="M 629.2800 839.5200 L 629.2800 607.6800" clip-path="url(#pe53091ce00)" style="fill: none; stroke: #b0b0b0; stroke-opacity: 0.3; stroke-width: 0.8; stroke-linecap: square"/>
     </g>
     <g id="line2d_146">
      <g>
       <path d="M 629.2800 839.5200 L 629.2800 842.8800" style="stroke: #000000; stroke-width: 0.8"/>
      </g>
     </g>
     <g id="text_78">
      <text style="font-size: 10px; font-family: 'DejaVu Sans', 'Bitstream Vera Sans', 'Computer Modern Sans Serif', 'Lucida Grande', 'Verdana', 'Geneva', 'Lucid', 'Arial', 'Helvetica', 'Avant Garde', sans-serif; text-anchor: middle" x="629.4753" y="854.5834" transform="rotate(-0 629.4753 854.5834)">0.4</text>
     </g>
    </g>
    <g id="xtick_34">
     <g id="line2d_147">
      <path d="M 705.1200 839.5200 L 705.1200 607.6800" clip-path="url(#pe53091ce00)" style="fill: none; stroke: #b0b0b0; stroke-opacity: 0.3; stroke-width: 0.8; stroke-linecap: square"/>
     </g>
     <g id="line2d_148">
      <g>
       <path d="M 705.1200 839.5200 L 705.1200 842.8800" style="stroke: #000000; stroke-width: 0.8"/>
      </g>
     </g>
     <g id="text_79">
      <text style="font-size: 10px; font-family: 'DejaVu Sans', 'Bitstream Vera Sans', 'Computer Modern Sans Serif', 'Lucida Grande', 'Verdana', 'Geneva', 'Lucid', 'Arial', 'Helvetica', 'Avant Garde', sans-serif; text-anchor: middle" x="705.3714" y="854.6758" transform="rotate(-0 705.3714 854.6758)">0.6</text>
     </g>
    </g>
    <g id="xtick_35">
     <g id="line2d_149">
      <path d="M 781.4400 839.5200 L 781.4400 607.6800" clip-path="url(#pe53091ce00)" style="fill: none; stroke: #b0b0b0; stroke-opacity: 0.3; stroke-width: 0.8; stroke-linecap: square"/>
     </g>
     <g id="line2d_150">
      <g>
       <path d="M 781.4400 839.5200 L 781.4400 842.8800" style="stroke: #000000; stroke-width: 0.8"/>
      </g>
     </g>
     <g id="text_80">
      <text style="font-size: 10px; font-family: 'DejaVu Sans', 'Bitstream Vera Sans', 'Computer Modern Sans Serif', 'Lucida Grande', 'Verdana', 'Geneva', 'Lucid', 'Arial', 'Helvetica', 'Avant Garde', sans-serif; text-anchor: middle" x="781.1639" y="854.6440" transform="rotate(-0 781.1639 854.6440)">0.8</text>
     </g>
    </g>
    <g id="xtick_36">
     <g id="line2d_151">
      <path d="M 857.2800 839.5200 L 857.2800 607.6800" clip-path="url(#pe53091ce00)" style="fill: none; stroke: #b0b0b0; stroke-opacity: 0.3; stroke-width: 0.8; stroke-linecap: square"/>
     </g>
     <g id="line2d_152">
      <g>
       <path d="M 857.2800 839.5200 L 857.2800 842.8800" style="stroke: #000000; stroke-width: 0.8"/>
      </g>
     </g>
     <g id="text_81">
      <text style="font-size: 10px; font-family: 'DejaVu Sans', 'Bitstream Vera Sans', 'Computer Modern Sans Serif', 'Lucida Grande', 'Verdana', 'Geneva', 'Lucid', 'Arial', 'Helvetica', 'Avant Garde', sans-serif; text-anchor: middle" x="857.3537" y="854.5908" transform="rotate(-0 857.3537 854.5908)">1.0</text>
     </g>
    </g>
    <g id="text_82">
     <text style="font-size: 10px; font-family: 'DejaVu Sans', 'Bitstream Vera Sans', 'Computer Modern Sans Serif', 'Lucida Grande', 'Verdana', 'Geneva', 'Lucid', 'Arial', 'Helvetica', 'Avant Garde', sans-serif; text-anchor: middle" x="667.0314" y="868.6455" transform="rotate(-0 667.0314 868.6455)">Recall</text>
    </g>
   </g>
   <g id="matplotlib.axis_12">
    <g id="ytick_31">
     <g id="line2d_153">
      <path d="M 477.1200 839.5200 L 857.2800 839.5200" clip-path="url(#pe53091ce00)" style="fill: none; stroke: #b0b0b0; stroke-opacity: 0.3; stroke-width: 0.8; stroke-linecap: square"/>
     </g>
     <g id="line2d_154">
      <g>
       <path d="M 477.1200 839.5200 L 473.7600 839.5200" style="stroke: #000000; stroke-width: 0.8"/>
      </g>
     </g>
     <g id="text_83">
      <text style="font-size: 10px; font-family: 'DejaVu Sans', 'Bitstream Vera Sans', 'Computer Modern Sans Serif', 'Lucida Grande', 'Verdana', 'Geneva', 'Lucid', 'Arial', 'Helvetica', 'Avant Garde', sans-serif; text-anchor: end" x="470.2889" y="844.1615" transform="rotate(-0 470.2889 844.1615)">0.0</text>
     </g>
    </g>
    <g id="ytick_32">
     <g id="line2d_155">
      <path d="M 477.1200 793.4400 L 857.2800 793.4400" clip-path="url(#pe53091ce00)" style="fill: none; stroke: #b0b0b0; stroke-opacity: 0.3; stroke-width: 0.8; stroke-linecap: square"/>
     </g>
     <g id="line2d_156">
      <g>
       <path d="M 477.1200 793.4400 L 473.7600 793.4400" style="stroke: #000000; stroke-width: 0.8"/>
      </g>
     </g>
     <g id="text_84">
      <text style="font-size: 10px; font-family: 'DejaVu Sans', 'Bitstream Vera Sans', 'Computer Modern Sans Serif', 'Lucida Grande', 'Verdana', 'Geneva', 'Lucid', 'Arial', 'Helvetica', 'Avant Garde', sans-serif; text-anchor: end" x="470.3558" y="797.3931" transform="rotate(-0 470.3558 797.3931)">0.2</text>
     </g>
    </g>
    <g id="ytick_33">
     <g id="line2d_157">
      <path d="M 477.1200 746.8800 L 857.2800 746.8800" clip-path="url(#pe53091ce00)" style="fill: none; stroke: #b0b0b0; stroke-opacity: 0.3; stroke-width: 0.8; stroke-linecap: square"/>
     </g>
     <g id="line2d_158">
      <g>
       <path d="M 477.1200 746.8800 L 473.7600 746.8800" style="stroke: #000000; stroke-width: 0.8"/>
      </g>
     </g>
     <g id="text_85">
      <text style="font-size: 10px; font-family: 'DejaVu Sans', 'Bitstream Vera Sans', 'Computer Modern Sans Serif', 'Lucida Grande', 'Verdana', 'Geneva', 'Lucid', 'Arial', 'Helvetica', 'Avant Garde', sans-serif; text-anchor: end" x="470.3394" y="751.4966" transform="rotate(-0 470.3394 751.4966)">0.4</text>
     </g>
    </g>
    <g id="ytick_34">
     <g id="line2d_159">
      <path d="M 477.1200 700.3200 L 857.2800 700.3200" clip-path="url(#pe53091ce00)" style="fill: none; stroke: #b0b0b0; stroke-opacity: 0.3; stroke-width: 0.8; stroke-linecap: square"/>
     </g>
     <g id="line2d_160">
      <g>
       <path d="M 477.1200 700.3200 L 473.7600 700.3200" style="stroke: #000000; stroke-width: 0.8"/>
      </g>
     </g>
     <g id="text_86">
      <text style="font-size: 10px; font-family: 'DejaVu Sans', 'Bitstream Vera Sans', 'Computer Modern Sans Serif', 'Lucida Grande', 'Verdana', 'Geneva', 'Lucid', 'Arial', 'Helvetica', 'Avant Garde', sans-serif; text-anchor: end" x="469.9187" y="704.7239" transform="rotate(-0 469.9187 704.7239)">0.6</text>
     </g>
    </g>
    <g id="ytick_35">
     <g id="line2d_161">
      <path d="M 477.1200 654.2400 L 857.2800 654.2400" clip-path="url(#pe53091ce00)" style="fill: none; stroke: #b0b0b0; stroke-opacity: 0.3; stroke-width: 0.8; stroke-linecap: square"/>
     </g>
     <g id="line2d_162">
      <g>
       <path d="M 477.1200 654.2400 L 473.7600 654.2400" style="stroke: #000000; stroke-width: 0.8"/>
      </g>
     </g>
     <g id="text_87">
      <text style="font-size: 10px; font-family: 'DejaVu Sans', 'Bitstream Vera Sans', 'Computer Modern Sans Serif', 'Lucida Grande', 'Verdana', 'Geneva', 'Lucid', 'Arial', 'Helvetica', 'Avant Garde', sans-serif; text-anchor: end" x="470.2836" y="658.3705" transform="rotate(-0 470.2836 658.3705)">0.8</text>
     </g>
    </g>
    <g id="ytick_36">
     <g id="line2d_163">
      <path d="M 477.1200 607.6800 L 857.2800 607.6800" clip-path="url(#pe53091ce00)" style="fill: none; stroke: #b0b0b0; stroke-opacity: 0.3; stroke-width: 0.8; stroke-linecap: square"/>
     </g>
     <g id="line2d_164">
      <g>
       <path d="M 477.1200 607.6800 L 473.7600 607.6800" style="stroke: #000000; stroke-width: 0.8"/>
      </g>
     </g>
     <g id="text_88">
      <text style="font-size: 10px; font-family: 'DejaVu Sans', 'Bitstream Vera Sans', 'Computer Modern Sans Serif', 'Lucida Grande', 'Verdana', 'Geneva', 'Lucid', 'Arial', 'Helvetica', 'Avant Garde', sans-serif; text-anchor: end" x="470.1840" y="611.9314" transform="rotate(-0 470.1840 611.9314)">1.0</text>
     </g>
    </g>
    <g id="text_89">
     <text style="font-size: 10px; font-family: 'DejaVu Sans', 'Bitstream Vera Sans', 'Computer Modern Sans Serif', 'Lucida Grande', 'Verdana', 'Geneva', 'Lucid', 'Arial', 'Helvetica', 'Avant Garde', sans-serif; text-anchor: middle" x="448.9583" y="726.0547" transform="rotate(-90 448.9583 726.0547)">Precision</text>
    </g>
   </g>
   <g id="line2d_165">
    <path d="M 477.11816 608.160239 
L 478.261155 723.839541 
L 479.40415 792.437552 
L 480.775744 828.451507 
L 485.119126 823.306657 
L 491.977096 813.016955 
L 497.692071 805.013854 
L 504.550042 795.295802 
L 511.408012 789.579301 
L 517.122987 784.43445 
L 525.123953 784.66311 
L 531.981923 783.8628 
L 538.839894 781.5762 
L 544.554869 779.86125 
L 550.269844 777.002999 
L 560.5568 773.230109 
L 568.557766 771.629488 
L 574.272741 771.629488 
L 579.987716 770.486188 
L 589.131677 769.571548 
L 597.132642 768.656908 
L 608.562593 768.199588 
L 614.277568 767.513608 
L 623.421529 767.284948 
L 627.993509 768.428248 
L 639.42346 768.428248 
L 646.28143 769.342888 
L 655.425391 772.429798 
L 659.997371 773.001448 
L 667.19824 774.259079 
L 672.913215 775.859699 
L 678.628191 777.574649 
L 684.343166 778.717949 
L 690.058141 781.00455 
L 695.773117 782.37651 
L 701.488092 783.29115 
L 707.203067 784.43445 
L 712.918043 785.57775 
L 718.633018 787.292701 
L 724.347993 789.007651 
L 735.777944 793.580852 
L 747.207895 798.154052 
L 758.637846 802.727253 
L 770.067796 805.585504 
L 781.497747 807.300454 
L 792.927698 809.015404 
L 804.357648 809.587054 
L 815.787599 810.158704 
L 827.21755 810.730354 
L 838.6475 811.873655 
L 850.077451 812.445305 
L 857.27832 813.016955 
" clip-path="url(#pe53091ce00)" style="fill: none; stroke: #9467bd; stroke-width: 1.5; stroke-linecap: square"/>
   </g>
   <g id="line2d_166">
    <path d="M 477.11816 607.931624 
L 486.833618 608.160239 
L 488.548111 611.360852 
L 494.263086 610.217776 
L 495.977579 615.018696 
L 498.263569 621.305614 
L 499.978061 622.448691 
L 503.407047 621.648537 
L 505.693037 624.163305 
L 507.979027 626.678072 
L 511.408012 625.877919 
L 512.551007 631.021761 
L 513.694002 637.880218 
L 515.408495 641.880984 
L 517.122987 652.168669 
L 519.408978 654.454821 
L 522.837963 656.169436 
L 524.552455 664.170968 
L 527.409943 671.029425 
L 529.124436 675.601729 
L 530.610329 680.745572 
L 532.553421 682.460186 
L 535.410909 688.175566 
L 538.268396 692.747871 
L 539.982889 699.606327 
L 543.411874 700.749403 
L 547.983854 702.80694 
L 551.984337 701.663864 
L 554.270327 704.178632 
L 557.127815 706.464784 
L 561.699795 708.979551 
L 566.271775 708.750936 
L 571.986751 710.46555 
L 576.558731 713.551856 
L 579.987716 714.237701 
L 584.559697 715.609393 
L 591.417667 716.180931 
L 595.989647 717.324007 
L 600.561627 719.610159 
L 604.56211 720.181697 
L 607.419598 723.153695 
L 610.277086 723.839541 
L 611.991578 725.554491 
L 617.706554 727.841091 
L 623.421529 728.755731 
L 631.422494 729.213052 
L 637.13747 730.127692 
L 642.852445 730.699342 
L 646.28143 732.757282 
L 650.853411 735.272542 
L 655.425391 736.415843 
L 659.997371 738.702443 
L 664.569351 740.989043 
L 667.19824 742.703994 
L 671.77022 744.418944 
L 676.342201 748.420495 
L 679.771186 752.422045 
L 683.200171 753.565345 
L 687.200654 757.566896 
L 691.201136 759.281846 
L 696.916112 761.568447 
L 701.488092 764.998347 
L 706.060072 768.428248 
L 712.918043 770.143198 
L 718.633018 771.858148 
L 724.347993 773.230109 
L 730.062969 774.144749 
L 735.777944 775.859699 
L 741.49292 777.002999 
L 747.207895 778.717949 
L 752.92287 781.5762 
L 758.637846 783.29115 
L 764.352821 786.149401 
L 770.067796 788.436001 
L 781.497747 791.865901 
L 787.212722 793.580852 
L 792.927698 796.439102 
L 804.357648 798.154052 
L 815.787599 799.526013 
L 827.21755 800.440653 
L 838.6475 801.355293 
L 850.077451 802.498593 
L 854.649431 803.298903 
L 855.792426 810.730354 
L 857.27832 813.588605 
" clip-path="url(#pe53091ce00)" style="fill: none; stroke: #2ca02c; stroke-width: 1.5; stroke-linecap: square"/>
   </g>
   <g id="line2d_167">
    <path d="M 477.11816 608.160239 
L 619.992544 608.160239 
L 625.707519 608.731777 
L 637.13747 609.303315 
L 642.852445 609.531931 
L 647.424425 611.589468 
L 654.282396 612.503928 
L 659.997371 617.304848 
L 663.997854 620.734076 
L 665.712346 627.592533 
L 667.19824 631.593299 
L 669.48423 640.16637 
L 670.627225 648.167903 
L 671.77022 656.169436 
L 673.484713 667.600197 
L 675.199205 676.744805 
L 676.913698 685.889414 
L 678.628191 693.890947 
L 680.342683 703.035556 
L 682.057176 713.323241 
L 684.028842 723.496618 
L 685.486161 730.699342 
L 687.772151 735.272542 
L 689.486644 744.418944 
L 691.201136 754.708646 
L 692.915629 763.855047 
L 695.201619 769.571548 
L 697.487609 775.288049 
L 700.345097 779.86125 
L 704.917077 783.29115 
L 710.632053 786.149401 
L 715.204033 789.007651 
L 720.919008 793.580852 
L 727.776979 797.010752 
L 735.777944 799.297353 
L 747.207895 801.583953 
L 758.637846 803.298903 
L 770.067796 804.442203 
L 781.497747 805.242514 
L 792.927698 806.728804 
L 804.357648 808.443754 
L 815.787599 809.815714 
L 827.21755 811.302005 
L 838.6475 812.445305 
L 850.077451 813.588605 
L 857.27832 814.160255 
" clip-path="url(#pe53091ce00)" style="fill: none; stroke: #1f77b4; stroke-width: 1.5; stroke-linecap: square"/>
   </g>
   <g id="line2d_168">
    <path d="M 477.11816 608.160239 
L 663.426356 608.160239 
L 667.19824 612.732544 
L 669.48423 617.304848 
L 671.77022 623.020229 
L 673.484713 631.021761 
L 675.199205 637.880218 
L 677.485196 645.881751 
L 679.199688 653.883283 
L 680.342683 660.74174 
L 681.485678 668.743273 
L 682.057176 676.744805 
L 683.200171 685.889414 
L 684.914664 699.606327 
L 686.629156 708.750936 
L 688.343649 717.895545 
L 689.143745 723.839541 
L 690.058141 732.985942 
L 691.201136 742.132344 
L 692.344132 755.851946 
L 694.058624 764.998347 
L 696.344614 769.571548 
L 698.630604 775.288049 
L 700.345097 781.00455 
L 703.774082 785.57775 
L 708.346063 790.150951 
L 712.918043 793.580852 
L 720.919008 798.725703 
L 730.062969 800.440653 
L 738.063934 802.727253 
L 747.207895 804.099213 
L 758.637846 805.013854 
L 770.067796 805.585504 
L 781.497747 806.385814 
L 792.927698 807.300454 
L 804.357648 808.443754 
L 815.787599 809.587054 
L 827.21755 810.730354 
L 838.6475 811.873655 
L 850.077451 813.588605 
L 857.27832 814.731905 
" clip-path="url(#pe53091ce00)" style="fill: none; stroke: #ff7f0e; stroke-width: 1.5; stroke-linecap: square"/>
   </g>
   <g id="patch_52">
    <path d="M 477.1200 839.5200 L 477.1200 607.6800" style="fill: none; stroke: #000000; stroke-width: 0.8; stroke-linejoin: miter; stroke-linecap: square"/>
   </g>
   <g id="patch_53">
    <path d="M 857.2800 839.5200 L 857.2800 607.6800" style="fill: none; stroke: #000000; stroke-width: 0.8; stroke-linejoin: miter; stroke-linecap: square"/>
   </g>
   <g id="patch_54">
    <path d="M 477.1200 839.5200 L 857.2800 839.5200" style="fill: none; stroke: #000000; stroke-width: 0.8; stroke-linejoin: miter; stroke-linecap: square"/>
   </g>
   <g id="patch_55">
    <path d="M 477.1200 607.6800 L 857.2800 607.6800" style="fill: none; stroke: #000000; stroke-width: 0.8; stroke-linejoin: miter; stroke-linecap: square"/>
   </g>
   <g id="text_90">
    <text style="font-size: 12px; font-family: 'DejaVu Sans', 'Bitstream Vera Sans', 'Computer Modern Sans Serif', 'Lucida Grande', 'Verdana', 'Geneva', 'Lucid', 'Arial', 'Helvetica', 'Avant Garde', sans-serif; text-anchor: middle" x="666.9781" y="602.0425" transform="rotate(-0 666.9781 602.0425)">Latent Dim. = 768</text>
   </g>
  </g>
  <g id="axes_7">
   <g id="patch_56">
    <path d="M 43.76 1122.99952 
L 423.92976 1122.99952 
L 423.92976 891.18012 
L 43.76 891.18012 
z
" style="fill: #ffffff"/>
   </g>
   <g id="patch_57">
    <path d="M 43.6784 891.357719 
L 45.392893 1107.647436 
L 51.679365 1103.074236 
L 58.537336 1093.356184 
L 66.538301 1081.923182 
L 75.682262 1073.348431 
L 87.112213 1065.91698 
L 92.827188 1064.202029 
L 98.542163 1065.34533 
L 105.400134 1061.915429 
L 113.401099 1058.485529 
L 121.402065 1056.198928 
L 129.40303 1054.483978 
L 140.832981 1054.483978 
L 157.977907 1053.912328 
L 167.121867 1052.197378 
L 180.837808 1052.540368 
L 197.982734 1052.540368 
L 209.412685 1053.340678 
L 220.842636 1053.912328 
L 233.75848 1055.627278 
L 245.188431 1058.485529 
L 256.618381 1061.915429 
L 268.048332 1064.77368 
L 279.478283 1066.48863 
L 290.908233 1069.91853 
L 302.338184 1074.491731 
L 313.768135 1080.208232 
L 325.198085 1084.209783 
L 336.628036 1087.068033 
L 348.057987 1089.354633 
L 370.917888 1090.497934 
L 393.77779 1092.212884 
L 423.83856 1095.071134 
L 423.83856 1097.357735 
L 393.77779 1093.927834 
L 370.917888 1092.784534 
L 348.057987 1091.412574 
L 336.628036 1089.926284 
L 325.198085 1087.639683 
L 313.768135 1084.781433 
L 302.338184 1080.208232 
L 290.908233 1074.491731 
L 279.478283 1070.49018 
L 268.048332 1067.63193 
L 256.618381 1064.77368 
L 245.188431 1061.915429 
L 233.75848 1059.343004 
L 220.842636 1057.342228 
L 209.412685 1056.770578 
L 197.982734 1055.627278 
L 180.837808 1055.284288 
L 167.121867 1055.055628 
L 157.977907 1057.113568 
L 140.832981 1058.485529 
L 129.40303 1058.485529 
L 121.402065 1060.200479 
L 113.401099 1063.058729 
L 105.400134 1066.48863 
L 98.542163 1071.061831 
L 92.827188 1073.348431 
L 87.112213 1071.061831 
L 75.682262 1078.493282 
L 66.538301 1085.924733 
L 58.537336 1098.501035 
L 51.679365 1108.790737 
L 45.392893 1120.223738 
z
" clip-path="url(#p29e6fc3dcf)" style="fill: #9467bd; fill-opacity: 0.15; stroke: #9467bd; stroke-opacity: 0.15; stroke-linejoin: miter"/>
   </g>
   <g id="patch_58">
    <path d="M 43.6784 890.214643 
L 68.824291 890.214643 
L 69.967287 893.643871 
L 73.396272 897.073099 
L 76.253759 905.074632 
L 79.111247 906.789246 
L 82.540232 910.790013 
L 84.254725 910.790013 
L 87.112213 915.362317 
L 89.398203 923.36385 
L 90.541198 937.080763 
L 91.684193 951.940752 
L 93.970183 958.799209 
L 97.399168 965.657665 
L 100.828153 971.373046 
L 103.114144 972.516122 
L 105.400134 974.802274 
L 108.829119 973.659198 
L 112.258104 975.373812 
L 117.973079 974.802274 
L 119.116075 982.803807 
L 123.688055 989.662264 
L 128.260035 991.948416 
L 131.68902 991.376878 
L 133.97501 993.434415 
L 138.546991 993.66303 
L 141.975976 995.377644 
L 146.547956 994.806106 
L 152.262932 995.377644 
L 157.977907 995.949182 
L 162.549887 998.235334 
L 165.978872 999.37841 
L 169.407858 1000.521487 
L 171.693848 1003.950715 
L 175.122833 1007.03702 
L 180.837808 1009.323621 
L 186.552784 1013.896821 
L 192.267759 1017.898372 
L 195.696744 1019.613322 
L 201.41172 1025.329823 
L 205.9837 1027.044774 
L 211.698675 1029.903024 
L 217.41365 1032.761274 
L 221.985631 1035.619525 
L 228.843601 1037.906125 
L 233.75848 1039.049425 
L 245.188431 1039.621076 
L 256.618381 1040.421386 
L 268.048332 1041.107366 
L 279.478283 1042.479326 
L 285.193258 1043.622626 
L 290.908233 1046.480877 
L 302.338184 1048.195827 
L 313.768135 1050.482427 
L 325.198085 1054.483978 
L 336.628036 1057.342228 
L 342.343012 1060.772129 
L 348.057987 1064.77368 
L 353.772962 1068.20358 
L 359.487938 1070.49018 
L 370.917888 1073.348431 
L 382.347839 1075.635031 
L 393.77779 1077.349982 
L 405.20774 1080.208232 
L 416.637691 1083.066482 
L 423.83856 1085.924733 
L 423.83856 1088.782983 
L 416.637691 1088.211333 
L 405.20774 1087.068033 
L 393.77779 1085.924733 
L 382.347839 1084.781433 
L 370.917888 1081.923182 
L 359.487938 1079.064932 
L 353.772962 1076.778331 
L 348.057987 1075.063381 
L 336.628036 1068.77523 
L 325.198085 1065.34533 
L 313.768135 1060.772129 
L 302.338184 1058.485529 
L 290.908233 1056.770578 
L 279.478283 1052.769028 
L 268.048332 1051.054077 
L 256.618381 1049.110467 
L 245.188431 1048.195827 
L 233.75848 1049.339127 
L 226.557611 1047.052527 
L 215.12766 1045.909227 
L 203.69771 1044.765926 
L 197.982734 1044.194276 
L 192.267759 1042.479326 
L 180.837808 1041.336026 
L 173.979838 1040.764376 
L 169.407858 1037.334475 
L 163.692882 1033.904575 
L 152.262932 1036.191175 
L 140.832981 1037.677465 
L 132.832015 1037.334475 
L 125.974045 1035.619525 
L 121.402065 1035.619525 
L 119.116075 1039.049425 
L 115.687089 1040.192726 
L 111.115109 1043.393966 
L 107.686124 1042.479326 
L 103.114144 1043.050976 
L 99.685158 1043.622626 
L 96.256173 1041.336026 
L 93.970183 1033.332925 
L 90.541198 1026.473123 
L 87.112213 1016.183422 
L 83.397479 1006.694097 
L 81.397237 1001.093025 
L 80.254242 992.862877 
L 77.968252 993.091492 
L 73.396272 993.66303 
L 70.538784 997.092258 
L 66.538301 988.519187 
L 64.823809 981.089193 
L 63.109316 980.517655 
L 60.823326 973.08766 
L 56.822843 976.516888 
L 55.108351 975.94535 
L 54.193955 919.934621 
L 52.822361 891.586334 
L 43.6784 891.357719 
z
" clip-path="url(#p29e6fc3dcf)" style="fill: #2ca02c; fill-opacity: 0.15; stroke: #2ca02c; stroke-opacity: 0.15; stroke-linejoin: miter"/>
   </g>
   <g id="patch_59">
    <path d="M 43.6784 890.214643 
L 233.75848 890.214643 
L 233.75848 900.502328 
L 236.04447 902.78848 
L 238.33046 910.790013 
L 240.61645 912.504627 
L 241.187948 919.934621 
L 242.330943 931.365382 
L 243.473938 943.93922 
L 245.188431 955.369981 
L 246.331426 965.657665 
L 247.474421 977.088426 
L 249.760411 988.519187 
L 253.189396 994.234568 
L 255.475386 1007.03702 
L 256.618381 1013.896821 
L 258.904371 1021.899923 
L 261.190362 1029.903024 
L 262.904854 1041.336026 
L 264.619347 1048.195827 
L 268.048332 1052.769028 
L 270.334322 1056.198928 
L 273.763307 1064.202029 
L 277.192293 1069.91853 
L 281.764273 1073.348431 
L 290.908233 1075.635031 
L 302.338184 1077.349982 
L 313.768135 1079.064932 
L 325.198085 1080.208232 
L 336.628036 1080.779882 
L 348.057987 1082.494832 
L 359.487938 1085.924733 
L 370.917888 1089.354633 
L 393.77779 1092.784534 
L 423.83856 1095.642784 
L 423.83856 1097.357735 
L 393.77779 1095.071134 
L 370.917888 1093.356184 
L 348.057987 1091.069584 
L 330.913061 1089.354633 
L 319.48311 1088.211333 
L 308.053159 1087.068033 
L 296.623209 1087.068033 
L 285.193258 1087.068033 
L 279.478283 1087.639683 
L 273.763307 1087.068033 
L 269.191327 1089.354633 
L 265.762342 1087.068033 
L 261.190362 1083.638133 
L 257.761376 1075.635031 
L 255.475386 1064.202029 
L 252.617899 1052.769028 
L 250.903406 1041.336026 
L 249.760411 1033.332925 
L 247.474421 1024.186523 
L 245.188431 1013.896821 
L 243.473938 1007.03702 
L 242.330943 994.234568 
L 241.759445 978.231503 
L 240.61645 964.514589 
L 238.901958 950.797676 
L 237.187465 939.366915 
L 234.901475 931.365382 
L 233.75848 925.650002 
L 233.75848 919.934621 
L 231.129591 908.50386 
L 228.843601 902.78848 
L 224.271621 900.502328 
L 220.842636 899.359252 
L 218.556646 894.786947 
L 203.69771 893.643871 
L 189.981769 891.357719 
L 43.6784 891.357719 
z
" clip-path="url(#p29e6fc3dcf)" style="fill: #1f77b4; fill-opacity: 0.15; stroke: #1f77b4; stroke-opacity: 0.15; stroke-linejoin: miter"/>
   </g>
   <g id="patch_60">
    <path d="M 43.6784 890.214643 
L 233.75848 890.214643 
L 238.33046 890.214643 
L 238.33046 891.357719 
L 241.759445 895.930023 
L 244.616933 905.074632 
L 247.474421 919.934621 
L 250.331908 932.508459 
L 250.903406 942.796143 
L 252.046401 954.226904 
L 253.189396 965.657665 
L 254.903889 977.088426 
L 256.046884 986.233035 
L 257.761376 996.52072 
L 258.904371 1007.03702 
L 260.047367 1013.896821 
L 261.190362 1024.186523 
L 262.333357 1033.332925 
L 263.476352 1041.336026 
L 265.762342 1052.769028 
L 269.191327 1058.485529 
L 273.763307 1065.34533 
L 279.478283 1071.061831 
L 285.193258 1073.920081 
L 290.908233 1076.778331 
L 302.338184 1079.064932 
L 313.768135 1082.494832 
L 325.198085 1085.924733 
L 336.628036 1087.639683 
L 348.057987 1088.782983 
L 370.917888 1090.497934 
L 393.77779 1093.356184 
L 423.83856 1096.786085 
L 423.83856 1098.501035 
L 393.77779 1095.071134 
L 370.917888 1092.784534 
L 348.057987 1091.069584 
L 325.198085 1089.354633 
L 313.768135 1089.926284 
L 302.338184 1089.354633 
L 290.908233 1087.639683 
L 279.478283 1085.924733 
L 273.763307 1083.638133 
L 268.048332 1080.208232 
L 263.476352 1076.778331 
L 260.047367 1071.061831 
L 256.618381 1064.202029 
L 254.332391 1052.769028 
L 252.617899 1041.336026 
L 251.474904 1029.903024 
L 249.760411 1018.470022 
L 248.617416 1007.03702 
L 247.474421 999.949948 
L 245.188431 990.80534 
L 243.473938 982.803807 
L 241.759445 971.373046 
L 240.61645 959.942285 
L 239.473455 948.511524 
L 237.758963 934.794611 
L 236.04447 921.077698 
L 233.75848 908.50386 
L 233.75848 901.645404 
L 225.414616 891.357719 
L 43.6784 891.357719 
z
" clip-path="url(#p29e6fc3dcf)" style="fill: #ff7f0e; fill-opacity: 0.15; stroke: #ff7f0e; stroke-opacity: 0.15; stroke-linejoin: miter"/>
   </g>
   <g id="matplotlib.axis_13">
    <g id="xtick_37">
     <g id="line2d_169">
      <path d="M 43.6800 1122.7200 L 43.6800 890.8800" clip-path="url(#p29e6fc3dcf)" style="fill: none; stroke: #b0b0b0; stroke-opacity: 0.3; stroke-width: 0.8; stroke-linecap: square"/>
     </g>
     <g id="line2d_170">
      <g>
       <path d="M 43.6800 1122.7200 L 43.6800 1126.0800" style="stroke: #000000; stroke-width: 0.8"/>
      </g>
     </g>
     <g id="text_91">
      <text style="font-size: 10px; font-family: 'DejaVu Sans', 'Bitstream Vera Sans', 'Computer Modern Sans Serif', 'Lucida Grande', 'Verdana', 'Geneva', 'Lucid', 'Arial', 'Helvetica', 'Avant Garde', sans-serif; text-anchor: middle" x="43.7015" y="1137.7647" transform="rotate(-0 43.7015 1137.7647)">0.0</text>
     </g>
    </g>
    <g id="xtick_38">
     <g id="line2d_171">
      <path d="M 120.0000 1122.7200 L 120.0000 890.8800" clip-path="url(#p29e6fc3dcf)" style="fill: none; stroke: #b0b0b0; stroke-opacity: 0.3; stroke-width: 0.8; stroke-linecap: square"/>
     </g>
     <g id="line2d_172">
      <g>
       <path d="M 120.0000 1122.7200 L 120.0000 1126.0800" style="stroke: #000000; stroke-width: 0.8"/>
      </g>
     </g>
     <g id="text_92">
      <text style="font-size: 10px; font-family: 'DejaVu Sans', 'Bitstream Vera Sans', 'Computer Modern Sans Serif', 'Lucida Grande', 'Verdana', 'Geneva', 'Lucid', 'Arial', 'Helvetica', 'Avant Garde', sans-serif; text-anchor: middle" x="119.5900" y="1137.7369" transform="rotate(-0 119.5900 1137.7369)">0.2</text>
     </g>
    </g>
    <g id="xtick_39">
     <g id="line2d_173">
      <path d="M 195.8400 1122.7200 L 195.8400 890.8800" clip-path="url(#p29e6fc3dcf)" style="fill: none; stroke: #b0b0b0; stroke-opacity: 0.3; stroke-width: 0.8; stroke-linecap: square"/>
     </g>
     <g id="line2d_174">
      <g>
       <path d="M 195.8400 1122.7200 L 195.8400 1126.0800" style="stroke: #000000; stroke-width: 0.8"/>
      </g>
     </g>
     <g id="text_93">
      <text style="font-size: 10px; font-family: 'DejaVu Sans', 'Bitstream Vera Sans', 'Computer Modern Sans Serif', 'Lucida Grande', 'Verdana', 'Geneva', 'Lucid', 'Arial', 'Helvetica', 'Avant Garde', sans-serif; text-anchor: middle" x="195.9016" y="1137.7209" transform="rotate(-0 195.9016 1137.7209)">0.4</text>
     </g>
    </g>
    <g id="xtick_40">
     <g id="line2d_175">
      <path d="M 271.6800 1122.7200 L 271.6800 890.8800" clip-path="url(#p29e6fc3dcf)" style="fill: none; stroke: #b0b0b0; stroke-opacity: 0.3; stroke-width: 0.8; stroke-linecap: square"/>
     </g>
     <g id="line2d_176">
      <g>
       <path d="M 271.6800 1122.7200 L 271.6800 1126.0800" style="stroke: #000000; stroke-width: 0.8"/>
      </g>
     </g>
     <g id="text_94">
      <text style="font-size: 10px; font-family: 'DejaVu Sans', 'Bitstream Vera Sans', 'Computer Modern Sans Serif', 'Lucida Grande', 'Verdana', 'Geneva', 'Lucid', 'Arial', 'Helvetica', 'Avant Garde', sans-serif; text-anchor: middle" x="271.8153" y="1137.8006" transform="rotate(-0 271.8153 1137.8006)">0.6</text>
     </g>
    </g>
    <g id="xtick_41">
     <g id="line2d_177">
      <path d="M 348.0000 1122.7200 L 348.0000 890.8800" clip-path="url(#p29e6fc3dcf)" style="fill: none; stroke: #b0b0b0; stroke-opacity: 0.3; stroke-width: 0.8; stroke-linecap: square"/>
     </g>
     <g id="line2d_178">
      <g>
       <path d="M 348.0000 1122.7200 L 348.0000 1126.0800" style="stroke: #000000; stroke-width: 0.8"/>
      </g>
     </g>
     <g id="text_95">
      <text style="font-size: 10px; font-family: 'DejaVu Sans', 'Bitstream Vera Sans', 'Computer Modern Sans Serif', 'Lucida Grande', 'Verdana', 'Geneva', 'Lucid', 'Arial', 'Helvetica', 'Avant Garde', sans-serif; text-anchor: middle" x="348.0706" y="1137.7986" transform="rotate(-0 348.0706 1137.7986)">0.8</text>
     </g>
    </g>
    <g id="xtick_42">
     <g id="line2d_179">
      <path d="M 423.8400 1122.7200 L 423.8400 890.8800" clip-path="url(#p29e6fc3dcf)" style="fill: none; stroke: #b0b0b0; stroke-opacity: 0.3; stroke-width: 0.8; stroke-linecap: square"/>
     </g>
     <g id="line2d_180">
      <g>
       <path d="M 423.8400 1122.7200 L 423.8400 1126.0800" style="stroke: #000000; stroke-width: 0.8"/>
      </g>
     </g>
     <g id="text_96">
      <text style="font-size: 10px; font-family: 'DejaVu Sans', 'Bitstream Vera Sans', 'Computer Modern Sans Serif', 'Lucida Grande', 'Verdana', 'Geneva', 'Lucid', 'Arial', 'Helvetica', 'Avant Garde', sans-serif; text-anchor: middle" x="423.9606" y="1137.7403" transform="rotate(-0 423.9606 1137.7403)">1.0</text>
     </g>
    </g>
    <g id="text_97">
     <text style="font-size: 10px; font-family: 'DejaVu Sans', 'Bitstream Vera Sans', 'Computer Modern Sans Serif', 'Lucida Grande', 'Verdana', 'Geneva', 'Lucid', 'Arial', 'Helvetica', 'Avant Garde', sans-serif; text-anchor: middle" x="233.8013" y="1151.2981" transform="rotate(-0 233.8013 1151.2981)">Recall</text>
    </g>
   </g>
   <g id="matplotlib.axis_14">
    <g id="ytick_37">
     <g id="line2d_181">
      <path d="M 43.6800 1122.7200 L 423.8400 1122.7200" clip-path="url(#p29e6fc3dcf)" style="fill: none; stroke: #b0b0b0; stroke-opacity: 0.3; stroke-width: 0.8; stroke-linecap: square"/>
     </g>
     <g id="line2d_182">
      <g>
       <path d="M 43.6800 1122.7200 L 40.3200 1122.7200" style="stroke: #000000; stroke-width: 0.8"/>
      </g>
     </g>
     <g id="text_98">
      <text style="font-size: 10px; font-family: 'DejaVu Sans', 'Bitstream Vera Sans', 'Computer Modern Sans Serif', 'Lucida Grande', 'Verdana', 'Geneva', 'Lucid', 'Arial', 'Helvetica', 'Avant Garde', sans-serif; text-anchor: end" x="36.6852" y="1127.3624" transform="rotate(-0 36.6852 1127.3624)">0.0</text>
     </g>
    </g>
    <g id="ytick_38">
     <g id="line2d_183">
      <path d="M 43.6800 1076.1600 L 423.8400 1076.1600" clip-path="url(#p29e6fc3dcf)" style="fill: none; stroke: #b0b0b0; stroke-opacity: 0.3; stroke-width: 0.8; stroke-linecap: square"/>
     </g>
     <g id="line2d_184">
      <g>
       <path d="M 43.6800 1076.1600 L 40.3200 1076.1600" style="stroke: #000000; stroke-width: 0.8"/>
      </g>
     </g>
     <g id="text_99">
      <text style="font-size: 10px; font-family: 'DejaVu Sans', 'Bitstream Vera Sans', 'Computer Modern Sans Serif', 'Lucida Grande', 'Verdana', 'Geneva', 'Lucid', 'Arial', 'Helvetica', 'Avant Garde', sans-serif; text-anchor: end" x="36.8028" y="1080.5343" transform="rotate(-0 36.8028 1080.5343)">0.2</text>
     </g>
    </g>
    <g id="ytick_39">
     <g id="line2d_185">
      <path d="M 43.6800 1030.0800 L 423.8400 1030.0800" clip-path="url(#p29e6fc3dcf)" style="fill: none; stroke: #b0b0b0; stroke-opacity: 0.3; stroke-width: 0.8; stroke-linecap: square"/>
     </g>
     <g id="line2d_186">
      <g>
       <path d="M 43.6800 1030.0800 L 40.3200 1030.0800" style="stroke: #000000; stroke-width: 0.8"/>
      </g>
     </g>
     <g id="text_100">
      <text style="font-size: 10px; font-family: 'DejaVu Sans', 'Bitstream Vera Sans', 'Computer Modern Sans Serif', 'Lucida Grande', 'Verdana', 'Geneva', 'Lucid', 'Arial', 'Helvetica', 'Avant Garde', sans-serif; text-anchor: end" x="36.8010" y="1034.1452" transform="rotate(-0 36.8010 1034.1452)">0.4</text>
     </g>
    </g>
    <g id="ytick_40">
     <g id="line2d_187">
      <path d="M 43.6800 983.5200 L 423.8400 983.5200" clip-path="url(#p29e6fc3dcf)" style="fill: none; stroke: #b0b0b0; stroke-opacity: 0.3; stroke-width: 0.8; stroke-linecap: square"/>
     </g>
     <g id="line2d_188">
      <g>
       <path d="M 43.6800 983.5200 L 40.3200 983.5200" style="stroke: #000000; stroke-width: 0.8"/>
      </g>
     </g>
     <g id="text_101">
      <text style="font-size: 10px; font-family: 'DejaVu Sans', 'Bitstream Vera Sans', 'Computer Modern Sans Serif', 'Lucida Grande', 'Verdana', 'Geneva', 'Lucid', 'Arial', 'Helvetica', 'Avant Garde', sans-serif; text-anchor: end" x="36.8016" y="988.3438" transform="rotate(-0 36.8016 988.3438)">0.6</text>
     </g>
    </g>
    <g id="ytick_41">
     <g id="line2d_189">
      <path d="M 43.6800 937.4400 L 423.8400 937.4400" clip-path="url(#p29e6fc3dcf)" style="fill: none; stroke: #b0b0b0; stroke-opacity: 0.3; stroke-width: 0.8; stroke-linecap: square"/>
     </g>
     <g id="line2d_190">
      <g>
       <path d="M 43.6800 937.4400 L 40.3200 937.4400" style="stroke: #000000; stroke-width: 0.8"/>
      </g>
     </g>
     <g id="text_102">
      <text style="font-size: 10px; font-family: 'DejaVu Sans', 'Bitstream Vera Sans', 'Computer Modern Sans Serif', 'Lucida Grande', 'Verdana', 'Geneva', 'Lucid', 'Arial', 'Helvetica', 'Avant Garde', sans-serif; text-anchor: end" x="36.7084" y="941.4884" transform="rotate(-0 36.7084 941.4884)">0.8</text>
     </g>
    </g>
    <g id="ytick_42">
     <g id="line2d_191">
      <path d="M 43.6800 890.8800 L 423.8400 890.8800" clip-path="url(#p29e6fc3dcf)" style="fill: none; stroke: #b0b0b0; stroke-opacity: 0.3; stroke-width: 0.8; stroke-linecap: square"/>
     </g>
     <g id="line2d_192">
      <g>
       <path d="M 43.6800 890.8800 L 40.3200 890.8800" style="stroke: #000000; stroke-width: 0.8"/>
      </g>
     </g>
     <g id="text_103">
      <text style="font-size: 10px; font-family: 'DejaVu Sans', 'Bitstream Vera Sans', 'Computer Modern Sans Serif', 'Lucida Grande', 'Verdana', 'Geneva', 'Lucid', 'Arial', 'Helvetica', 'Avant Garde', sans-serif; text-anchor: end" x="36.6133" y="895.5270" transform="rotate(-0 36.6133 895.5270)">1.0</text>
     </g>
    </g>
    <g id="text_104">
     <text style="font-size: 10px; font-family: 'DejaVu Sans', 'Bitstream Vera Sans', 'Computer Modern Sans Serif', 'Lucida Grande', 'Verdana', 'Geneva', 'Lucid', 'Arial', 'Helvetica', 'Avant Garde', sans-serif; text-anchor: middle" x="15.1461" y="1009.3557" transform="rotate(-90 15.1461 1009.3557)">Precision</text>
    </g>
   </g>
   <g id="line2d_193">
    <path d="M 43.6784 891.357719 
L 44.821395 1007.03702 
L 45.392893 1111.077337 
L 47.335984 1113.935587 
L 51.679365 1106.504136 
L 58.537336 1096.214435 
L 66.538301 1084.209783 
L 75.682262 1076.206681 
L 87.112213 1068.77523 
L 92.827188 1069.00389 
L 98.542163 1067.86059 
L 105.400134 1064.202029 
L 113.401099 1060.772129 
L 121.402065 1058.485529 
L 129.40303 1056.427588 
L 137.403996 1056.427588 
L 140.832981 1056.770578 
L 148.833946 1055.627278 
L 155.691917 1055.627278 
L 163.692882 1054.140988 
L 167.121867 1053.340678 
L 175.122833 1053.569338 
L 183.123798 1053.340678 
L 188.838774 1054.255318 
L 197.982734 1053.912328 
L 205.9837 1054.826968 
L 215.12766 1055.055628 
L 221.985631 1055.284288 
L 226.557611 1056.427588 
L 233.75848 1057.227898 
L 239.473455 1058.485529 
L 245.188431 1060.200479 
L 250.903406 1061.915429 
L 256.618381 1063.058729 
L 262.333357 1064.77368 
L 268.048332 1066.48863 
L 273.763307 1067.63193 
L 279.478283 1068.77523 
L 285.193258 1070.49018 
L 290.908233 1072.433791 
L 296.623209 1074.491731 
L 302.338184 1077.921632 
L 308.053159 1080.779882 
L 313.768135 1082.494832 
L 319.48311 1084.209783 
L 325.198085 1085.924733 
L 330.913061 1087.068033 
L 336.628036 1088.782983 
L 348.057987 1090.497934 
L 359.487938 1091.069584 
L 370.917888 1091.641234 
L 382.347839 1092.784534 
L 393.77779 1093.356184 
L 405.20774 1094.499484 
L 416.637691 1095.642784 
L 423.83856 1096.443095 
" clip-path="url(#p29e6fc3dcf)" style="fill: none; stroke: #9467bd; stroke-width: 1.5; stroke-linecap: square"/>
   </g>
   <g id="line2d_194">
    <path d="M 43.6784 891.129104 
L 52.822361 891.357719 
L 53.965356 905.074632 
L 54.879752 918.791545 
L 58.537336 921.077698 
L 60.823326 920.849082 
L 62.537819 929.650768 
L 64.823809 930.222306 
L 67.109799 933.651535 
L 69.967287 945.653834 
L 72.253277 945.082296 
L 76.253759 949.083062 
L 79.682745 949.6546 
L 81.397237 957.656133 
L 83.683227 958.799209 
L 85.969218 965.657665 
L 87.68371 967.37228 
L 89.398203 974.802274 
L 90.541198 982.803807 
L 91.684193 990.80534 
L 93.970183 996.52072 
L 95.684676 1001.093025 
L 98.542163 1004.522253 
L 100.828153 1007.03702 
L 105.400134 1008.180321 
L 108.829119 1007.95166 
L 110.543612 1009.094961 
L 117.973079 1007.03702 
L 119.687572 1009.895271 
L 123.688055 1012.181871 
L 128.260035 1013.668161 
L 132.260518 1014.125481 
L 133.97501 1015.268782 
L 140.832981 1016.412082 
L 144.261966 1015.954762 
L 152.262932 1015.268782 
L 157.977907 1015.954762 
L 162.549887 1016.183422 
L 168.264863 1018.470022 
L 173.979838 1023.043223 
L 178.551818 1024.758173 
L 184.266793 1027.044774 
L 188.838774 1029.331374 
L 194.553749 1030.474674 
L 197.982734 1032.761274 
L 202.554715 1035.619525 
L 205.9837 1036.191175 
L 210.55568 1037.334475 
L 215.12766 1039.049425 
L 220.842636 1040.421386 
L 226.557611 1041.907676 
L 233.75848 1043.622626 
L 239.473455 1043.393966 
L 245.188431 1043.851286 
L 250.903406 1044.194276 
L 256.618381 1044.537266 
L 262.333357 1045.909227 
L 268.048332 1046.480877 
L 273.763307 1046.480877 
L 279.478283 1047.624177 
L 285.193258 1049.910777 
L 290.908233 1052.197378 
L 296.623209 1053.912328 
L 302.338184 1053.912328 
L 308.053159 1055.627278 
L 313.768135 1056.198928 
L 319.48311 1059.057179 
L 322.912095 1060.772129 
L 330.913061 1063.058729 
L 336.628036 1064.77368 
L 342.343012 1067.63193 
L 348.057987 1070.49018 
L 353.772962 1072.776781 
L 359.487938 1074.491731 
L 365.202913 1076.206681 
L 370.917888 1078.493282 
L 376.632864 1079.636582 
L 382.347839 1080.779882 
L 393.77779 1081.351532 
L 399.492765 1082.266172 
L 405.20774 1083.066482 
L 410.922716 1085.124423 
L 421.209671 1086.153393 
L 422.352666 1093.927834 
L 423.83856 1096.786085 
" clip-path="url(#p29e6fc3dcf)" style="fill: none; stroke: #2ca02c; stroke-width: 1.5; stroke-linecap: square"/>
   </g>
   <g id="line2d_195">
    <path d="M 43.6784 891.357719 
L 189.981769 891.357719 
L 203.69771 892.500795 
L 218.556646 893.072333 
L 221.414133 895.358485 
L 226.557611 895.930023 
L 228.843601 898.216176 
L 231.129591 905.074632 
L 233.75848 911.933089 
L 233.75848 914.219241 
L 236.615968 922.220774 
L 238.901958 931.365382 
L 240.61645 941.653067 
L 241.759445 955.369981 
L 242.902441 966.800742 
L 244.616933 978.231503 
L 246.331426 988.519187 
L 248.045918 997.663796 
L 249.188913 1007.03702 
L 250.331908 1013.896821 
L 252.046401 1023.043223 
L 254.903889 1032.189624 
L 256.618381 1039.049425 
L 258.332874 1045.909227 
L 260.618864 1052.769028 
L 262.904854 1059.628829 
L 264.619347 1065.34533 
L 268.048332 1069.91853 
L 272.620312 1074.491731 
L 277.192293 1077.349982 
L 285.193258 1080.208232 
L 296.623209 1081.351532 
L 308.053159 1082.494832 
L 319.48311 1083.866793 
L 330.913061 1084.781433 
L 342.343012 1085.924733 
L 348.057987 1087.068033 
L 359.487938 1089.354633 
L 370.917888 1091.412574 
L 382.347839 1093.013194 
L 393.77779 1094.156494 
L 405.20774 1095.071134 
L 416.637691 1095.985774 
L 423.83856 1096.786085 
" clip-path="url(#p29e6fc3dcf)" style="fill: none; stroke: #1f77b4; stroke-width: 1.5; stroke-linecap: square"/>
   </g>
   <g id="line2d_196">
    <path d="M 43.6784 891.357719 
L 226.557611 891.357719 
L 229.986596 893.643871 
L 233.75848 900.502328 
L 236.04447 906.217708 
L 237.758963 913.076165 
L 240.61645 918.791545 
L 241.759445 925.650002 
L 242.902441 937.080763 
L 244.045436 945.082296 
L 245.759928 955.369981 
L 246.902923 964.514589 
L 248.045918 971.373046 
L 249.760411 979.374579 
L 250.903406 988.519187 
L 252.046401 998.806872 
L 252.960797 1007.03702 
L 253.760894 1015.040122 
L 255.475386 1021.899923 
L 257.189879 1029.903024 
L 258.332874 1037.906125 
L 259.475869 1044.765926 
L 261.190362 1052.769028 
L 262.904854 1058.485529 
L 265.190844 1065.34533 
L 268.048332 1069.91853 
L 272.620312 1074.491731 
L 277.192293 1077.349982 
L 285.193258 1081.351532 
L 293.194224 1083.638133 
L 302.338184 1085.924733 
L 313.768135 1087.068033 
L 325.198085 1087.639683 
L 336.628036 1088.782983 
L 348.057987 1089.354633 
L 359.487938 1090.497934 
L 370.917888 1091.641234 
L 382.347839 1092.784534 
L 393.77779 1094.156494 
L 405.20774 1095.299794 
L 416.637691 1096.786085 
L 423.83856 1097.929385 
" clip-path="url(#p29e6fc3dcf)" style="fill: none; stroke: #ff7f0e; stroke-width: 1.5; stroke-linecap: square"/>
   </g>
   <g id="patch_61">
    <path d="M 43.6800 1122.7200 L 43.6800 890.8800" style="fill: none; stroke: #000000; stroke-width: 0.8; stroke-linejoin: miter; stroke-linecap: square"/>
   </g>
   <g id="patch_62">
    <path d="M 423.8400 1122.7200 L 423.8400 890.8800" style="fill: none; stroke: #000000; stroke-width: 0.8; stroke-linejoin: miter; stroke-linecap: square"/>
   </g>
   <g id="patch_63">
    <path d="M 43.6800 1122.7200 L 423.8400 1122.7200" style="fill: none; stroke: #000000; stroke-width: 0.8; stroke-linejoin: miter; stroke-linecap: square"/>
   </g>
   <g id="patch_64">
    <path d="M 43.6800 890.8800 L 423.8400 890.8800" style="fill: none; stroke: #000000; stroke-width: 0.8; stroke-linejoin: miter; stroke-linecap: square"/>
   </g>
   <g id="text_105">
    <text style="font-size: 12px; font-family: 'DejaVu Sans', 'Bitstream Vera Sans', 'Computer Modern Sans Serif', 'Lucida Grande', 'Verdana', 'Geneva', 'Lucid', 'Arial', 'Helvetica', 'Avant Garde', sans-serif; text-anchor: middle" x="233.2597" y="885.1560" transform="rotate(-0 233.2597 885.1560)">Latent Dim. = 1024</text>
   </g>
  </g>
  <g id="axes_8">
   <g id="legend_1">
    <g id="line2d_197">
     <path d="M 597.31464 981.54982 
L 608.31464 981.54982 
L 619.31464 981.54982 
" style="fill: none; stroke: #9467bd; stroke-width: 2; stroke-linecap: square"/>
    </g>
    <g id="text_106">
     <text style="font-size: 11px; font-family: 'DejaVu Sans', 'Bitstream Vera Sans', 'Computer Modern Sans Serif', 'Lucida Grande', 'Verdana', 'Geneva', 'Lucid', 'Arial', 'Helvetica', 'Avant Garde', sans-serif; text-anchor: start" x="628.1767" y="985.8845" transform="rotate(-0 628.1767 985.8845)">IsolationForest</text>
    </g>
    <g id="line2d_198">
     <path d="M 597.31464 998.08982 
L 608.31464 998.08982 
L 619.31464 998.08982 
" style="fill: none; stroke: #2ca02c; stroke-width: 2; stroke-linecap: square"/>
    </g>
    <g id="text_107">
     <text style="font-size: 11px; font-family: 'DejaVu Sans', 'Bitstream Vera Sans', 'Computer Modern Sans Serif', 'Lucida Grande', 'Verdana', 'Geneva', 'Lucid', 'Arial', 'Helvetica', 'Avant Garde', sans-serif; text-anchor: start" x="628.0293" y="1001.9300" transform="rotate(-0 628.0293 1001.9300)">OC-SVM</text>
    </g>
    <g id="line2d_199">
     <path d="M 597.31464 1014.62982 
L 608.31464 1014.62982 
L 619.31464 1014.62982 
" style="fill: none; stroke: #1f77b4; stroke-width: 2; stroke-linecap: square"/>
    </g>
    <g id="text_108">
     <text style="font-size: 11px; font-family: 'DejaVu Sans', 'Bitstream Vera Sans', 'Computer Modern Sans Serif', 'Lucida Grande', 'Verdana', 'Geneva', 'Lucid', 'Arial', 'Helvetica', 'Avant Garde', sans-serif; text-anchor: start" x="628.5653" y="1018.9775" transform="rotate(-0 628.5653 1018.9775)">DeepSAD (LeNet)</text>
    </g>
    <g id="line2d_200">
     <path d="M 597.31464 1031.16982 
L 608.31464 1031.16982 
L 619.31464 1031.16982 
" style="fill: none; stroke: #ff7f0e; stroke-width: 2; stroke-linecap: square"/>
    </g>
    <g id="text_109">
     <text style="font-size: 11px; font-family: 'DejaVu Sans', 'Bitstream Vera Sans', 'Computer Modern Sans Serif', 'Lucida Grande', 'Verdana', 'Geneva', 'Lucid', 'Arial', 'Helvetica', 'Avant Garde', sans-serif; text-anchor: start" x="628.3702" y="1035.0368" transform="rotate(-0 628.3702 1035.0368)">DeepSAD (Efficient)</text>
    </g>
   </g>
  </g>
  <g id="text_110">
   <text style="font-size: 14px; font-family: 'DejaVu Sans', 'Bitstream Vera Sans', 'Computer Modern Sans Serif', 'Lucida Grande', 'Verdana', 'Geneva', 'Lucid', 'Arial', 'Helvetica', 'Avant Garde', sans-serif; text-anchor: middle" x="436.3501" y="17.7492" transform="rotate(-0 436.3501 17.7492)">PRC — Experiment-Label-Based (Semi-Labeling Regime = 0/0)</text>
  </g>
 </g>
 <defs>
  <clipPath id="pd69a87512f">
   <rect x="43.76" y="41.76048" width="380.16976" height="231.8194"/>
  </clipPath>
  <clipPath id="p1ceb01bb63">
   <rect x="477.07976" y="41.76048" width="380.16976" height="231.8194"/>
  </clipPath>
  <clipPath id="p664bd50857">
   <rect x="43.76" y="324.90036" width="380.16976" height="231.8194"/>
  </clipPath>
  <clipPath id="p2d7b4cce1e">
   <rect x="477.07976" y="324.90036" width="380.16976" height="231.8194"/>
  </clipPath>
  <clipPath id="p7af9a70f86">
   <rect x="43.76" y="608.04024" width="380.16976" height="231.8194"/>
  </clipPath>
  <clipPath id="pe53091ce00">
   <rect x="477.07976" y="608.04024" width="380.16976" height="231.8194"/>
  </clipPath>
  <clipPath id="p29e6fc3dcf">
   <rect x="43.76" y="891.18012" width="380.16976" height="231.8194"/>
  </clipPath>
 </defs>
</svg>

</body></html>
